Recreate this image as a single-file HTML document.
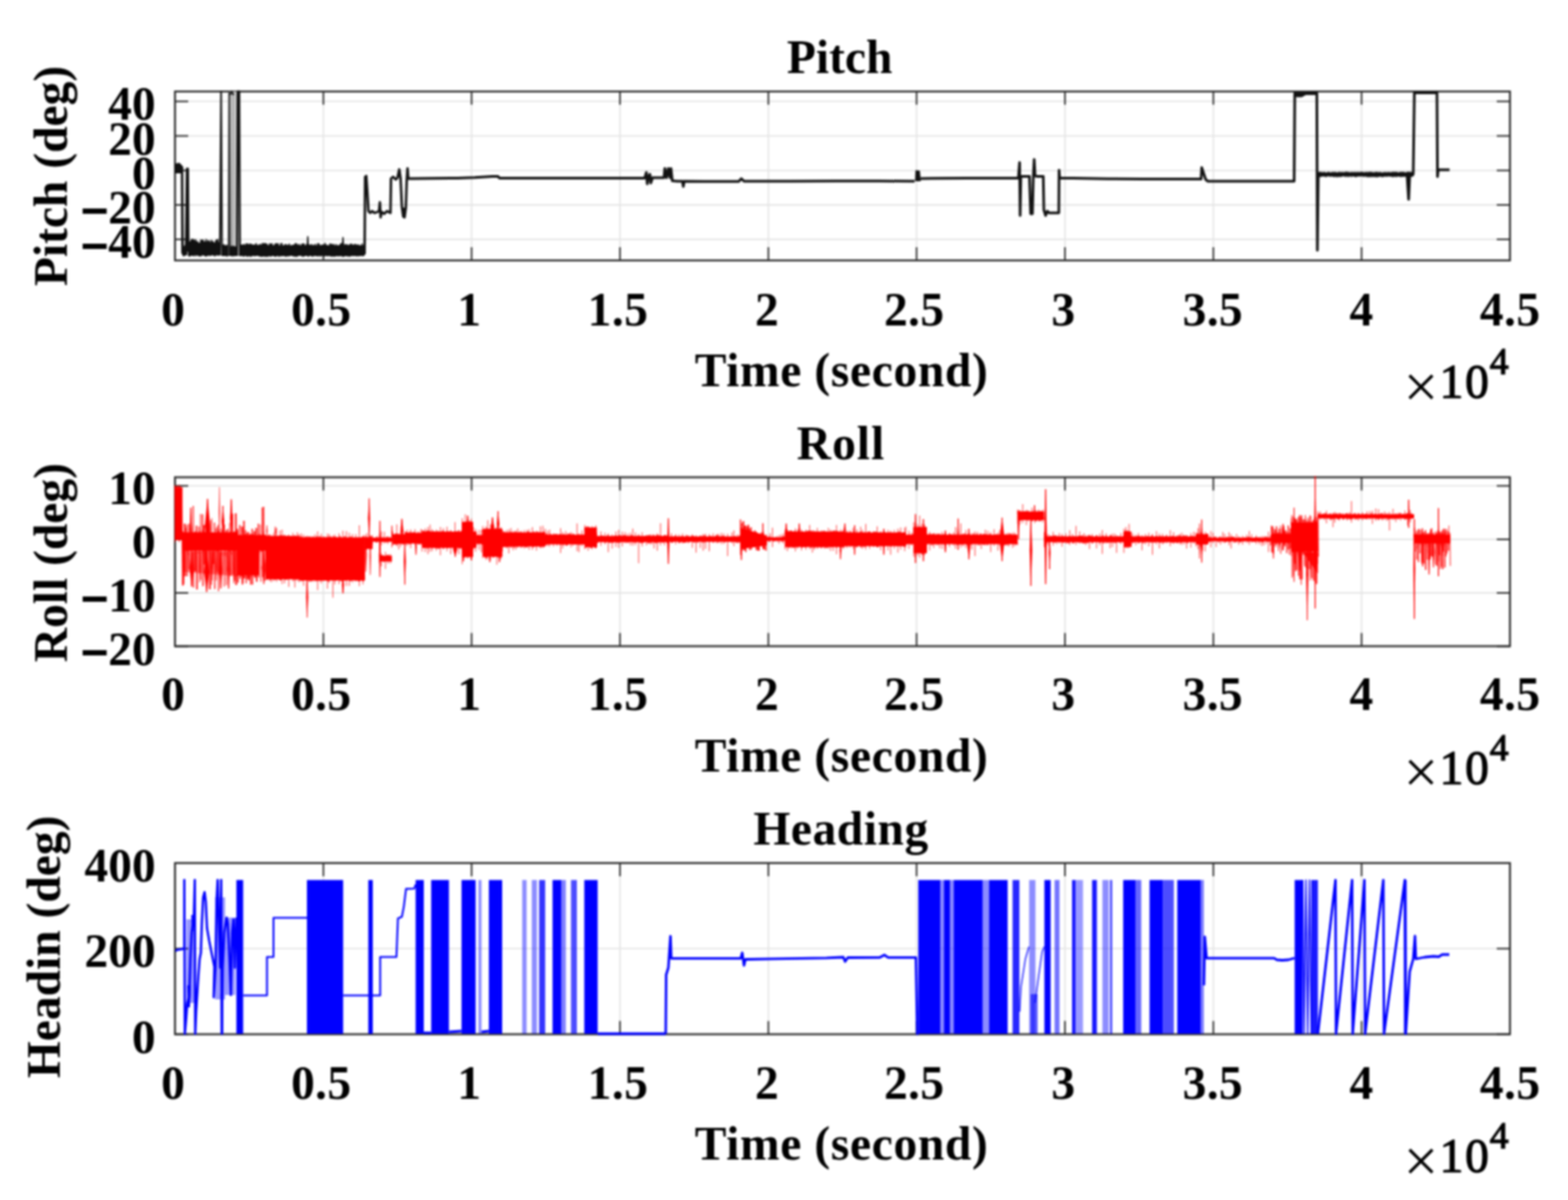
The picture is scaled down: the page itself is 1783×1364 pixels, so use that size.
<!DOCTYPE html>
<html><head><meta charset="utf-8"><style>html,body{margin:0;padding:0;background:#fff;}svg{display:block;}#wrap{filter:blur(1px);width:1783px;height:1364px;}</style></head>
<body><div id="wrap">
<svg width="1783" height="1364" viewBox="0 0 1783 1364">
<rect x="0" y="0" width="1783" height="1364" fill="#fff"/>
<line x1="367.7" y1="104.0" x2="367.7" y2="296.0" stroke="#e4e4e4" stroke-width="1.6"/>
<line x1="536.3" y1="104.0" x2="536.3" y2="296.0" stroke="#e4e4e4" stroke-width="1.6"/>
<line x1="705" y1="104.0" x2="705" y2="296.0" stroke="#e4e4e4" stroke-width="1.6"/>
<line x1="873.7" y1="104.0" x2="873.7" y2="296.0" stroke="#e4e4e4" stroke-width="1.6"/>
<line x1="1042.3" y1="104.0" x2="1042.3" y2="296.0" stroke="#e4e4e4" stroke-width="1.6"/>
<line x1="1211" y1="104.0" x2="1211" y2="296.0" stroke="#e4e4e4" stroke-width="1.6"/>
<line x1="1379.7" y1="104.0" x2="1379.7" y2="296.0" stroke="#e4e4e4" stroke-width="1.6"/>
<line x1="1548.3" y1="104.0" x2="1548.3" y2="296.0" stroke="#e4e4e4" stroke-width="1.6"/>
<line x1="199.0" y1="115.3" x2="1717.0" y2="115.3" stroke="#e4e4e4" stroke-width="1.6"/>
<line x1="199.0" y1="154.5" x2="1717.0" y2="154.5" stroke="#e4e4e4" stroke-width="1.6"/>
<line x1="199.0" y1="193.7" x2="1717.0" y2="193.7" stroke="#e4e4e4" stroke-width="1.6"/>
<line x1="199.0" y1="232.9" x2="1717.0" y2="232.9" stroke="#e4e4e4" stroke-width="1.6"/>
<line x1="199.0" y1="272.1" x2="1717.0" y2="272.1" stroke="#e4e4e4" stroke-width="1.6"/>
<line x1="367.7" y1="542.5" x2="367.7" y2="734.5" stroke="#e4e4e4" stroke-width="1.6"/>
<line x1="536.3" y1="542.5" x2="536.3" y2="734.5" stroke="#e4e4e4" stroke-width="1.6"/>
<line x1="705" y1="542.5" x2="705" y2="734.5" stroke="#e4e4e4" stroke-width="1.6"/>
<line x1="873.7" y1="542.5" x2="873.7" y2="734.5" stroke="#e4e4e4" stroke-width="1.6"/>
<line x1="1042.3" y1="542.5" x2="1042.3" y2="734.5" stroke="#e4e4e4" stroke-width="1.6"/>
<line x1="1211" y1="542.5" x2="1211" y2="734.5" stroke="#e4e4e4" stroke-width="1.6"/>
<line x1="1379.7" y1="542.5" x2="1379.7" y2="734.5" stroke="#e4e4e4" stroke-width="1.6"/>
<line x1="1548.3" y1="542.5" x2="1548.3" y2="734.5" stroke="#e4e4e4" stroke-width="1.6"/>
<line x1="199.0" y1="552.3" x2="1717.0" y2="552.3" stroke="#e4e4e4" stroke-width="1.6"/>
<line x1="199.0" y1="613.1" x2="1717.0" y2="613.1" stroke="#e4e4e4" stroke-width="1.6"/>
<line x1="199.0" y1="673.9" x2="1717.0" y2="673.9" stroke="#e4e4e4" stroke-width="1.6"/>
<line x1="367.7" y1="981.0" x2="367.7" y2="1175.6" stroke="#e4e4e4" stroke-width="1.6"/>
<line x1="536.3" y1="981.0" x2="536.3" y2="1175.6" stroke="#e4e4e4" stroke-width="1.6"/>
<line x1="705" y1="981.0" x2="705" y2="1175.6" stroke="#e4e4e4" stroke-width="1.6"/>
<line x1="873.7" y1="981.0" x2="873.7" y2="1175.6" stroke="#e4e4e4" stroke-width="1.6"/>
<line x1="1042.3" y1="981.0" x2="1042.3" y2="1175.6" stroke="#e4e4e4" stroke-width="1.6"/>
<line x1="1211" y1="981.0" x2="1211" y2="1175.6" stroke="#e4e4e4" stroke-width="1.6"/>
<line x1="1379.7" y1="981.0" x2="1379.7" y2="1175.6" stroke="#e4e4e4" stroke-width="1.6"/>
<line x1="1548.3" y1="981.0" x2="1548.3" y2="1175.6" stroke="#e4e4e4" stroke-width="1.6"/>
<line x1="199.0" y1="1078.3" x2="1717.0" y2="1078.3" stroke="#e4e4e4" stroke-width="1.6"/>
<line x1="199" y1="296.0" x2="199" y2="281.0" stroke="#2e2e2e" stroke-width="1.8"/>
<line x1="199" y1="104.0" x2="199" y2="119.0" stroke="#2e2e2e" stroke-width="1.8"/>
<line x1="367.7" y1="296.0" x2="367.7" y2="281.0" stroke="#2e2e2e" stroke-width="1.8"/>
<line x1="367.7" y1="104.0" x2="367.7" y2="119.0" stroke="#2e2e2e" stroke-width="1.8"/>
<line x1="536.3" y1="296.0" x2="536.3" y2="281.0" stroke="#2e2e2e" stroke-width="1.8"/>
<line x1="536.3" y1="104.0" x2="536.3" y2="119.0" stroke="#2e2e2e" stroke-width="1.8"/>
<line x1="705" y1="296.0" x2="705" y2="281.0" stroke="#2e2e2e" stroke-width="1.8"/>
<line x1="705" y1="104.0" x2="705" y2="119.0" stroke="#2e2e2e" stroke-width="1.8"/>
<line x1="873.7" y1="296.0" x2="873.7" y2="281.0" stroke="#2e2e2e" stroke-width="1.8"/>
<line x1="873.7" y1="104.0" x2="873.7" y2="119.0" stroke="#2e2e2e" stroke-width="1.8"/>
<line x1="1042.3" y1="296.0" x2="1042.3" y2="281.0" stroke="#2e2e2e" stroke-width="1.8"/>
<line x1="1042.3" y1="104.0" x2="1042.3" y2="119.0" stroke="#2e2e2e" stroke-width="1.8"/>
<line x1="1211" y1="296.0" x2="1211" y2="281.0" stroke="#2e2e2e" stroke-width="1.8"/>
<line x1="1211" y1="104.0" x2="1211" y2="119.0" stroke="#2e2e2e" stroke-width="1.8"/>
<line x1="1379.7" y1="296.0" x2="1379.7" y2="281.0" stroke="#2e2e2e" stroke-width="1.8"/>
<line x1="1379.7" y1="104.0" x2="1379.7" y2="119.0" stroke="#2e2e2e" stroke-width="1.8"/>
<line x1="1548.3" y1="296.0" x2="1548.3" y2="281.0" stroke="#2e2e2e" stroke-width="1.8"/>
<line x1="1548.3" y1="104.0" x2="1548.3" y2="119.0" stroke="#2e2e2e" stroke-width="1.8"/>
<line x1="1717" y1="296.0" x2="1717" y2="281.0" stroke="#2e2e2e" stroke-width="1.8"/>
<line x1="1717" y1="104.0" x2="1717" y2="119.0" stroke="#2e2e2e" stroke-width="1.8"/>
<line x1="199.0" y1="115.3" x2="214.0" y2="115.3" stroke="#2e2e2e" stroke-width="1.8"/>
<line x1="1717.0" y1="115.3" x2="1702.0" y2="115.3" stroke="#2e2e2e" stroke-width="1.8"/>
<line x1="199.0" y1="154.5" x2="214.0" y2="154.5" stroke="#2e2e2e" stroke-width="1.8"/>
<line x1="1717.0" y1="154.5" x2="1702.0" y2="154.5" stroke="#2e2e2e" stroke-width="1.8"/>
<line x1="199.0" y1="193.7" x2="214.0" y2="193.7" stroke="#2e2e2e" stroke-width="1.8"/>
<line x1="1717.0" y1="193.7" x2="1702.0" y2="193.7" stroke="#2e2e2e" stroke-width="1.8"/>
<line x1="199.0" y1="232.9" x2="214.0" y2="232.9" stroke="#2e2e2e" stroke-width="1.8"/>
<line x1="1717.0" y1="232.9" x2="1702.0" y2="232.9" stroke="#2e2e2e" stroke-width="1.8"/>
<line x1="199.0" y1="272.1" x2="214.0" y2="272.1" stroke="#2e2e2e" stroke-width="1.8"/>
<line x1="1717.0" y1="272.1" x2="1702.0" y2="272.1" stroke="#2e2e2e" stroke-width="1.8"/>
<rect x="199.0" y="104.0" width="1518.0" height="192.0" fill="none" stroke="#2e2e2e" stroke-width="2.2"/>
<line x1="199" y1="734.5" x2="199" y2="719.5" stroke="#2e2e2e" stroke-width="1.8"/>
<line x1="199" y1="542.5" x2="199" y2="557.5" stroke="#2e2e2e" stroke-width="1.8"/>
<line x1="367.7" y1="734.5" x2="367.7" y2="719.5" stroke="#2e2e2e" stroke-width="1.8"/>
<line x1="367.7" y1="542.5" x2="367.7" y2="557.5" stroke="#2e2e2e" stroke-width="1.8"/>
<line x1="536.3" y1="734.5" x2="536.3" y2="719.5" stroke="#2e2e2e" stroke-width="1.8"/>
<line x1="536.3" y1="542.5" x2="536.3" y2="557.5" stroke="#2e2e2e" stroke-width="1.8"/>
<line x1="705" y1="734.5" x2="705" y2="719.5" stroke="#2e2e2e" stroke-width="1.8"/>
<line x1="705" y1="542.5" x2="705" y2="557.5" stroke="#2e2e2e" stroke-width="1.8"/>
<line x1="873.7" y1="734.5" x2="873.7" y2="719.5" stroke="#2e2e2e" stroke-width="1.8"/>
<line x1="873.7" y1="542.5" x2="873.7" y2="557.5" stroke="#2e2e2e" stroke-width="1.8"/>
<line x1="1042.3" y1="734.5" x2="1042.3" y2="719.5" stroke="#2e2e2e" stroke-width="1.8"/>
<line x1="1042.3" y1="542.5" x2="1042.3" y2="557.5" stroke="#2e2e2e" stroke-width="1.8"/>
<line x1="1211" y1="734.5" x2="1211" y2="719.5" stroke="#2e2e2e" stroke-width="1.8"/>
<line x1="1211" y1="542.5" x2="1211" y2="557.5" stroke="#2e2e2e" stroke-width="1.8"/>
<line x1="1379.7" y1="734.5" x2="1379.7" y2="719.5" stroke="#2e2e2e" stroke-width="1.8"/>
<line x1="1379.7" y1="542.5" x2="1379.7" y2="557.5" stroke="#2e2e2e" stroke-width="1.8"/>
<line x1="1548.3" y1="734.5" x2="1548.3" y2="719.5" stroke="#2e2e2e" stroke-width="1.8"/>
<line x1="1548.3" y1="542.5" x2="1548.3" y2="557.5" stroke="#2e2e2e" stroke-width="1.8"/>
<line x1="1717" y1="734.5" x2="1717" y2="719.5" stroke="#2e2e2e" stroke-width="1.8"/>
<line x1="1717" y1="542.5" x2="1717" y2="557.5" stroke="#2e2e2e" stroke-width="1.8"/>
<line x1="199.0" y1="552.3" x2="214.0" y2="552.3" stroke="#2e2e2e" stroke-width="1.8"/>
<line x1="1717.0" y1="552.3" x2="1702.0" y2="552.3" stroke="#2e2e2e" stroke-width="1.8"/>
<line x1="199.0" y1="613.1" x2="214.0" y2="613.1" stroke="#2e2e2e" stroke-width="1.8"/>
<line x1="1717.0" y1="613.1" x2="1702.0" y2="613.1" stroke="#2e2e2e" stroke-width="1.8"/>
<line x1="199.0" y1="673.9" x2="214.0" y2="673.9" stroke="#2e2e2e" stroke-width="1.8"/>
<line x1="1717.0" y1="673.9" x2="1702.0" y2="673.9" stroke="#2e2e2e" stroke-width="1.8"/>
<line x1="199.0" y1="734.7" x2="214.0" y2="734.7" stroke="#2e2e2e" stroke-width="1.8"/>
<line x1="1717.0" y1="734.7" x2="1702.0" y2="734.7" stroke="#2e2e2e" stroke-width="1.8"/>
<rect x="199.0" y="542.5" width="1518.0" height="192.0" fill="none" stroke="#2e2e2e" stroke-width="2.2"/>
<line x1="199" y1="1175.6" x2="199" y2="1160.6" stroke="#2e2e2e" stroke-width="1.8"/>
<line x1="199" y1="981.0" x2="199" y2="996.0" stroke="#2e2e2e" stroke-width="1.8"/>
<line x1="367.7" y1="1175.6" x2="367.7" y2="1160.6" stroke="#2e2e2e" stroke-width="1.8"/>
<line x1="367.7" y1="981.0" x2="367.7" y2="996.0" stroke="#2e2e2e" stroke-width="1.8"/>
<line x1="536.3" y1="1175.6" x2="536.3" y2="1160.6" stroke="#2e2e2e" stroke-width="1.8"/>
<line x1="536.3" y1="981.0" x2="536.3" y2="996.0" stroke="#2e2e2e" stroke-width="1.8"/>
<line x1="705" y1="1175.6" x2="705" y2="1160.6" stroke="#2e2e2e" stroke-width="1.8"/>
<line x1="705" y1="981.0" x2="705" y2="996.0" stroke="#2e2e2e" stroke-width="1.8"/>
<line x1="873.7" y1="1175.6" x2="873.7" y2="1160.6" stroke="#2e2e2e" stroke-width="1.8"/>
<line x1="873.7" y1="981.0" x2="873.7" y2="996.0" stroke="#2e2e2e" stroke-width="1.8"/>
<line x1="1042.3" y1="1175.6" x2="1042.3" y2="1160.6" stroke="#2e2e2e" stroke-width="1.8"/>
<line x1="1042.3" y1="981.0" x2="1042.3" y2="996.0" stroke="#2e2e2e" stroke-width="1.8"/>
<line x1="1211" y1="1175.6" x2="1211" y2="1160.6" stroke="#2e2e2e" stroke-width="1.8"/>
<line x1="1211" y1="981.0" x2="1211" y2="996.0" stroke="#2e2e2e" stroke-width="1.8"/>
<line x1="1379.7" y1="1175.6" x2="1379.7" y2="1160.6" stroke="#2e2e2e" stroke-width="1.8"/>
<line x1="1379.7" y1="981.0" x2="1379.7" y2="996.0" stroke="#2e2e2e" stroke-width="1.8"/>
<line x1="1548.3" y1="1175.6" x2="1548.3" y2="1160.6" stroke="#2e2e2e" stroke-width="1.8"/>
<line x1="1548.3" y1="981.0" x2="1548.3" y2="996.0" stroke="#2e2e2e" stroke-width="1.8"/>
<line x1="1717" y1="1175.6" x2="1717" y2="1160.6" stroke="#2e2e2e" stroke-width="1.8"/>
<line x1="1717" y1="981.0" x2="1717" y2="996.0" stroke="#2e2e2e" stroke-width="1.8"/>
<line x1="199.0" y1="981" x2="214.0" y2="981" stroke="#2e2e2e" stroke-width="1.8"/>
<line x1="1717.0" y1="981" x2="1702.0" y2="981" stroke="#2e2e2e" stroke-width="1.8"/>
<line x1="199.0" y1="1078.3" x2="214.0" y2="1078.3" stroke="#2e2e2e" stroke-width="1.8"/>
<line x1="1717.0" y1="1078.3" x2="1702.0" y2="1078.3" stroke="#2e2e2e" stroke-width="1.8"/>
<line x1="199.0" y1="1175.6" x2="214.0" y2="1175.6" stroke="#2e2e2e" stroke-width="1.8"/>
<line x1="1717.0" y1="1175.6" x2="1702.0" y2="1175.6" stroke="#2e2e2e" stroke-width="1.8"/>
<rect x="199.0" y="981.0" width="1518.0" height="194.5999999999999" fill="none" stroke="#2e2e2e" stroke-width="2.2"/>
<polygon points="199,186 204,185 207,188 207,197 199,197" fill="#111" />
<polyline points="199,190 203,188 207,190 207.5,287 209,290 210.5,280 211.5,289 212.7,192 213.5,192 214.2,286" fill="none" stroke="#111" stroke-width="2.8" stroke-linejoin="round" />
<polyline points="214,273.6 214.6,290.7 215.2,275.3 215.8,290.9 216.4,274.7 217,290.3 217.6,272.3 218.2,290 218.8,272.2 219.4,290.1 220,272.3 220.6,290.8 221.2,274.1 221.8,289.3 222.4,272.6 223,290.6 223.6,275.1 224.2,289.1 224.8,274.9 225.4,290.2 226,276.9 226.6,290.9 227.2,276.3 227.8,290.4 228.4,272.7 229,290.8 229.6,273.5 230.2,289.4 230.8,272.9 231.4,289.8 232,275.2 232.6,290.3 233.2,274.7 233.8,290.9 234.4,272.3 235,290.6 235.6,275.4 236.2,290.1 236.8,273.6 237.4,289.8 238,274.3 238.6,290.4 239.2,276 239.8,289.6 240.4,273.2 241,289.9 241.6,274.6 242.2,289.2 242.8,275.6 243.4,290.4 244,276.9 244.6,290.8 245.2,274.1 245.8,289.5 246.4,272.8 247,290 247.6,272.2 248.2,289.7 248.8,275.8 249.4,289.9 250,276.4" fill="none" stroke="#111" stroke-width="1.6" stroke-linejoin="round" />
<polyline points="250,290 251.4,104 252.5,291" fill="none" stroke="#111" stroke-width="2.0" stroke-linejoin="round" />
<polyline points="252.5,277.9 253.1,290.3 253.7,278.8 254.3,290.4 254.9,278.4 255.5,290.2 256.1,279.8 256.7,290.5 257.3,279 257.9,290.9 258.5,279.1 259.1,290.4 259.7,280 260.3,290.2 260.9,277.9" fill="none" stroke="#111" stroke-width="1.6" stroke-linejoin="round" />
<polygon points="261,291 261,104 270,104 270,291" fill="#c8c8c8" />
<polyline points="260,291 260.7,106 261.5,291" fill="none" stroke="#333" stroke-width="2.2" stroke-linejoin="round" />
<polyline points="261,108 263.3,104 265.5,108" fill="none" stroke="#222" stroke-width="2.4" stroke-linejoin="round" />
<polyline points="264.5,291 265,108" fill="none" stroke="#999" stroke-width="1.2" stroke-linejoin="round" />
<polyline points="261.5,280.8 262.1,290.3 262.7,280 263.3,290.5 263.9,280.3 264.5,290.9 265.1,280.1 265.7,290.2 266.3,280.3 266.9,290.8 267.5,280.8 268.1,290.1 268.7,280.2" fill="none" stroke="#111" stroke-width="1.6" stroke-linejoin="round" />
<polyline points="269.5,291 270.3,104 272,104 272.8,291" fill="none" stroke="#111" stroke-width="2.4" stroke-linejoin="round" />
<polygon points="273,278 300,279 330,279.5 360,279.5 414.6,280 414.6,290.5 273,290.5" fill="#111" />
<polyline points="273,277.8 273.7,290.7 274.4,279.2 275.1,290.3 275.8,279.1 276.5,291.1 277.2,277.7 277.9,291 278.6,279.2 279.3,290.1 280,277 280.7,291.2 281.4,277.2 282.1,291.1 282.8,278 283.5,290.6 284.2,277.3 284.9,291.5 285.6,277.8 286.3,290.9 287,278.2 287.7,290.1 288.4,278.6 289.1,290.7 289.8,278.4 290.5,290.5 291.2,276.7 291.9,290.2 292.6,278.8 293.3,290.2 294,278.9 294.7,290.9 295.4,277.7 296.1,291.3 296.8,278.4 297.5,291.4 298.2,276.7 298.9,291.2 299.6,277 300.3,291 301,276.7 301.7,291.5 302.4,277 303.1,291.3 303.8,277.6 304.5,291.5 305.2,279.1 305.9,290.6 306.6,276.9 307.3,291.1 308,277.5 308.7,291 309.4,276.9 310.1,290.2 310.8,279.5 311.5,290.8 312.2,278 312.9,291.4 313.6,276.8 314.3,291 315,277.3 315.7,290.3 316.4,277 317.1,291.5 317.8,279.4 318.5,290.7 319.2,276.9 319.9,290.7 320.6,276.6 321.3,290.7 322,279.4 322.7,290.2 323.4,278.6 324.1,291.1 324.8,277.6 325.5,291.2 326.2,278.8 326.9,290.7 327.6,278.8 328.3,291 329,277.2 329.7,290.3 330.4,279.5 331.1,290.2 331.8,278.9 332.5,290.3 333.2,278.7 333.9,291.2 334.6,278.1 335.3,291 336,276.6 336.7,291.5 337.4,277.3 338.1,291.1 338.8,278.6 339.5,290.1 340.2,277.8 340.9,290.1 341.6,279.5 342.3,290.1 343,277.6 343.7,291.2 344.4,277.2 345.1,291.2 345.8,277.1 346.5,290.6 347.2,279.2 347.9,290.2 348.6,277.9 349.3,290.5 350,278.9 350.7,291.4 351.4,278.5 352.1,290.1 352.8,278.8 353.5,290.4 354.2,277.9 354.9,291.2 355.6,278.9 356.3,291 357,278.9 357.7,290 358.4,277.7 359.1,290.9 359.8,279.3 360.5,290.4 361.2,277 361.9,291.3 362.6,277 363.3,290.1 364,278.9 364.7,291.3 365.4,279 366.1,290 366.8,278.5 367.5,291 368.2,278.1 368.9,291.3 369.6,276.5 370.3,290 371,278.4 371.7,290.7 372.4,279.3 373.1,290.8 373.8,279.1 374.5,290.3 375.2,277.1 375.9,291.1 376.6,277.4 377.3,291.1 378,278.3 378.7,291.1 379.4,277.8 380.1,291.3 380.8,279.2 381.5,291 382.2,277.9 382.9,290.6 383.6,279.2 384.3,290.9 385,279.3 385.7,290.7 386.4,278.1 387.1,290.7 387.8,276.6 388.5,290.8 389.2,277 389.9,291.5 390.6,278.9 391.3,291.2 392,277.9 392.7,290.4 393.4,278.2 394.1,291 394.8,278.1 395.5,290.7 396.2,278.9 396.9,291.3 397.6,278.2 398.3,291.1 399,277.3 399.7,290.3 400.4,278 401.1,290.7 401.8,278.8 402.5,290.1 403.2,277.8 403.9,290.6 404.6,278 405.3,290.7 406,278.6 406.7,290.8 407.4,278.1 408.1,290.8 408.8,279.3 409.5,290.5 410.2,279.1 410.9,290.1 411.6,277.3 412.3,290.7 413,279.3 413.7,290.2 414.4,276.9" fill="none" stroke="#111" stroke-width="1.4" stroke-linejoin="round" />
<polyline points="349.5,280 350,269 350.5,280" fill="none" stroke="#111" stroke-width="1.5" stroke-linejoin="round" />
<polyline points="389.5,280 390,270 390.5,280" fill="none" stroke="#111" stroke-width="1.5" stroke-linejoin="round" />
<polyline points="414.6,289 415.2,201 416.5,200 417.5,215 419,240 421,242 423,240 426,242 429,241 431,240 432,230 432.8,247 434,241 437,243 440,240 444,242 444.6,203 447,201 450,204 452,202 454,192.5 455.5,203 457,235 458.5,246 460,247 461.5,236 462.5,205 463.4,191.5 464.3,203 470,203" fill="none" stroke="#111" stroke-width="2.8" stroke-linejoin="round" />
<polygon points="456.5,236 461,236 459.5,248" fill="#111" />
<polyline points="470,203 490,202.7 520,202.5 540,201.8 560,200.6 566,200.4 568,202.4 600,202.6 650,202.6 700,202.6 733,202.6 735,196 736,209 737,202 739,198 740,208 742,202 750,202 755,202 756,191.5 758,202 760,191.5 762,202 763,191.5 764.5,205.5 770,206 776,206 777,212 778,206 800,206.2 840,206.2 843,203 846,206 870,206 900,206 950,205.8 1000,205.8 1040,206" fill="none" stroke="#111" stroke-width="3.0" stroke-linejoin="round" />
<polygon points="1040.5,206 1041,193.6 1046,194 1047,204 1047,206" fill="#111" />
<polyline points="1047,203 1060,202.8 1100,202.6 1150,202.4 1158,202.4 1159.4,184.7 1160,245 1160.8,200.4 1168,200.4 1170.6,200.4 1172,243 1174,243 1175,200 1176,181.3 1177,200 1179.6,200.4 1186.3,200.4 1187,238.5 1189,245 1191,240 1193,242 1204,242 1204.3,193.6 1205,202.6 1220,202.6 1260,203.2 1300,203.4 1340,203.6 1365.8,203.6 1366.5,190.5 1369,198 1371,204 1373.5,206 1420,206 1471.6,206 1472.3,106 1475,109 1480,109 1484,106.6 1497.4,106 1498,284.6 1499,198.2 1505,198 1520,198.5 1540,198 1560,198.5 1580,198.2 1600,199 1601.8,226.6 1603,200 1607,198 1608.3,105.3 1634,105.3 1634.6,200.8 1635.4,193 1648.3,193" fill="none" stroke="#111" stroke-width="3.0" stroke-linejoin="round" />
<polyline points="1499,195.6 1499.8,200.6 1500.6,195.6 1501.4,200.8 1502.2,195.6 1503,200.3 1503.8,196.3 1504.6,200.1 1505.4,195.7 1506.2,200.3 1507,196.2 1507.8,200.9 1508.6,196.4 1509.4,200 1510.2,195.7 1511,200 1511.8,195.9 1512.6,200.5 1513.4,196.5 1514.2,200.2 1515,195.7 1515.8,200.6 1516.6,196 1517.4,200.7 1518.2,195.7 1519,200.7 1519.8,196.2 1520.6,201 1521.4,196.1 1522.2,200.6 1523,195.5 1523.8,200.7 1524.6,196.1 1525.4,200.5 1526.2,195.6 1527,200 1527.8,196.3 1528.6,200 1529.4,195.6 1530.2,200.7 1531,195.5 1531.8,200.2 1532.6,195.8 1533.4,200.9 1534.2,195.9 1535,200.1 1535.8,196.3 1536.6,200.7 1537.4,195.6 1538.2,200.1 1539,196.1 1539.8,200.3 1540.6,195.6 1541.4,200.9 1542.2,196.2 1543,200.6 1543.8,195.6 1544.6,200.1 1545.4,196.1 1546.2,200.2 1547,195.6 1547.8,200.1 1548.6,195.6 1549.4,200.1 1550.2,196 1551,200.7 1551.8,196.1 1552.6,200.1 1553.4,195.8 1554.2,200.9 1555,196 1555.8,200.8 1556.6,195.6 1557.4,200.8 1558.2,195.6 1559,200.8 1559.8,195.8 1560.6,200.7 1561.4,196.3 1562.2,200.7 1563,196 1563.8,200.8 1564.6,195.8 1565.4,201 1566.2,195.8 1567,201 1567.8,196.2 1568.6,200.4 1569.4,195.7 1570.2,200.5 1571,196.4 1571.8,200.9 1572.6,196.3 1573.4,200.6 1574.2,196 1575,200.2 1575.8,195.9 1576.6,200.5 1577.4,196.2 1578.2,200 1579,195.8 1579.8,200.2 1580.6,196.2 1581.4,200.4 1582.2,195.9 1583,200.7 1583.8,195.6 1584.6,200.9 1585.4,195.6 1586.2,200.3 1587,195.8 1587.8,200.8 1588.6,195.6 1589.4,200.2 1590.2,196.4 1591,200.3 1591.8,195.8 1592.6,200.8 1593.4,195.8 1594.2,200.5 1595,195.7 1595.8,200.6 1596.6,195.8 1597.4,200 1598.2,196.5 1599,200.5 1599.8,195.7 1600.6,200 1601.4,195.8 1602.2,200.6 1603,195.5 1603.8,200.6 1604.6,196 1605.4,200.5 1606.2,195.7 1607,200.5" fill="none" stroke="#111" stroke-width="1.4" stroke-linejoin="round" />
<polygon points="1472.3,104.5 1497.4,104.5 1497.4,108 1472.3,108" fill="#111" />
<polygon points="1608.3,104.5 1634,104.5 1634,107 1608.3,107" fill="#111" />
<polygon points="199,553.7 207.5,553.7 207.5,613.5 199,613.5" fill="#ff0000" />
<polyline points="199,552.5 199.9,614 200.8,552.7 201.7,613.7 202.6,552.6 203.5,614.6 204.4,553.3 205.3,614.1 206.2,554 207.1,613.4" fill="none" stroke="#ff0000" stroke-width="1.0" stroke-linejoin="round" />
<polygon points="207.5,605.2 270,605.2 270,625.8 207.5,625.8" fill="#ff0000" />
<polyline points="207.5,605.9 208.4,625.4 209.3,605.8 210.2,624.8 211.1,605 212,626.2 212.9,606.5 213.8,626.6 214.7,605.8 215.6,625.4 216.5,604.1 217.4,624.9 218.3,606.2 219.2,625.4 220.1,605.8 221,625 221.9,604.3 222.8,625.7 223.7,605.3 224.6,624.9 225.5,606 226.4,624.9 227.3,605.5 228.2,624.8 229.1,605.7 230,625.3 230.9,604.6 231.8,626.9 232.7,604.3 233.6,626.1 234.5,604.3 235.4,624.9 236.3,605.4 237.2,625.4 238.1,605.6 239,625.3 239.9,605.2 240.8,627 241.7,606 242.6,625.1 243.5,605.3 244.4,625.7 245.3,605.6 246.2,626.8 247.1,605.8 248,626.4 248.9,604.2 249.8,626.3 250.7,605.8 251.6,626.5 252.5,605.8 253.4,624.6 254.3,605.2 255.2,626 256.1,605.2 257,625.3 257.9,605.9 258.8,625.5 259.7,605.6 260.6,626.8 261.5,604.4 262.4,626.4 263.3,605.9 264.2,626.2 265.1,605.4 266,627 266.9,604.2 267.8,626.3 268.7,605.7 269.6,625.3" fill="none" stroke="#ff0000" stroke-width="1.0" stroke-linejoin="round" />
<polygon points="270,608.2 295,608.2 295,653.8 270,653.8" fill="#ff0000" />
<polyline points="270,608.7 270.9,654.3 271.8,608.3 272.7,653.8 273.6,608.2 274.5,654.7 275.4,609.2 276.3,654.5 277.2,609.4 278.1,652.7 279,607 279.9,653.9 280.8,609 281.7,652.6 282.6,608.1 283.5,654.3 284.4,607.5 285.3,652.6 286.2,607.5 287.1,653.5 288,607.4 288.9,653.7 289.8,609.4 290.7,654.7 291.6,609.1 292.5,653.7 293.4,609.2 294.3,653.2" fill="none" stroke="#ff0000" stroke-width="1.0" stroke-linejoin="round" />
<polygon points="295,608.2 302,608.2 302,625.8 295,625.8" fill="#ff0000" />
<polyline points="295,607.6 295.9,624.8 296.8,608.2 297.7,626.9 298.6,607 299.5,625.8 300.4,608.1 301.3,626.2" fill="none" stroke="#ff0000" stroke-width="1.0" stroke-linejoin="round" />
<polygon points="302,609.2 340,609.2 340,658.4 302,658.4" fill="#ff0000" />
<polyline points="302,608.4 302.9,658.7 303.8,608.8 304.7,657.5 305.6,608 306.5,657.7 307.4,610.1 308.3,659.3 309.2,610.3 310.1,657.8 311,610.3 311.9,658.9 312.8,608.9 313.7,658.6 314.6,610.5 315.5,658.1 316.4,608.9 317.3,658.5 318.2,608.7 319.1,659.5 320,608.3 320.9,657.5 321.8,608.7 322.7,657.3 323.6,608.6 324.5,658.9 325.4,609.3 326.3,659.1 327.2,608.9 328.1,657.2 329,610.2 329.9,657.6 330.8,609.6 331.7,657.3 332.6,610.4 333.5,658.2 334.4,609.8 335.3,659.5 336.2,609.8 337.1,658.5 338,609.9 338.9,658 339.8,608.7" fill="none" stroke="#ff0000" stroke-width="1.0" stroke-linejoin="round" />
<polygon points="340,610.7 414.8,610.7 414.8,659.8 340,659.8" fill="#ff0000" />
<polyline points="340,609.6 340.9,658.7 341.8,609.8 342.7,659.8 343.6,610.4 344.5,660.3 345.4,611.3 346.3,658.6 347.2,610.2 348.1,659.4 349,610.3 349.9,659.6 350.8,610.5 351.7,660.6 352.6,609.9 353.5,660.5 354.4,611.8 355.3,659.8 356.2,610.1 357.1,658.7 358,612 358.9,659.9 359.8,609.8 360.7,660.5 361.6,609.7 362.5,660.1 363.4,609.7 364.3,660.4 365.2,610.1 366.1,659.6 367,611.7 367.9,659.1 368.8,610.5 369.7,660 370.6,610.8 371.5,660.1 372.4,610.3 373.3,660.8 374.2,610.2 375.1,658.6 376,609.8 376.9,659.7 377.8,611.1 378.7,658.8 379.6,610 380.5,660.3 381.4,610.1 382.3,660 383.2,610.6 384.1,658.6 385,611.6 385.9,658.8 386.8,609.6 387.7,660.9 388.6,611.3 389.5,658.8 390.4,610.7 391.3,659.5 392.2,609.5 393.1,660 394,611.8 394.9,658.9 395.8,611.6 396.7,658.6 397.6,610.1 398.5,660.7 399.4,609.9 400.3,659.7 401.2,611.2 402.1,658.6 403,611.3 403.9,659.4 404.8,611.4 405.7,659.9 406.6,610.9 407.5,660.9 408.4,611.5 409.3,660.4 410.2,611.8 411.1,659.4 412,610.3 412.9,660.7 413.8,610.1 414.7,659.4" fill="none" stroke="#ff0000" stroke-width="1.0" stroke-linejoin="round" />
<polygon points="414.8,610.7 423.6,610.7 423.6,623.8 414.8,623.8" fill="#ff0000" />
<polyline points="414.8,611.2 415.7,624.7 416.6,609.7 417.5,623.7 418.4,611 419.3,624 420.2,610.1 421.1,623.5 422,609.5 422.9,624.2" fill="none" stroke="#ff0000" stroke-width="1.0" stroke-linejoin="round" />
<polygon points="423.6,611.2 446.7,611.2 446.7,615.8 423.6,615.8" fill="#ff0000" />
<polyline points="423.6,611.2 424.5,614.6 425.4,611.6 426.3,614.8 427.2,611.2 428.1,616.4 429,610.6 429.9,614.6 430.8,611.8 431.7,616.2 432.6,610.1 433.5,615.8 434.4,611.7 435.3,615.9 436.2,610.6 437.1,615.3 438,612.3 438.9,616.4 439.8,610.1 440.7,616.2 441.6,611.1 442.5,615.3 443.4,610.5 444.3,615 445.2,611.8 446.1,615.7" fill="none" stroke="#ff0000" stroke-width="1.0" stroke-linejoin="round" />
<polygon points="431.3,631.6 445.6,631.6 445.6,638 431.3,638" fill="#ff0000" />
<polyline points="431.3,630.9 432.2,636.8 433.1,631.2 434,637.1 434.9,631 435.8,638.6 436.7,632.3 437.6,638.5 438.5,632.8 439.4,638 440.3,630.9 441.2,638.6 442.1,631.4 443,637.5 443.9,632.8 444.8,638.8" fill="none" stroke="#ff0000" stroke-width="1.0" stroke-linejoin="round" />
<polygon points="446.7,607.2 461,607.2 461,618.2 446.7,618.2" fill="#ff0000" />
<polyline points="446.7,607 447.6,618.9 448.5,608.4 449.4,619 450.3,606.1 451.2,619.2 452.1,607 453,617.2 453.9,608.2 454.8,617.6 455.7,608.5 456.6,617.1 457.5,606.8 458.4,618.9 459.3,608.3 460.2,617.5" fill="none" stroke="#ff0000" stroke-width="1.0" stroke-linejoin="round" />
<polygon points="461,605.7 480,605.7 480,617.8 461,617.8" fill="#ff0000" />
<polyline points="461,604.6 461.9,617.3 462.8,605.4 463.7,618.1 464.6,605.3 465.5,618.6 466.4,604.5 467.3,618.3 468.2,605.4 469.1,616.6 470,604.8 470.9,616.6 471.8,605 472.7,618.1 473.6,606.6 474.5,616.9 475.4,605.6 476.3,618.9 477.2,605.7 478.1,618.1 479,606.8 479.9,618.5" fill="none" stroke="#ff0000" stroke-width="1.0" stroke-linejoin="round" />
<polygon points="480,604.2 541.7,604.2 541.7,622.8 480,622.8" fill="#ff0000" />
<polyline points="480,603.9 480.9,621.8 481.8,603.1 482.7,623 483.6,605 484.5,622.1 485.4,603.1 486.3,623.9 487.2,603.2 488.1,621.7 489,603.6 489.9,622.1 490.8,605.2 491.7,623.2 492.6,603.7 493.5,621.6 494.4,604.5 495.3,623.3 496.2,604.8 497.1,623.2 498,603.7 498.9,624 499.8,604.9 500.7,621.7 501.6,604.6 502.5,621.6 503.4,603.1 504.3,623.4 505.2,604.2 506.1,621.6 507,605.4 507.9,623 508.8,603.6 509.7,622.9 510.6,604.2 511.5,621.7 512.4,603.5 513.3,622 514.2,604.8 515.1,621.9 516,604.9 516.9,622.5 517.8,603.8 518.7,623.2 519.6,603.9 520.5,622 521.4,603.2 522.3,623.5 523.2,604.9 524.1,623.4 525,603.2 525.9,623.9 526.8,604.4 527.7,623.2 528.6,605.5 529.5,621.8 530.4,605.5 531.3,623.3 532.2,603.2 533.1,623.8 534,604.2 534.9,622.2 535.8,604.1 536.7,623.4 537.6,604 538.5,622.4 539.4,604.7 540.3,622.1 541.2,605.1" fill="none" stroke="#ff0000" stroke-width="1.0" stroke-linejoin="round" />
<polygon points="525.6,593.2 538,593.2 538,632.8 525.6,632.8" fill="#ff0000" />
<polyline points="525.6,593.7 526.5,633.7 527.4,594.1 528.3,633.3 529.2,593.4 530.1,633.1 531,593.8 531.9,633.5 532.8,592.6 533.7,633.4 534.6,592.4 535.5,631.8 536.4,593.4 537.3,633.2" fill="none" stroke="#ff0000" stroke-width="1.0" stroke-linejoin="round" />
<polygon points="541.7,608.2 549,608.2 549,618.2 541.7,618.2" fill="#ff0000" />
<polyline points="541.7,608 542.6,616.9 543.5,608.3 544.4,618.8 545.3,609 546.2,617.8 547.1,609.5 548,619.1 548.9,608.2" fill="none" stroke="#ff0000" stroke-width="1.0" stroke-linejoin="round" />
<polygon points="549,601.2 571.3,601.2 571.3,632.8 549,632.8" fill="#ff0000" />
<polyline points="549,602 549.9,631.9 550.8,602.3 551.7,633.9 552.6,600.7 553.5,633.7 554.4,600.5 555.3,631.6 556.2,601.5 557.1,631.7 558,600.9 558.9,631.8 559.8,601.1 560.7,633.4 561.6,601.9 562.5,631.6 563.4,600.3 564.3,632.5 565.2,601.5 566.1,633.5 567,600.9 567.9,633.6 568.8,600.5 569.7,633.4 570.6,601.5" fill="none" stroke="#ff0000" stroke-width="1.0" stroke-linejoin="round" />
<polygon points="571.3,605.2 620,605.2 620,621.3 571.3,621.3" fill="#ff0000" />
<polyline points="571.3,605.6 572.2,622 573.1,604 574,621.7 574.9,605.7 575.8,622 576.7,604.8 577.6,622 578.5,606 579.4,621.1 580.3,604.2 581.2,622.2 582.1,605 583,621.1 583.9,605.6 584.8,622.3 585.7,604.4 586.6,620.8 587.5,605 588.4,621.8 589.3,604.8 590.2,620.1 591.1,604.8 592,621.1 592.9,604.9 593.8,621.5 594.7,606.2 595.6,620 596.5,604.9 597.4,622 598.3,605.8 599.2,622 600.1,604 601,620.2 601.9,605.1 602.8,620.4 603.7,605 604.6,620.3 605.5,605.2 606.4,622.1 607.3,604 608.2,621.1 609.1,605.6 610,620.2 610.9,604.2 611.8,620.9 612.7,604.9 613.6,621.2 614.5,604.4 615.4,621.8 616.3,605.3 617.2,620.2 618.1,604.3 619,621.3 619.9,606" fill="none" stroke="#ff0000" stroke-width="1.0" stroke-linejoin="round" />
<polygon points="620,607.7 665,607.7 665,618.8 620,618.8" fill="#ff0000" />
<polyline points="620,608.9 620.9,619.5 621.8,606.8 622.7,617.6 623.6,608.9 624.5,618.8 625.4,606.6 626.3,617.7 627.2,607.5 628.1,617.7 629,608.1 629.9,617.9 630.8,606.9 631.7,618 632.6,607.1 633.5,619 634.4,608.6 635.3,617.9 636.2,607 637.1,619.5 638,607.5 638.9,618.7 639.8,607.5 640.7,619.7 641.6,607.1 642.5,618.2 643.4,608.7 644.3,619.9 645.2,607.9 646.1,618.1 647,606.6 647.9,617.9 648.8,606.8 649.7,618.5 650.6,607.9 651.5,618.4 652.4,607.3 653.3,618.9 654.2,608 655.1,618.9 656,608.1 656.9,618.9 657.8,607.6 658.7,619.9 659.6,608 660.5,618.8 661.4,607.1 662.3,618.1 663.2,608.4 664.1,618.9 665,606.9" fill="none" stroke="#ff0000" stroke-width="1.0" stroke-linejoin="round" />
<polygon points="665,599.6 678.6,599.6 678.6,621.8 665,621.8" fill="#ff0000" />
<polyline points="665,599.6 665.9,622.7 666.8,598.7 667.7,621.9 668.6,598.6 669.5,621.9 670.4,599.7 671.3,622.9 672.2,600 673.1,622.8 674,600.2 674.9,621.1 675.8,599.7 676.7,622.9 677.6,599.7 678.5,622.1" fill="none" stroke="#ff0000" stroke-width="1.0" stroke-linejoin="round" />
<polygon points="678.6,609.2 760,609.2 760,616.3 678.6,616.3" fill="#ff0000" />
<polyline points="678.6,610.4 679.5,617.2 680.4,610.1 681.3,615 682.2,609.8 683.1,615.5 684,608.5 684.9,615 685.8,609.2 686.7,615.1 687.6,610.3 688.5,617.1 689.4,610 690.3,615.2 691.2,608.2 692.1,616.6 693,609.9 693.9,617.1 694.8,610.2 695.7,616.8 696.6,610 697.5,617.1 698.4,609.3 699.3,615.2 700.2,608.5 701.1,616.8 702,609.3 702.9,616.7 703.8,608.1 704.7,617 705.6,608.4 706.5,615.2 707.4,609.7 708.3,615.3 709.2,608.4 710.1,615.5 711,608.3 711.9,616.2 712.8,609.6 713.7,616.6 714.6,610.2 715.5,616.1 716.4,609.5 717.3,615.3 718.2,608.3 719.1,615 720,609.6 720.9,616.5 721.8,610 722.7,616.8 723.6,610.5 724.5,616.1 725.4,608.9 726.3,615.6 727.2,609.1 728.1,617.1 729,609.9 729.9,617.4 730.8,610 731.7,616.9 732.6,609.6 733.5,615 734.4,609.5 735.3,615.8 736.2,608.8 737.1,617.5 738,608.1 738.9,617.1 739.8,609.5 740.7,616.4 741.6,609.3 742.5,615.3 743.4,608.3 744.3,616.9 745.2,609.6 746.1,617.4 747,608 747.9,616.6 748.8,608.3 749.7,616.6 750.6,608.6 751.5,616 752.4,609.5 753.3,617 754.2,609.6 755.1,616.3 756,608.3 756.9,615.2 757.8,608.6 758.7,617.1 759.6,608.2" fill="none" stroke="#ff0000" stroke-width="1.0" stroke-linejoin="round" />
<polygon points="760,609.7 842,609.7 842,615.8 760,615.8" fill="#ff0000" />
<polyline points="760,610.1 760.9,614.8 761.8,610.5 762.7,616 763.6,609.2 764.5,617 765.4,610.1 766.3,615.6 767.2,609.4 768.1,615.4 769,609.6 769.9,614.7 770.8,610.3 771.7,616.4 772.6,610.8 773.5,616.9 774.4,609.8 775.3,616 776.2,609.1 777.1,616.9 778,610.4 778.9,617 779.8,609.9 780.7,614.6 781.6,608.9 782.5,616.5 783.4,610 784.3,615.7 785.2,610.1 786.1,615 787,608.9 787.9,616.2 788.8,609.3 789.7,616.9 790.6,610.7 791.5,615 792.4,610.3 793.3,617 794.2,610.6 795.1,615.1 796,609.7 796.9,615.1 797.8,609.6 798.7,616.4 799.6,608.8 800.5,616.4 801.4,608.6 802.3,616.2 803.2,610.4 804.1,615.3 805,610.6 805.9,615.2 806.8,609.2 807.7,615.6 808.6,609.6 809.5,615 810.4,609.8 811.3,616.3 812.2,610.1 813.1,614.6 814,609 814.9,614.8 815.8,608.5 816.7,616.3 817.6,609.1 818.5,615.1 819.4,610.9 820.3,615.1 821.2,609.3 822.1,614.8 823,609.3 823.9,616.4 824.8,610.8 825.7,615.4 826.6,610.2 827.5,615.3 828.4,610.9 829.3,615.8 830.2,610.6 831.1,615.3 832,610.6 832.9,615.9 833.8,610.3 834.7,615.6 835.6,609.3 836.5,616.5 837.4,610.1 838.3,616.8 839.2,610.8 840.1,616.6 841,608.6 841.9,616.7" fill="none" stroke="#ff0000" stroke-width="1.0" stroke-linejoin="round" />
<polygon points="871.8,610.7 892.8,610.7 892.8,614.5 871.8,614.5" fill="#ff0000" />
<polyline points="871.8,611.8 872.7,614.8 873.6,609.9 874.5,615.6 875.4,609.6 876.3,614 877.2,611.1 878.1,614 879,611.3 879.9,615.5 880.8,611 881.7,614.8 882.6,611.5 883.5,613.7 884.4,611.7 885.3,615.5 886.2,611.7 887.1,613.4 888,611.9 888.9,615.4 889.8,610 890.7,615.4 891.6,609.6 892.5,613.6" fill="none" stroke="#ff0000" stroke-width="1.0" stroke-linejoin="round" />
<polygon points="892.8,604.2 960,604.2 960,621.8 892.8,621.8" fill="#ff0000" />
<polyline points="892.8,605 893.7,621.4 894.6,605.1 895.5,621.4 896.4,603.7 897.3,622.8 898.2,603.2 899.1,621.1 900,603.5 900.9,622.2 901.8,604.1 902.7,622.9 903.6,603.6 904.5,622.3 905.4,604.8 906.3,622.1 907.2,603.8 908.1,620.6 909,604.3 909.9,620.9 910.8,604.5 911.7,622.9 912.6,604 913.5,621.9 914.4,604.9 915.3,622.1 916.2,604.8 917.1,621.7 918,603.5 918.9,620.8 919.8,603.2 920.7,621 921.6,603.4 922.5,623 923.4,603.5 924.3,621.1 925.2,605.4 926.1,623 927,604.2 927.9,621.8 928.8,605 929.7,622.5 930.6,604.2 931.5,622.1 932.4,605.1 933.3,622.3 934.2,605.4 935.1,622.3 936,603.5 936.9,621.3 937.8,604.2 938.7,622.7 939.6,604.6 940.5,622.8 941.4,605 942.3,621.3 943.2,605 944.1,621.4 945,603.9 945.9,622 946.8,604 947.7,620.8 948.6,603.2 949.5,620.8 950.4,603.1 951.3,622.5 952.2,603.7 953.1,620.7 954,604.3 954.9,622.1 955.8,605.2 956.7,622.4 957.6,604.2 958.5,621.7 959.4,604.9" fill="none" stroke="#ff0000" stroke-width="1.0" stroke-linejoin="round" />
<polygon points="960,605.2 1030,605.2 1030,620.8 960,620.8" fill="#ff0000" />
<polyline points="960,605.9 960.9,620.4 961.8,604.9 962.7,621.2 963.6,604.4 964.5,619.9 965.4,605.7 966.3,620.1 967.2,604.4 968.1,620.9 969,605.9 969.9,620.6 970.8,604.3 971.7,620.8 972.6,606.2 973.5,621.4 974.4,604.5 975.3,621.2 976.2,605.8 977.1,619.9 978,604.4 978.9,621.6 979.8,604.6 980.7,621.2 981.6,605.3 982.5,621.6 983.4,604.8 984.3,621.5 985.2,606.4 986.1,620.2 987,604.3 987.9,619.6 988.8,604.3 989.7,621 990.6,606.5 991.5,620 992.4,605.8 993.3,620.9 994.2,604.5 995.1,620.4 996,604.3 996.9,621.5 997.8,605 998.7,621.9 999.6,605 1000.5,620 1001.4,605.7 1002.3,620.7 1003.2,605.6 1004.1,620.8 1005,604.4 1005.9,620.5 1006.8,605 1007.7,620.1 1008.6,606.3 1009.5,620.9 1010.4,605.4 1011.3,620.1 1012.2,605.1 1013.1,621.4 1014,605.8 1014.9,619.8 1015.8,605.9 1016.7,620.2 1017.6,606.1 1018.5,620.3 1019.4,605.6 1020.3,620.9 1021.2,604.8 1022.1,620.4 1023,604.2 1023.9,621 1024.8,606 1025.7,620.2 1026.6,605.6 1027.5,621.4 1028.4,605.1 1029.3,620.9" fill="none" stroke="#ff0000" stroke-width="1.0" stroke-linejoin="round" />
<polygon points="1030,607.7 1157.2,607.7 1157.2,618.5 1030,618.5" fill="#ff0000" />
<polyline points="1030,608.1 1030.9,618.7 1031.8,608.2 1032.7,617.4 1033.6,607 1034.5,618.1 1035.4,608.4 1036.3,618.7 1037.2,607.7 1038.1,617.3 1039,606.6 1039.9,618.3 1040.8,606.9 1041.7,617.7 1042.6,608.9 1043.5,618.4 1044.4,606.8 1045.3,618.3 1046.2,607.9 1047.1,617.9 1048,607.8 1048.9,618.1 1049.8,608.6 1050.7,618.4 1051.6,607.5 1052.5,617.3 1053.4,607 1054.3,618 1055.2,607.5 1056.1,617.8 1057,606.8 1057.9,617.2 1058.8,607.4 1059.7,619.6 1060.6,607.2 1061.5,618.7 1062.4,606.5 1063.3,618.7 1064.2,607.6 1065.1,618 1066,607.4 1066.9,619 1067.8,607.1 1068.7,617.8 1069.6,608.8 1070.5,618.4 1071.4,607 1072.3,617.7 1073.2,607.5 1074.1,619.2 1075,606.8 1075.9,617.8 1076.8,608.5 1077.7,618.1 1078.6,607.7 1079.5,618.3 1080.4,607.1 1081.3,617.3 1082.2,607.4 1083.1,618.1 1084,608.5 1084.9,617.7 1085.8,607.7 1086.7,619 1087.6,607.9 1088.5,619.4 1089.4,608.6 1090.3,618.8 1091.2,608.6 1092.1,619 1093,607.4 1093.9,619.1 1094.8,607.6 1095.7,619.2 1096.6,606.5 1097.5,617.9 1098.4,607.2 1099.3,619.1 1100.2,607.3 1101.1,618.5 1102,607.6 1102.9,618.1 1103.8,608.1 1104.7,618.8 1105.6,608.8 1106.5,617.6 1107.4,606.6 1108.3,617.6 1109.2,608.8 1110.1,617.7 1111,606.9 1111.9,617.6 1112.8,608.1 1113.7,619.7 1114.6,606.5 1115.5,617.3 1116.4,608.1 1117.3,619.1 1118.2,606.8 1119.1,619.3 1120,607.1 1120.9,617.8 1121.8,607.4 1122.7,619.3 1123.6,608.8 1124.5,617.7 1125.4,606.9 1126.3,617.5 1127.2,608 1128.1,617.7 1129,608.2 1129.9,617.5 1130.8,608.5 1131.7,617.6 1132.6,607 1133.5,618 1134.4,607.8 1135.3,617.8 1136.2,607.6 1137.1,617.5 1138,607.9 1138.9,619 1139.8,607.1 1140.7,619.4 1141.6,607.7 1142.5,619.6 1143.4,607.7 1144.3,619.3 1145.2,607.7 1146.1,618.5 1147,607.8 1147.9,617.5 1148.8,606.5 1149.7,617.6 1150.6,607.7 1151.5,618.3 1152.4,608.2 1153.3,617.6 1154.2,607.4 1155.1,618.7 1156,608.9 1156.9,619.5" fill="none" stroke="#ff0000" stroke-width="1.0" stroke-linejoin="round" />
<polygon points="1039,599.2 1054,599.2 1054,628.8 1039,628.8" fill="#ff0000" />
<polyline points="1039,599.6 1039.9,628.4 1040.8,598.1 1041.7,628.5 1042.6,599.7 1043.5,627.7 1044.4,598.8 1045.3,627.5 1046.2,599.3 1047.1,628.8 1048,600.2 1048.9,629.9 1049.8,599.8 1050.7,628.4 1051.6,598.8 1052.5,627.8 1053.4,598.9" fill="none" stroke="#ff0000" stroke-width="1.0" stroke-linejoin="round" />
<polygon points="1157.2,581.5 1187.5,581.5 1187.5,591.2 1157.2,591.2" fill="#ff0000" />
<polyline points="1157.2,581.5 1158.1,591.1 1159,582.2 1159.9,591.9 1160.8,581.4 1161.7,591.3 1162.6,581.7 1163.5,590.3 1164.4,581 1165.3,590.3 1166.2,581.3 1167.1,591.1 1168,581 1168.9,591.1 1169.8,582.7 1170.7,590.8 1171.6,582.3 1172.5,591.6 1173.4,581.1 1174.3,591.7 1175.2,581.8 1176.1,590.8 1177,582.3 1177.9,592.3 1178.8,582.1 1179.7,590.2 1180.6,581.7 1181.5,592.3 1182.4,581.1 1183.3,592.4 1184.2,580.8 1185.1,590.1 1186,581.8 1186.9,590.8" fill="none" stroke="#ff0000" stroke-width="1.0" stroke-linejoin="round" />
<polygon points="1187.5,609.7 1360,609.7 1360,616.3 1187.5,616.3" fill="#ff0000" />
<polyline points="1187.5,610.5 1188.4,615.2 1189.3,610 1190.2,616 1191.1,610.1 1192,615.8 1192.9,610 1193.8,615.8 1194.7,609 1195.6,615.8 1196.5,609.6 1197.4,615.6 1198.3,608.8 1199.2,617 1200.1,608.6 1201,615.6 1201.9,610.8 1202.8,615.9 1203.7,609.4 1204.6,615.4 1205.5,610.5 1206.4,616.1 1207.3,609.1 1208.2,616.7 1209.1,609.6 1210,616.7 1210.9,609.6 1211.8,615.9 1212.7,610.8 1213.6,617.4 1214.5,609.9 1215.4,617.4 1216.3,608.8 1217.2,615.5 1218.1,609.9 1219,615.2 1219.9,609.6 1220.8,617.5 1221.7,609.5 1222.6,616 1223.5,610.8 1224.4,615 1225.3,609.7 1226.2,616.5 1227.1,608.8 1228,615.9 1228.9,609 1229.8,617.1 1230.7,608.5 1231.6,617.5 1232.5,610.2 1233.4,617.2 1234.3,610.9 1235.2,617.3 1236.1,610.7 1237,617.2 1237.9,608.5 1238.8,615.7 1239.7,609.1 1240.6,615.7 1241.5,609 1242.4,617.4 1243.3,610.4 1244.2,615.7 1245.1,610.6 1246,615.7 1246.9,608.7 1247.8,615.9 1248.7,610.3 1249.6,616.3 1250.5,610.8 1251.4,616.9 1252.3,610.9 1253.2,615.7 1254.1,608.5 1255,617.5 1255.9,610.1 1256.8,615.5 1257.7,608.7 1258.6,616.7 1259.5,610.3 1260.4,617.1 1261.3,610.7 1262.2,616.3 1263.1,608.6 1264,616.6 1264.9,609.9 1265.8,616.4 1266.7,610.2 1267.6,617.1 1268.5,610.5 1269.4,616.6 1270.3,610.1 1271.2,615.9 1272.1,609.5 1273,616.5 1273.9,610.5 1274.8,615.1 1275.7,610.5 1276.6,616.1 1277.5,609.2 1278.4,617.3 1279.3,610.9 1280.2,615.7 1281.1,610.6 1282,616.7 1282.9,610 1283.8,615.1 1284.7,610.6 1285.6,616 1286.5,609.3 1287.4,616.4 1288.3,610.7 1289.2,616.6 1290.1,610.2 1291,616 1291.9,610.7 1292.8,615.5 1293.7,609.2 1294.6,617.5 1295.5,609.2 1296.4,616.4 1297.3,610 1298.2,615.5 1299.1,610.7 1300,617.4 1300.9,610.6 1301.8,615.5 1302.7,610.7 1303.6,616.1 1304.5,609.2 1305.4,615.4 1306.3,610.5 1307.2,615.8 1308.1,610.8 1309,616.6 1309.9,608.7 1310.8,616.1 1311.7,610.5 1312.6,617 1313.5,610.4 1314.4,615.2 1315.3,609.1 1316.2,616 1317.1,610.2 1318,616.3 1318.9,609 1319.8,616.9 1320.7,610.4 1321.6,615.5 1322.5,609.6 1323.4,617.3 1324.3,610.5 1325.2,615.6 1326.1,609.1 1327,616.1 1327.9,610.7 1328.8,615.3 1329.7,609.8 1330.6,616.3 1331.5,610 1332.4,617 1333.3,609 1334.2,617 1335.1,610.3 1336,616.6 1336.9,609.9 1337.8,616.5 1338.7,609.8 1339.6,617.1 1340.5,608.6 1341.4,615 1342.3,609.4 1343.2,617.2 1344.1,610.1 1345,615.5 1345.9,608.9 1346.8,616 1347.7,609.4 1348.6,616.2 1349.5,608.6 1350.4,617.4 1351.3,611 1352.2,615.3 1353.1,609.7 1354,616.1 1354.9,609.2 1355.8,615.6 1356.7,609.6 1357.6,615.1 1358.5,610.4 1359.4,615.5" fill="none" stroke="#ff0000" stroke-width="1.0" stroke-linejoin="round" />
<polygon points="1278,604.2 1286.6,604.2 1286.6,621.5 1278,621.5" fill="#ff0000" />
<polyline points="1278,605.4 1278.9,622.1 1279.8,603.1 1280.7,622.2 1281.6,603.5 1282.5,622.5 1283.4,603.1 1284.3,621.3 1285.2,605.2 1286.1,621.6" fill="none" stroke="#ff0000" stroke-width="1.0" stroke-linejoin="round" />
<polygon points="1360,607.2 1374,607.2 1374,618.8 1360,618.8" fill="#ff0000" />
<polyline points="1360,608.4 1360.9,617.7 1361.8,606.2 1362.7,618.5 1363.6,607 1364.5,619.7 1365.4,608.4 1366.3,619.4 1367.2,607.4 1368.1,618.4 1369,608.4 1369.9,618.3 1370.8,607 1371.7,618.9 1372.6,606.4 1373.5,617.6" fill="none" stroke="#ff0000" stroke-width="1.0" stroke-linejoin="round" />
<polygon points="1374,611.2 1445.8,611.2 1445.8,615.3 1374,615.3" fill="#ff0000" />
<polyline points="1374,612.5 1374.9,615.9 1375.8,610.1 1376.7,615.9 1377.6,610.9 1378.5,614.2 1379.4,612.3 1380.3,614.4 1381.2,610.1 1382.1,614.5 1383,611.8 1383.9,614.9 1384.8,612.5 1385.7,616.4 1386.6,610.4 1387.5,614.6 1388.4,612.3 1389.3,614.8 1390.2,610.7 1391.1,615 1392,611.9 1392.9,616.2 1393.8,610.8 1394.7,615.9 1395.6,610.3 1396.5,615.3 1397.4,610.4 1398.3,615.9 1399.2,610.4 1400.1,614.8 1401,610 1401.9,614.7 1402.8,610.5 1403.7,616.4 1404.6,612.3 1405.5,615.9 1406.4,612.3 1407.3,614.3 1408.2,612.2 1409.1,616.2 1410,611.1 1410.9,616.3 1411.8,612.3 1412.7,614.4 1413.6,611.6 1414.5,615.4 1415.4,610.8 1416.3,614.4 1417.2,611.2 1418.1,614.9 1419,610.4 1419.9,615.9 1420.8,610.1 1421.7,614.7 1422.6,611.4 1423.5,616.1 1424.4,612.2 1425.3,615.8 1426.2,611 1427.1,616.1 1428,610.7 1428.9,614.4 1429.8,610.8 1430.7,616.1 1431.6,611.2 1432.5,615.7 1433.4,612.3 1434.3,616.2 1435.2,612.4 1436.1,616.4 1437,612.2 1437.9,614.8 1438.8,610.5 1439.7,615.3 1440.6,610.7 1441.5,615.9 1442.4,610.5 1443.3,615.6 1444.2,612.5 1445.1,614" fill="none" stroke="#ff0000" stroke-width="1.0" stroke-linejoin="round" />
<polygon points="1445.8,607.2 1468.3,607.2 1468.3,616.8 1445.8,616.8" fill="#ff0000" />
<polyline points="1445.8,608.3 1446.7,617.8 1447.6,606.7 1448.5,615.8 1449.4,606.1 1450.3,616.2 1451.2,606.7 1452.1,615.6 1453,606 1453.9,616 1454.8,606.9 1455.7,617.6 1456.6,606 1457.5,615.9 1458.4,607.3 1459.3,617.5 1460.2,607.1 1461.1,615.7 1462,606.5 1462.9,616.6 1463.8,606.3 1464.7,617.5 1465.6,607.9 1466.5,616.2 1467.4,606.5" fill="none" stroke="#ff0000" stroke-width="1.0" stroke-linejoin="round" />
<polygon points="1468.3,594 1498.6,594 1498.6,626.8 1468.3,626.8" fill="#ff0000" />
<polyline points="1468.3,593 1469.2,627.8 1470.1,594.3 1471,626.8 1471.9,593.5 1472.8,627.5 1473.7,594.3 1474.6,626.2 1475.5,594.8 1476.4,626.5 1477.3,593.3 1478.2,627.8 1479.1,594.6 1480,627 1480.9,594.6 1481.8,627.9 1482.7,594.8 1483.6,627.2 1484.5,594.9 1485.4,625.8 1486.3,594 1487.2,628 1488.1,595.1 1489,626.8 1489.9,595 1490.8,627.3 1491.7,593.3 1492.6,625.9 1493.5,593.7 1494.4,627.6 1495.3,593.7 1496.2,626.5 1497.1,592.8 1498,626.7" fill="none" stroke="#ff0000" stroke-width="1.0" stroke-linejoin="round" />
<polygon points="1498.6,584.6 1608,584.6 1608,589.3 1498.6,589.3" fill="#ff0000" />
<polyline points="1498.6,584.5 1499.5,589.2 1500.4,583.7 1501.3,588.7 1502.2,585.4 1503.1,588.3 1504,584.2 1504.9,588.7 1505.8,584.4 1506.7,588.6 1507.6,583.6 1508.5,588.3 1509.4,585.8 1510.3,589.3 1511.2,584.7 1512.1,589.2 1513,584.7 1513.9,590.4 1514.8,585.8 1515.7,589.9 1516.6,583.9 1517.5,590.2 1518.4,584 1519.3,588.5 1520.2,583.5 1521.1,590.3 1522,585.1 1522.9,590 1523.8,583.4 1524.7,589 1525.6,584.8 1526.5,589.2 1527.4,585.2 1528.3,590.2 1529.2,585.6 1530.1,588.7 1531,583.5 1531.9,590.2 1532.8,584.6 1533.7,589.2 1534.6,584.1 1535.5,590.2 1536.4,584.4 1537.3,590.2 1538.2,584.9 1539.1,588.3 1540,583.8 1540.9,589.1 1541.8,585.3 1542.7,590.1 1543.6,585.5 1544.5,588.2 1545.4,584.4 1546.3,589.4 1547.2,585.5 1548.1,589.2 1549,584.4 1549.9,588.1 1550.8,585.3 1551.7,589.7 1552.6,584 1553.5,589.7 1554.4,584.5 1555.3,588 1556.2,585.4 1557.1,588.2 1558,585.4 1558.9,588.4 1559.8,583.5 1560.7,589.2 1561.6,585.8 1562.5,588.2 1563.4,584 1564.3,589.4 1565.2,585 1566.1,589.6 1567,584.7 1567.9,590.3 1568.8,584.5 1569.7,589.2 1570.6,583.5 1571.5,590.2 1572.4,585.8 1573.3,588.6 1574.2,585.7 1575.1,588.9 1576,585.4 1576.9,588.3 1577.8,585.6 1578.7,590.4 1579.6,585 1580.5,589.8 1581.4,585.1 1582.3,589.8 1583.2,584.8 1584.1,588.2 1585,585 1585.9,589.9 1586.8,584.7 1587.7,589.4 1588.6,585.8 1589.5,589.8 1590.4,584.2 1591.3,588.9 1592.2,583.7 1593.1,589 1594,585.8 1594.9,589.2 1595.8,584.1 1596.7,589.3 1597.6,584.7 1598.5,590.1 1599.4,583.7 1600.3,590.2 1601.2,584.1 1602.1,589.5 1603,584.1 1603.9,589.9 1604.8,583.6 1605.7,589.1 1606.6,585.5 1607.5,589" fill="none" stroke="#ff0000" stroke-width="1.0" stroke-linejoin="round" />
<polygon points="1608,607.8 1649,607.8 1649,617.5 1608,617.5" fill="#ff0000" />
<polyline points="1608,608 1608.9,617.1 1609.8,607.1 1610.7,616.9 1611.6,607.8 1612.5,617.3 1613.4,608.1 1614.3,617.5 1615.2,607.4 1616.1,618.1 1617,607.2 1617.9,617.4 1618.8,607.6 1619.7,617.2 1620.6,606.6 1621.5,617.8 1622.4,608.8 1623.3,618.1 1624.2,608 1625.1,617.5 1626,607.3 1626.9,616.2 1627.8,607.3 1628.7,616.8 1629.6,607 1630.5,618.5 1631.4,608.8 1632.3,617.6 1633.2,606.8 1634.1,617.7 1635,607.7 1635.9,616.9 1636.8,606.9 1637.7,618.1 1638.6,609 1639.5,616.9 1640.4,607 1641.3,617.9 1642.2,607.5 1643.1,617 1644,608.1 1644.9,616.6 1645.8,608.7 1646.7,617.4 1647.6,608.4 1648.5,616.8" fill="none" stroke="#ff0000" stroke-width="1.0" stroke-linejoin="round" />
<polygon points="842,600 872,609 872,620 842,624" fill="#ff0000" />
<polyline points="842,590.4 842.4,630.8" fill="none" stroke="#ff0000" stroke-width="1.3699551665480794" stroke-linejoin="round" stroke-opacity="0.9"/>
<polyline points="843.5,594.5 843.9,625.9" fill="none" stroke="#ff0000" stroke-width="1.0131679915548741" stroke-linejoin="round" stroke-opacity="0.9"/>
<polyline points="845.3,592.6 845.7,625.3" fill="none" stroke="#ff0000" stroke-width="1.9956448355104628" stroke-linejoin="round" stroke-opacity="0.9"/>
<polyline points="846.7,598.1 847.1,625.6" fill="none" stroke="#ff0000" stroke-width="1.639068140544162" stroke-linejoin="round" stroke-opacity="0.9"/>
<polyline points="847.7,597.1 848.1,627.4" fill="none" stroke="#ff0000" stroke-width="1.5231812103833013" stroke-linejoin="round" stroke-opacity="0.9"/>
<polyline points="849.4,598.4 849.8,620.1" fill="none" stroke="#ff0000" stroke-width="1.7582302462868173" stroke-linejoin="round" stroke-opacity="0.9"/>
<polyline points="850.9,596.4 851.3,619.2" fill="none" stroke="#ff0000" stroke-width="1.8655272369789455" stroke-linejoin="round" stroke-opacity="0.9"/>
<polyline points="852.2,600.6 852.6,625.2" fill="none" stroke="#ff0000" stroke-width="1.7141294836112024" stroke-linejoin="round" stroke-opacity="0.9"/>
<polyline points="854.1,599.2 854.5,624.6" fill="none" stroke="#ff0000" stroke-width="1.4446210560507606" stroke-linejoin="round" stroke-opacity="0.9"/>
<polyline points="856.1,604.3 856.5,619.7" fill="none" stroke="#ff0000" stroke-width="1.135968860200669" stroke-linejoin="round" stroke-opacity="0.9"/>
<polyline points="857.1,605.6 857.5,622.1" fill="none" stroke="#ff0000" stroke-width="1.6266482908668038" stroke-linejoin="round" stroke-opacity="0.9"/>
<polyline points="858.3,602.7 858.7,621.7" fill="none" stroke="#ff0000" stroke-width="1.3509104887701802" stroke-linejoin="round" stroke-opacity="0.9"/>
<polyline points="859.8,604.2 860.2,625.3" fill="none" stroke="#ff0000" stroke-width="1.6819821366349665" stroke-linejoin="round" stroke-opacity="0.9"/>
<polyline points="861.7,607.6 862.1,625.9" fill="none" stroke="#ff0000" stroke-width="1.6712735421625182" stroke-linejoin="round" stroke-opacity="0.9"/>
<polyline points="862.7,608.2 863.1,625.8" fill="none" stroke="#ff0000" stroke-width="1.9046959845122367" stroke-linejoin="round" stroke-opacity="0.9"/>
<polyline points="864.2,608 864.6,620.5" fill="none" stroke="#ff0000" stroke-width="1.8316079302733543" stroke-linejoin="round" stroke-opacity="0.9"/>
<polyline points="865.7,605.5 866.1,619.4" fill="none" stroke="#ff0000" stroke-width="1.85394248842268" stroke-linejoin="round" stroke-opacity="0.9"/>
<polyline points="867.7,605.1 868.1,624.6" fill="none" stroke="#ff0000" stroke-width="1.4104618273459089" stroke-linejoin="round" stroke-opacity="0.9"/>
<polyline points="868.6,607.4 869,624.4" fill="none" stroke="#ff0000" stroke-width="1.8727670246282013" stroke-linejoin="round" stroke-opacity="0.9"/>
<polyline points="869.5,610.5 869.9,619.3" fill="none" stroke="#ff0000" stroke-width="1.7184404774485162" stroke-linejoin="round" stroke-opacity="0.9"/>
<polyline points="870.7,613.3 871.1,625.9" fill="none" stroke="#ff0000" stroke-width="1.505420373648044" stroke-linejoin="round" stroke-opacity="0.9"/>
<polygon points="215.5,602 217,577 218.5,602 217,627" fill="#ff0000" fill-opacity="1"/>
<polyline points="217,577 217,627" fill="none" stroke="#ff0000" stroke-width="1.2" stroke-linejoin="round" stroke-opacity="1"/>
<polygon points="233,597 236,567 239,597 236,627" fill="#ff0000" fill-opacity="1"/>
<polyline points="236,567 236,627" fill="none" stroke="#ff0000" stroke-width="1.2" stroke-linejoin="round" stroke-opacity="1"/>
<polygon points="248.5,581.9 249.5,553.7 250.5,581.9 249.5,610" fill="#ff0000" fill-opacity="0.5"/>
<polyline points="249.5,553.7 249.5,610" fill="none" stroke="#ff0000" stroke-width="1.2" stroke-linejoin="round" stroke-opacity="0.5"/>
<polygon points="252,592.5 253.5,575 255,592.5 253.5,610" fill="#ff0000" fill-opacity="1"/>
<polyline points="253.5,575 253.5,610" fill="none" stroke="#ff0000" stroke-width="1.2" stroke-linejoin="round" stroke-opacity="1"/>
<polygon points="261.5,588.7 263,567.4 264.5,588.7 263,610" fill="#ff0000" fill-opacity="1"/>
<polyline points="263,567.4 263,610" fill="none" stroke="#ff0000" stroke-width="1.2" stroke-linejoin="round" stroke-opacity="1"/>
<polygon points="269,605.5 270,601 271,605.5 270,610" fill="#ff0000" fill-opacity="1"/>
<polyline points="270,601 270,610" fill="none" stroke="#ff0000" stroke-width="1.2" stroke-linejoin="round" stroke-opacity="1"/>
<polygon points="275,604.2 276,598.5 277,604.2 276,610" fill="#ff0000" fill-opacity="0.7"/>
<polyline points="276,598.5 276,610" fill="none" stroke="#ff0000" stroke-width="1.2" stroke-linejoin="round" stroke-opacity="0.7"/>
<polygon points="302.5,603.5 303.5,597 304.5,603.5 303.5,610" fill="#ff0000" fill-opacity="0.6"/>
<polyline points="303.5,597 303.5,610" fill="none" stroke="#ff0000" stroke-width="1.2" stroke-linejoin="round" stroke-opacity="0.6"/>
<polygon points="312,604.2 313,598.5 314,604.2 313,610" fill="#ff0000" fill-opacity="0.6"/>
<polyline points="313,598.5 313,610" fill="none" stroke="#ff0000" stroke-width="1.2" stroke-linejoin="round" stroke-opacity="0.6"/>
<polygon points="207.5,635.5 209,607 210.5,635.5 209,664" fill="#ff0000" fill-opacity="0.7"/>
<polyline points="209,607 209,664" fill="none" stroke="#ff0000" stroke-width="1.2" stroke-linejoin="round" stroke-opacity="0.7"/>
<polygon points="215.5,647 218,627 220.5,647 218,667" fill="#ff0000" fill-opacity="0.9"/>
<polyline points="218,627 218,667" fill="none" stroke="#ff0000" stroke-width="1.2" stroke-linejoin="round" stroke-opacity="0.9"/>
<polygon points="232,650 235,627 238,650 235,673" fill="#ff0000" fill-opacity="1"/>
<polyline points="235,627 235,673" fill="none" stroke="#ff0000" stroke-width="1.2" stroke-linejoin="round" stroke-opacity="1"/>
<polygon points="239.5,643.5 241,627 242.5,643.5 241,660" fill="#ff0000" fill-opacity="0.8"/>
<polyline points="241,627 241,660" fill="none" stroke="#ff0000" stroke-width="1.2" stroke-linejoin="round" stroke-opacity="0.8"/>
<polygon points="249,648 251,627 253,648 251,669" fill="#ff0000" fill-opacity="1"/>
<polyline points="251,627 251,669" fill="none" stroke="#ff0000" stroke-width="1.2" stroke-linejoin="round" stroke-opacity="1"/>
<polygon points="258.5,648 260,627 261.5,648 260,669" fill="#ff0000" fill-opacity="0.9"/>
<polyline points="260,627 260,669" fill="none" stroke="#ff0000" stroke-width="1.2" stroke-linejoin="round" stroke-opacity="0.9"/>
<polygon points="226,644.5 227,627 228,644.5 227,662" fill="#ff0000" fill-opacity="0.6"/>
<polyline points="227,627 227,662" fill="none" stroke="#ff0000" stroke-width="1.2" stroke-linejoin="round" stroke-opacity="0.6"/>
<polygon points="245,643.5 246,627 247,643.5 246,660" fill="#ff0000" fill-opacity="0.6"/>
<polyline points="246,627 246,660" fill="none" stroke="#ff0000" stroke-width="1.2" stroke-linejoin="round" stroke-opacity="0.6"/>
<polygon points="265,645 266,627 267,645 266,663" fill="#ff0000" fill-opacity="0.7"/>
<polyline points="266,627 266,663" fill="none" stroke="#ff0000" stroke-width="1.2" stroke-linejoin="round" stroke-opacity="0.7"/>
<polygon points="275,656.5 276,650 277,656.5 276,663" fill="#ff0000" fill-opacity="0.8"/>
<polyline points="276,650 276,663" fill="none" stroke="#ff0000" stroke-width="1.2" stroke-linejoin="round" stroke-opacity="0.8"/>
<polygon points="281,655 283,650 285,655 283,660" fill="#ff0000" fill-opacity="0.8"/>
<polyline points="283,650 283,660" fill="none" stroke="#ff0000" stroke-width="1.2" stroke-linejoin="round" stroke-opacity="0.8"/>
<polygon points="297.5,645.5 300,627 302.5,645.5 300,664" fill="#ff0000" fill-opacity="0.8"/>
<polyline points="300,627 300,664" fill="none" stroke="#ff0000" stroke-width="1.2" stroke-linejoin="round" stroke-opacity="0.8"/>
<polygon points="347.8,678.5 349.3,655 350.8,678.5 349.3,701.9" fill="#ff0000" fill-opacity="0.7"/>
<polyline points="349.3,655 349.3,701.9" fill="none" stroke="#ff0000" stroke-width="1.2" stroke-linejoin="round" stroke-opacity="0.7"/>
<polygon points="388.8,664.7 390,655 391.2,664.7 390,674.4" fill="#ff0000" fill-opacity="1"/>
<polyline points="390,655 390,674.4" fill="none" stroke="#ff0000" stroke-width="1.2" stroke-linejoin="round" stroke-opacity="1"/>
<polygon points="418.4,589.3 419.7,566.6 420.9,589.3 419.7,612" fill="#ff0000" fill-opacity="0.9"/>
<polyline points="419.7,566.6 419.7,612" fill="none" stroke="#ff0000" stroke-width="1.2" stroke-linejoin="round" stroke-opacity="0.9"/>
<polygon points="414.5,631 416,612 417.5,631 416,650" fill="#ff0000" fill-opacity="0.6"/>
<polyline points="416,612 416,650" fill="none" stroke="#ff0000" stroke-width="1.2" stroke-linejoin="round" stroke-opacity="0.6"/>
<polygon points="420,632.8 421,612 422,632.8 421,653.5" fill="#ff0000" fill-opacity="0.6"/>
<polyline points="421,612 421,653.5" fill="none" stroke="#ff0000" stroke-width="1.2" stroke-linejoin="round" stroke-opacity="0.6"/>
<polygon points="431,623.9 432,592 433,623.9 432,655.7" fill="#ff0000" fill-opacity="0.9"/>
<polyline points="432,592 432,655.7" fill="none" stroke="#ff0000" stroke-width="1.2" stroke-linejoin="round" stroke-opacity="0.9"/>
<polygon points="444.9,604.7 445.6,597.4 446.4,604.7 445.6,612" fill="#ff0000" fill-opacity="0.8"/>
<polyline points="445.6,597.4 445.6,612" fill="none" stroke="#ff0000" stroke-width="1.2" stroke-linejoin="round" stroke-opacity="0.8"/>
<polygon points="455.5,600.9 457,589.7 458.5,600.9 457,612" fill="#ff0000" fill-opacity="1"/>
<polyline points="457,589.7 457,612" fill="none" stroke="#ff0000" stroke-width="1.2" stroke-linejoin="round" stroke-opacity="1"/>
<polygon points="459.1,638.2 460.4,612 461.6,638.2 460.4,664.5" fill="#ff0000" fill-opacity="0.9"/>
<polyline points="460.4,612 460.4,664.5" fill="none" stroke="#ff0000" stroke-width="1.2" stroke-linejoin="round" stroke-opacity="0.9"/>
<polygon points="472,621.2 473,612 474,621.2 473,630.4" fill="#ff0000" fill-opacity="0.8"/>
<polyline points="473,612 473,630.4" fill="none" stroke="#ff0000" stroke-width="1.2" stroke-linejoin="round" stroke-opacity="0.8"/>
<polygon points="515.1,624 517.6,615 520.1,624 517.6,633" fill="#ff0000" fill-opacity="1"/>
<polyline points="517.6,615 517.6,633" fill="none" stroke="#ff0000" stroke-width="1.2" stroke-linejoin="round" stroke-opacity="1"/>
<polygon points="529.8,598 531.8,586 533.8,598 531.8,610" fill="#ff0000" fill-opacity="1"/>
<polyline points="531.8,586 531.8,610" fill="none" stroke="#ff0000" stroke-width="1.2" stroke-linejoin="round" stroke-opacity="1"/>
<polygon points="564.9,595.5 566.4,581 567.9,595.5 566.4,610" fill="#ff0000" fill-opacity="1"/>
<polyline points="566.4,581 566.4,610" fill="none" stroke="#ff0000" stroke-width="1.2" stroke-linejoin="round" stroke-opacity="1"/>
<polygon points="558,599 560,588 562,599 560,610" fill="#ff0000" fill-opacity="1"/>
<polyline points="560,588 560,610" fill="none" stroke="#ff0000" stroke-width="1.2" stroke-linejoin="round" stroke-opacity="1"/>
<polygon points="555.5,624.5 557,610 558.5,624.5 557,639" fill="#ff0000" fill-opacity="1"/>
<polyline points="557,610 557,639" fill="none" stroke="#ff0000" stroke-width="1.2" stroke-linejoin="round" stroke-opacity="1"/>
<polygon points="566.5,624.5 568,610 569.5,624.5 568,639" fill="#ff0000" fill-opacity="1"/>
<polyline points="568,610 568,639" fill="none" stroke="#ff0000" stroke-width="1.2" stroke-linejoin="round" stroke-opacity="1"/>
<polygon points="525.5,624 527,610 528.5,624 527,637.9" fill="#ff0000" fill-opacity="1"/>
<polyline points="527,610 527,637.9" fill="none" stroke="#ff0000" stroke-width="1.2" stroke-linejoin="round" stroke-opacity="1"/>
<polygon points="534.5,623.5 536,610 537.5,623.5 536,637" fill="#ff0000" fill-opacity="1"/>
<polyline points="536,610 536,637" fill="none" stroke="#ff0000" stroke-width="1.2" stroke-linejoin="round" stroke-opacity="1"/>
<polygon points="758.5,615 760,589 761.5,615 760,641" fill="#ff0000" fill-opacity="0.9"/>
<polyline points="760,589 760,641" fill="none" stroke="#ff0000" stroke-width="1.2" stroke-linejoin="round" stroke-opacity="0.9"/>
<polygon points="842,618.3 843,600 844,618.3 843,636.6" fill="#ff0000" fill-opacity="1"/>
<polyline points="843,600 843,636.6" fill="none" stroke="#ff0000" stroke-width="1.2" stroke-linejoin="round" stroke-opacity="1"/>
<polygon points="866.5,608.9 867.5,594.7 868.5,608.9 867.5,623" fill="#ff0000" fill-opacity="1"/>
<polyline points="867.5,594.7 867.5,623" fill="none" stroke="#ff0000" stroke-width="1.2" stroke-linejoin="round" stroke-opacity="1"/>
<polygon points="893,602.5 894,595 895,602.5 894,610" fill="#ff0000" fill-opacity="1"/>
<polyline points="894,595 894,610" fill="none" stroke="#ff0000" stroke-width="1.2" stroke-linejoin="round" stroke-opacity="1"/>
<polygon points="907.8,602.5 908.8,595 909.8,602.5 908.8,610" fill="#ff0000" fill-opacity="1"/>
<polyline points="908.8,595 908.8,610" fill="none" stroke="#ff0000" stroke-width="1.2" stroke-linejoin="round" stroke-opacity="1"/>
<polygon points="954.7,625.2 955.7,615 956.7,625.2 955.7,635.4" fill="#ff0000" fill-opacity="0.9"/>
<polyline points="955.7,615 955.7,635.4" fill="none" stroke="#ff0000" stroke-width="1.2" stroke-linejoin="round" stroke-opacity="0.9"/>
<polygon points="959.7,602.5 960.7,595 961.7,602.5 960.7,610" fill="#ff0000" fill-opacity="1"/>
<polyline points="960.7,595 960.7,610" fill="none" stroke="#ff0000" stroke-width="1.2" stroke-linejoin="round" stroke-opacity="1"/>
<polygon points="970.8,613.8 971.8,597 972.8,613.8 971.8,630.5" fill="#ff0000" fill-opacity="1"/>
<polyline points="971.8,597 971.8,630.5" fill="none" stroke="#ff0000" stroke-width="1.2" stroke-linejoin="round" stroke-opacity="1"/>
<polygon points="1004,615.8 1005,601 1006,615.8 1005,630.5" fill="#ff0000" fill-opacity="1"/>
<polyline points="1005,601 1005,630.5" fill="none" stroke="#ff0000" stroke-width="1.2" stroke-linejoin="round" stroke-opacity="1"/>
<polygon points="1040,612.1 1041,584.3 1042,612.1 1041,640" fill="#ff0000" fill-opacity="1"/>
<polyline points="1041,584.3 1041,640" fill="none" stroke="#ff0000" stroke-width="1.2" stroke-linejoin="round" stroke-opacity="1"/>
<polygon points="1049,614 1050,590 1051,614 1050,638" fill="#ff0000" fill-opacity="1"/>
<polyline points="1050,590 1050,638" fill="none" stroke="#ff0000" stroke-width="1.2" stroke-linejoin="round" stroke-opacity="1"/>
<polygon points="1073.5,615.4 1075,603 1076.5,615.4 1075,627.7" fill="#ff0000" fill-opacity="1"/>
<polyline points="1075,603 1075,627.7" fill="none" stroke="#ff0000" stroke-width="1.2" stroke-linejoin="round" stroke-opacity="1"/>
<polygon points="1088.5,607.2 1089.5,589.4 1090.5,607.2 1089.5,625" fill="#ff0000" fill-opacity="1"/>
<polyline points="1089.5,589.4 1089.5,625" fill="none" stroke="#ff0000" stroke-width="1.2" stroke-linejoin="round" stroke-opacity="1"/>
<polygon points="1099.7,618.4 1101.7,601 1103.7,618.4 1101.7,635.8" fill="#ff0000" fill-opacity="1"/>
<polyline points="1101.7,601 1101.7,635.8" fill="none" stroke="#ff0000" stroke-width="1.2" stroke-linejoin="round" stroke-opacity="1"/>
<polygon points="1136.5,613.1 1139.5,588.4 1142.5,613.1 1139.5,637.8" fill="#ff0000" fill-opacity="1"/>
<polyline points="1139.5,588.4 1139.5,637.8" fill="none" stroke="#ff0000" stroke-width="1.2" stroke-linejoin="round" stroke-opacity="1"/>
<polygon points="1157.2,596.5 1158.2,580 1159.2,596.5 1158.2,613" fill="#ff0000" fill-opacity="1"/>
<polyline points="1158.2,580 1158.2,613" fill="none" stroke="#ff0000" stroke-width="1.2" stroke-linejoin="round" stroke-opacity="1"/>
<polygon points="1170.8,625.5 1172.3,585 1173.8,625.5 1172.3,666" fill="#ff0000" fill-opacity="1"/>
<polyline points="1172.3,585 1172.3,666" fill="none" stroke="#ff0000" stroke-width="1.2" stroke-linejoin="round" stroke-opacity="1"/>
<polygon points="1175.4,582.1 1176.4,574.2 1177.4,582.1 1176.4,590" fill="#ff0000" fill-opacity="1"/>
<polyline points="1176.4,574.2 1176.4,590" fill="none" stroke="#ff0000" stroke-width="1.2" stroke-linejoin="round" stroke-opacity="1"/>
<polygon points="1187.5,610 1189,556 1190.5,610 1189,664" fill="#ff0000" fill-opacity="1"/>
<polyline points="1189,556 1189,664" fill="none" stroke="#ff0000" stroke-width="1.2" stroke-linejoin="round" stroke-opacity="1"/>
<polygon points="1192.5,628.5 1193.5,610 1194.5,628.5 1193.5,647" fill="#ff0000" fill-opacity="1"/>
<polyline points="1193.5,610 1193.5,647" fill="none" stroke="#ff0000" stroke-width="1.2" stroke-linejoin="round" stroke-opacity="1"/>
<polygon points="1365,615 1366.5,590.5 1368,615 1366.5,639.5" fill="#ff0000" fill-opacity="0.9"/>
<polyline points="1366.5,590.5 1366.5,639.5" fill="none" stroke="#ff0000" stroke-width="1.2" stroke-linejoin="round" stroke-opacity="0.9"/>
<polygon points="1363,615 1364,595 1365,615 1364,635" fill="#ff0000" fill-opacity="0.6"/>
<polyline points="1364,595 1364,635" fill="none" stroke="#ff0000" stroke-width="1.2" stroke-linejoin="round" stroke-opacity="0.6"/>
<polygon points="1457,609.9 1459,595.4 1461,609.9 1459,624.4" fill="#ff0000" fill-opacity="1"/>
<polyline points="1459,595.4 1459,624.4" fill="none" stroke="#ff0000" stroke-width="1.2" stroke-linejoin="round" stroke-opacity="1"/>
<polygon points="1447,623.5 1448,612 1449,623.5 1448,635" fill="#ff0000" fill-opacity="0.7"/>
<polyline points="1448,612 1448,635" fill="none" stroke="#ff0000" stroke-width="1.2" stroke-linejoin="round" stroke-opacity="0.7"/>
<polygon points="1470,619.2 1471.5,577 1473,619.2 1471.5,661.4" fill="#ff0000" fill-opacity="0.8"/>
<polyline points="1471.5,577 1471.5,661.4" fill="none" stroke="#ff0000" stroke-width="1.2" stroke-linejoin="round" stroke-opacity="0.8"/>
<polygon points="1485,652.5 1486.5,600 1488,652.5 1486.5,705" fill="#ff0000" fill-opacity="0.8"/>
<polyline points="1486.5,600 1486.5,705" fill="none" stroke="#ff0000" stroke-width="1.2" stroke-linejoin="round" stroke-opacity="0.8"/>
<polygon points="1494,616.4 1495.5,541 1497,616.4 1495.5,691.7" fill="#ff0000" fill-opacity="1"/>
<polyline points="1495.5,541 1495.5,691.7" fill="none" stroke="#ff0000" stroke-width="1.2" stroke-linejoin="round" stroke-opacity="1"/>
<polygon points="1488.5,630 1490,600 1491.5,630 1490,660" fill="#ff0000" fill-opacity="0.6"/>
<polyline points="1490,600 1490,660" fill="none" stroke="#ff0000" stroke-width="1.2" stroke-linejoin="round" stroke-opacity="0.6"/>
<polygon points="1475,624.5 1478,600 1481,624.5 1478,649" fill="#ff0000" fill-opacity="0.9"/>
<polyline points="1478,600 1478,649" fill="none" stroke="#ff0000" stroke-width="1.2" stroke-linejoin="round" stroke-opacity="0.9"/>
<polygon points="1601,584 1601.8,568 1602.5,584 1601.8,600" fill="#ff0000" fill-opacity="1"/>
<polyline points="1601.8,568 1601.8,600" fill="none" stroke="#ff0000" stroke-width="1.2" stroke-linejoin="round" stroke-opacity="1"/>
<polygon points="1607.3,646.8 1608.3,590 1609.3,646.8 1608.3,703.5" fill="#ff0000" fill-opacity="1"/>
<polyline points="1608.3,590 1608.3,703.5" fill="none" stroke="#ff0000" stroke-width="1.2" stroke-linejoin="round" stroke-opacity="1"/>
<polygon points="1616,625.5 1617,610 1618,625.5 1617,641" fill="#ff0000" fill-opacity="0.9"/>
<polyline points="1617,610 1617,641" fill="none" stroke="#ff0000" stroke-width="1.2" stroke-linejoin="round" stroke-opacity="0.9"/>
<polygon points="1624,631.5 1625,610 1626,631.5 1625,653" fill="#ff0000" fill-opacity="0.9"/>
<polyline points="1625,610 1625,653" fill="none" stroke="#ff0000" stroke-width="1.2" stroke-linejoin="round" stroke-opacity="0.9"/>
<polygon points="1634.6,616.2 1635.6,577.4 1636.6,616.2 1635.6,655" fill="#ff0000" fill-opacity="1"/>
<polyline points="1635.6,577.4 1635.6,655" fill="none" stroke="#ff0000" stroke-width="1.2" stroke-linejoin="round" stroke-opacity="1"/>
<polygon points="1628.5,627.5 1630,610 1631.5,627.5 1630,645" fill="#ff0000" fill-opacity="0.8"/>
<polyline points="1630,610 1630,645" fill="none" stroke="#ff0000" stroke-width="1.2" stroke-linejoin="round" stroke-opacity="0.8"/>
<polygon points="1638.5,619 1640,606 1641.5,619 1640,632" fill="#ff0000" fill-opacity="0.9"/>
<polyline points="1640,606 1640,632" fill="none" stroke="#ff0000" stroke-width="1.2" stroke-linejoin="round" stroke-opacity="0.9"/>
<polygon points="1469,628 1482,628 1490,640 1498.6,652 1498.6,628" fill="#ff0000" fill-opacity="0.9"/>
<polyline points="1445.8,597.6 1446.2,627.7" fill="none" stroke="#ff0000" stroke-width="1.5079999523237766" stroke-linejoin="round" stroke-opacity="0.8"/>
<polyline points="1447.3,598.2 1447.7,629.1" fill="none" stroke="#ff0000" stroke-width="1.6462834415627423" stroke-linejoin="round" stroke-opacity="0.8"/>
<polyline points="1448.9,601.1 1449.3,621.3" fill="none" stroke="#ff0000" stroke-width="1.0025445044882377" stroke-linejoin="round" stroke-opacity="0.8"/>
<polyline points="1450.3,601.9 1450.7,619" fill="none" stroke="#ff0000" stroke-width="1.6350008174855721" stroke-linejoin="round" stroke-opacity="0.8"/>
<polyline points="1451.5,598.3 1451.9,618.6" fill="none" stroke="#ff0000" stroke-width="1.7980489670954527" stroke-linejoin="round" stroke-opacity="0.8"/>
<polyline points="1453.3,604.8 1453.7,626.6" fill="none" stroke="#ff0000" stroke-width="1.0272560474679815" stroke-linejoin="round" stroke-opacity="0.8"/>
<polyline points="1454.7,601 1455.1,619.6" fill="none" stroke="#ff0000" stroke-width="1.7615712936992092" stroke-linejoin="round" stroke-opacity="0.8"/>
<polyline points="1456,597.5 1456.4,629.4" fill="none" stroke="#ff0000" stroke-width="1.099901680997687" stroke-linejoin="round" stroke-opacity="0.8"/>
<polyline points="1458.1,600.5 1458.5,625.7" fill="none" stroke="#ff0000" stroke-width="1.274337139137645" stroke-linejoin="round" stroke-opacity="0.8"/>
<polyline points="1459.7,597.9 1460.1,618.5" fill="none" stroke="#ff0000" stroke-width="1.692708467365172" stroke-linejoin="round" stroke-opacity="0.8"/>
<polyline points="1460.9,603.8 1461.3,620.9" fill="none" stroke="#ff0000" stroke-width="1.775015198009691" stroke-linejoin="round" stroke-opacity="0.8"/>
<polyline points="1462.9,603.5 1463.3,628.7" fill="none" stroke="#ff0000" stroke-width="1.464612567358131" stroke-linejoin="round" stroke-opacity="0.8"/>
<polyline points="1464.8,597.2 1465.2,624.7" fill="none" stroke="#ff0000" stroke-width="1.661614468026217" stroke-linejoin="round" stroke-opacity="0.8"/>
<polyline points="1466,605.2 1466.4,630.4" fill="none" stroke="#ff0000" stroke-width="1.3276813524483877" stroke-linejoin="round" stroke-opacity="0.8"/>
<polyline points="1467.3,600.5 1467.7,623.4" fill="none" stroke="#ff0000" stroke-width="1.7958741812971382" stroke-linejoin="round" stroke-opacity="0.8"/>
<polyline points="1608.5,600.2 1608.9,627.1" fill="none" stroke="#ff0000" stroke-width="1.5744740528821823" stroke-linejoin="round" stroke-opacity="0.8"/>
<polyline points="1610.7,603.5 1611.1,636.3" fill="none" stroke="#ff0000" stroke-width="1.4403447186909797" stroke-linejoin="round" stroke-opacity="0.8"/>
<polyline points="1612.6,601.6 1613,639" fill="none" stroke="#ff0000" stroke-width="1.4451896010636993" stroke-linejoin="round" stroke-opacity="0.8"/>
<polyline points="1614.3,601.3 1614.7,628.9" fill="none" stroke="#ff0000" stroke-width="1.2785658170798933" stroke-linejoin="round" stroke-opacity="0.8"/>
<polyline points="1616.4,602.4 1616.8,638.7" fill="none" stroke="#ff0000" stroke-width="1.2452911630020465" stroke-linejoin="round" stroke-opacity="0.8"/>
<polyline points="1617.4,600.5 1617.8,643.7" fill="none" stroke="#ff0000" stroke-width="1.6216148700041493" stroke-linejoin="round" stroke-opacity="0.8"/>
<polyline points="1618.8,604.8 1619.2,640.5" fill="none" stroke="#ff0000" stroke-width="1.7189581075786367" stroke-linejoin="round" stroke-opacity="0.8"/>
<polyline points="1620.9,602.8 1621.3,647.7" fill="none" stroke="#ff0000" stroke-width="1.7691438123098657" stroke-linejoin="round" stroke-opacity="0.8"/>
<polyline points="1622.6,606.2 1623,636.3" fill="none" stroke="#ff0000" stroke-width="1.3004481176551352" stroke-linejoin="round" stroke-opacity="0.8"/>
<polyline points="1623.8,606.1 1624.2,628.7" fill="none" stroke="#ff0000" stroke-width="1.0554681208088001" stroke-linejoin="round" stroke-opacity="0.8"/>
<polyline points="1625.8,605.4 1626.2,636.1" fill="none" stroke="#ff0000" stroke-width="1.6695990460394667" stroke-linejoin="round" stroke-opacity="0.8"/>
<polyline points="1626.7,601.8 1627.1,631.7" fill="none" stroke="#ff0000" stroke-width="1.3356410697018775" stroke-linejoin="round" stroke-opacity="0.8"/>
<polyline points="1627.9,600.5 1628.3,632.8" fill="none" stroke="#ff0000" stroke-width="1.7193161615497747" stroke-linejoin="round" stroke-opacity="0.8"/>
<polyline points="1630,605.2 1630.4,636" fill="none" stroke="#ff0000" stroke-width="1.201771838304929" stroke-linejoin="round" stroke-opacity="0.8"/>
<polyline points="1632.2,603.7 1632.6,641.8" fill="none" stroke="#ff0000" stroke-width="1.022639542536909" stroke-linejoin="round" stroke-opacity="0.8"/>
<polyline points="1633.4,605.9 1633.8,643.3" fill="none" stroke="#ff0000" stroke-width="1.7051622412726786" stroke-linejoin="round" stroke-opacity="0.8"/>
<polyline points="1635.1,603 1635.5,638.4" fill="none" stroke="#ff0000" stroke-width="1.6794736413767883" stroke-linejoin="round" stroke-opacity="0.8"/>
<polyline points="1636.4,603.7 1636.8,631.3" fill="none" stroke="#ff0000" stroke-width="1.6146046264217349" stroke-linejoin="round" stroke-opacity="0.8"/>
<polyline points="1637.3,604.8 1637.7,646.9" fill="none" stroke="#ff0000" stroke-width="1.0188005284334483" stroke-linejoin="round" stroke-opacity="0.8"/>
<polyline points="1638.9,604.5 1639.3,644.6" fill="none" stroke="#ff0000" stroke-width="1.4674721504515391" stroke-linejoin="round" stroke-opacity="0.8"/>
<polyline points="1640.2,602.8 1640.6,647.1" fill="none" stroke="#ff0000" stroke-width="1.724485469690047" stroke-linejoin="round" stroke-opacity="0.8"/>
<polyline points="1641.2,600.7 1641.6,627.2" fill="none" stroke="#ff0000" stroke-width="1.0202536025150835" stroke-linejoin="round" stroke-opacity="0.8"/>
<polyline points="1642.7,601 1643.1,644.9" fill="none" stroke="#ff0000" stroke-width="1.5242586152633417" stroke-linejoin="round" stroke-opacity="0.8"/>
<polyline points="1643.8,603.8 1644.2,632.5" fill="none" stroke="#ff0000" stroke-width="1.395093410539366" stroke-linejoin="round" stroke-opacity="0.8"/>
<polyline points="1645,601.2 1645.4,629.2" fill="none" stroke="#ff0000" stroke-width="1.302248574504977" stroke-linejoin="round" stroke-opacity="0.8"/>
<polyline points="1646.8,603.9 1647.2,626.1" fill="none" stroke="#ff0000" stroke-width="1.5687008351378424" stroke-linejoin="round" stroke-opacity="0.8"/>
<polyline points="1648.8,605.4 1649.2,643.2" fill="none" stroke="#ff0000" stroke-width="1.0062582754352571" stroke-linejoin="round" stroke-opacity="0.8"/>
<polyline points="1469,585.6 1469.4,656.7" fill="none" stroke="#ff0000" stroke-width="1.1402377179529626" stroke-linejoin="round" stroke-opacity="0.8"/>
<polyline points="1470.8,587.3 1471.2,654.4" fill="none" stroke="#ff0000" stroke-width="1.2508938237774911" stroke-linejoin="round" stroke-opacity="0.8"/>
<polyline points="1471.8,588.5 1472.2,640.8" fill="none" stroke="#ff0000" stroke-width="1.7206034898190725" stroke-linejoin="round" stroke-opacity="0.8"/>
<polyline points="1473.1,589.5 1473.5,649.2" fill="none" stroke="#ff0000" stroke-width="1.7585736308871787" stroke-linejoin="round" stroke-opacity="0.8"/>
<polyline points="1474.1,590.4 1474.5,647.8" fill="none" stroke="#ff0000" stroke-width="1.58765809133007" stroke-linejoin="round" stroke-opacity="0.8"/>
<polyline points="1476.2,587.8 1476.6,654.5" fill="none" stroke="#ff0000" stroke-width="1.4206293270457542" stroke-linejoin="round" stroke-opacity="0.8"/>
<polyline points="1477.9,585.6 1478.3,658.5" fill="none" stroke="#ff0000" stroke-width="1.7814781618197106" stroke-linejoin="round" stroke-opacity="0.8"/>
<polyline points="1479.2,587.9 1479.6,664.8" fill="none" stroke="#ff0000" stroke-width="1.0860849432228201" stroke-linejoin="round" stroke-opacity="0.8"/>
<polyline points="1480.2,585.7 1480.6,658.5" fill="none" stroke="#ff0000" stroke-width="1.6079308031647839" stroke-linejoin="round" stroke-opacity="0.8"/>
<polyline points="1481.7,590.6 1482.1,630.7" fill="none" stroke="#ff0000" stroke-width="1.51571739736587" stroke-linejoin="round" stroke-opacity="0.8"/>
<polyline points="1483.2,589.7 1483.6,643.6" fill="none" stroke="#ff0000" stroke-width="1.321211082162584" stroke-linejoin="round" stroke-opacity="0.8"/>
<polyline points="1484.4,585.4 1484.8,645.2" fill="none" stroke="#ff0000" stroke-width="1.1976455347274682" stroke-linejoin="round" stroke-opacity="0.8"/>
<polyline points="1486.2,592.4 1486.6,655.3" fill="none" stroke="#ff0000" stroke-width="1.36479371665488" stroke-linejoin="round" stroke-opacity="0.8"/>
<polyline points="1487.4,588.5 1487.8,647" fill="none" stroke="#ff0000" stroke-width="1.505458813397099" stroke-linejoin="round" stroke-opacity="0.8"/>
<polyline points="1489.6,585.8 1490,646.8" fill="none" stroke="#ff0000" stroke-width="1.393507929879592" stroke-linejoin="round" stroke-opacity="0.8"/>
<polyline points="1491.4,593 1491.8,657.3" fill="none" stroke="#ff0000" stroke-width="1.501446113780723" stroke-linejoin="round" stroke-opacity="0.8"/>
<polyline points="1493.3,591 1493.7,660.1" fill="none" stroke="#ff0000" stroke-width="1.5592207778707872" stroke-linejoin="round" stroke-opacity="0.8"/>
<polyline points="1495.1,587.2 1495.5,662.1" fill="none" stroke="#ff0000" stroke-width="1.3087620753404612" stroke-linejoin="round" stroke-opacity="0.8"/>
<polyline points="1496.8,592.4 1497.2,663.7" fill="none" stroke="#ff0000" stroke-width="1.791366946155383" stroke-linejoin="round" stroke-opacity="0.8"/>
<polyline points="1497.7,587.8 1498.1,640.9" fill="none" stroke="#ff0000" stroke-width="1.3129783911491464" stroke-linejoin="round" stroke-opacity="0.8"/>
<polyline points="1498.8,590 1499.2,632.8" fill="none" stroke="#ff0000" stroke-width="1.2420819021461427" stroke-linejoin="round" stroke-opacity="0.8"/>
<polygon points="207.5,627 270,627 270,655 207.5,650" fill="#ff0000" fill-opacity="0.45"/>
<polyline points="207.5,603.9 208,665.4" fill="none" stroke="#ff0000" stroke-width="2.1309403405324607" stroke-linejoin="round" stroke-opacity="0.85"/>
<polyline points="210,595.3 210.5,654.9" fill="none" stroke="#ff0000" stroke-width="2.1320280603979764" stroke-linejoin="round" stroke-opacity="0.85"/>
<polyline points="212.4,596.4 212.9,655" fill="none" stroke="#ff0000" stroke-width="1.2958873991437965" stroke-linejoin="round" stroke-opacity="0.85"/>
<polyline points="214.6,595.2 215.1,646.9" fill="none" stroke="#ff0000" stroke-width="1.3353788392133326" stroke-linejoin="round" stroke-opacity="0.85"/>
<polyline points="217.4,596.9 217.9,665.5" fill="none" stroke="#ff0000" stroke-width="1.1665209020786838" stroke-linejoin="round" stroke-opacity="0.85"/>
<polyline points="219.7,575.1 220.2,667.9" fill="none" stroke="#ff0000" stroke-width="1.2513476589941415" stroke-linejoin="round" stroke-opacity="0.85"/>
<polyline points="221.3,605.5 221.8,649.3" fill="none" stroke="#ff0000" stroke-width="2.1537735867401" stroke-linejoin="round" stroke-opacity="0.85"/>
<polyline points="223.5,597.5 224,670.1" fill="none" stroke="#ff0000" stroke-width="1.82877032932829" stroke-linejoin="round" stroke-opacity="0.85"/>
<polyline points="226.4,598.6 226.9,651.6" fill="none" stroke="#ff0000" stroke-width="1.1991472685556948" stroke-linejoin="round" stroke-opacity="0.85"/>
<polyline points="227.9,584.3 228.4,659.3" fill="none" stroke="#ff0000" stroke-width="1.0040597432492282" stroke-linejoin="round" stroke-opacity="0.85"/>
<polyline points="230.3,584.6 230.8,666.2" fill="none" stroke="#ff0000" stroke-width="1.5768942239560468" stroke-linejoin="round" stroke-opacity="0.85"/>
<polyline points="232.1,596.8 232.6,641.8" fill="none" stroke="#ff0000" stroke-width="2.170119475773083" stroke-linejoin="round" stroke-opacity="0.85"/>
<polyline points="233.3,605.1 233.8,640.6" fill="none" stroke="#ff0000" stroke-width="1.945285964776521" stroke-linejoin="round" stroke-opacity="0.85"/>
<polyline points="235.2,595.1 235.7,641.5" fill="none" stroke="#ff0000" stroke-width="1.2171033855412574" stroke-linejoin="round" stroke-opacity="0.85"/>
<polyline points="238.1,598.4 238.6,669.7" fill="none" stroke="#ff0000" stroke-width="2.1304525953132396" stroke-linejoin="round" stroke-opacity="0.85"/>
<polyline points="239.9,591.3 240.4,664.8" fill="none" stroke="#ff0000" stroke-width="1.1296634428777996" stroke-linejoin="round" stroke-opacity="0.85"/>
<polyline points="242.5,605.3 243,641.2" fill="none" stroke="#ff0000" stroke-width="2.134960222050621" stroke-linejoin="round" stroke-opacity="0.85"/>
<polyline points="243.8,593.9 244.3,669.4" fill="none" stroke="#ff0000" stroke-width="1.4079514319510136" stroke-linejoin="round" stroke-opacity="0.85"/>
<polyline points="246.7,598.7 247.2,650.1" fill="none" stroke="#ff0000" stroke-width="1.2129733306059862" stroke-linejoin="round" stroke-opacity="0.85"/>
<polyline points="248,596.4 248.5,671.9" fill="none" stroke="#ff0000" stroke-width="1.1938353573095395" stroke-linejoin="round" stroke-opacity="0.85"/>
<polyline points="249.3,601.4 249.8,653" fill="none" stroke="#ff0000" stroke-width="1.2848039246251448" stroke-linejoin="round" stroke-opacity="0.85"/>
<polyline points="251.6,600.5 252.1,653.5" fill="none" stroke="#ff0000" stroke-width="1.066848677209472" stroke-linejoin="round" stroke-opacity="0.85"/>
<polyline points="254.4,590.3 254.9,666.8" fill="none" stroke="#ff0000" stroke-width="1.156686192583744" stroke-linejoin="round" stroke-opacity="0.85"/>
<polyline points="257,602.6 257.5,665.2" fill="none" stroke="#ff0000" stroke-width="1.1279567316367107" stroke-linejoin="round" stroke-opacity="0.85"/>
<polyline points="258.9,601.2 259.4,649.4" fill="none" stroke="#ff0000" stroke-width="1.5437858961999715" stroke-linejoin="round" stroke-opacity="0.85"/>
<polyline points="261.9,606.7 262.4,654.5" fill="none" stroke="#ff0000" stroke-width="1.585790798266283" stroke-linejoin="round" stroke-opacity="0.85"/>
<polyline points="264.5,584 265,652.9" fill="none" stroke="#ff0000" stroke-width="1.1758076350023778" stroke-linejoin="round" stroke-opacity="0.85"/>
<polyline points="266.3,606.5 266.8,660.1" fill="none" stroke="#ff0000" stroke-width="1.599186940799346" stroke-linejoin="round" stroke-opacity="0.85"/>
<polyline points="268.1,583.4 268.6,665" fill="none" stroke="#ff0000" stroke-width="2.040864168132763" stroke-linejoin="round" stroke-opacity="0.85"/>
<polyline points="270,604.3 270.5,662.2" fill="none" stroke="#ff0000" stroke-width="1.7968221339671482" stroke-linejoin="round" stroke-opacity="0.85"/>
<polyline points="272.6,596.8 273.1,657.8" fill="none" stroke="#ff0000" stroke-width="1.5828222685890654" stroke-linejoin="round" stroke-opacity="0.85"/>
<polyline points="275.2,598.5 275.7,664.5" fill="none" stroke="#ff0000" stroke-width="1.7796305791614895" stroke-linejoin="round" stroke-opacity="0.85"/>
<polyline points="277.4,592 277.9,657.5" fill="none" stroke="#ff0000" stroke-width="1.8059715086849193" stroke-linejoin="round" stroke-opacity="0.85"/>
<polyline points="279.4,602.8 279.9,663" fill="none" stroke="#ff0000" stroke-width="1.4174614096332399" stroke-linejoin="round" stroke-opacity="0.85"/>
<polyline points="281.8,604.9 282.3,658.5" fill="none" stroke="#ff0000" stroke-width="2.011455504648146" stroke-linejoin="round" stroke-opacity="0.85"/>
<polyline points="284.6,606.7 285.1,664.6" fill="none" stroke="#ff0000" stroke-width="1.6217673165368278" stroke-linejoin="round" stroke-opacity="0.85"/>
<polyline points="286.7,600.9 287.2,664.4" fill="none" stroke="#ff0000" stroke-width="1.5726867194431264" stroke-linejoin="round" stroke-opacity="0.85"/>
<polyline points="289.2,603.8 289.7,656.7" fill="none" stroke="#ff0000" stroke-width="1.9364459538718297" stroke-linejoin="round" stroke-opacity="0.85"/>
<polyline points="291.4,600 291.9,661.2" fill="none" stroke="#ff0000" stroke-width="1.9296456950944199" stroke-linejoin="round" stroke-opacity="0.85"/>
<polyline points="293.7,595.3 294.2,656.6" fill="none" stroke="#ff0000" stroke-width="1.5292820986277325" stroke-linejoin="round" stroke-opacity="0.85"/>
<polyline points="296.1,596.3 296.6,661.3" fill="none" stroke="#ff0000" stroke-width="1.0502340464574254" stroke-linejoin="round" stroke-opacity="0.85"/>
<polyline points="298.2,576.7 298.7,656.3" fill="none" stroke="#ff0000" stroke-width="1.3808210101841139" stroke-linejoin="round" stroke-opacity="0.85"/>
<polyline points="299.7,576.1 300.2,659.7" fill="none" stroke="#ff0000" stroke-width="1.456358620487368" stroke-linejoin="round" stroke-opacity="0.85"/>
<polyline points="199,551 199,616.8" fill="none" stroke="#ff0000" stroke-width="1.0" stroke-linejoin="round" stroke-opacity="0.7"/>
<polyline points="203.8,550.9 203.8,616.5" fill="none" stroke="#ff0000" stroke-width="1.0" stroke-linejoin="round" stroke-opacity="0.7"/>
<polyline points="207.5,603.5 207.5,628.8" fill="none" stroke="#ff0000" stroke-width="1.0" stroke-linejoin="round" stroke-opacity="0.7"/>
<polyline points="211.4,600.1 211.4,627.2" fill="none" stroke="#ff0000" stroke-width="1.0" stroke-linejoin="round" stroke-opacity="0.7"/>
<polyline points="214.3,603.8 214.3,631.1" fill="none" stroke="#ff0000" stroke-width="1.0" stroke-linejoin="round" stroke-opacity="0.7"/>
<polyline points="218.4,603.9 218.4,637.1" fill="none" stroke="#ff0000" stroke-width="1.0" stroke-linejoin="round" stroke-opacity="0.7"/>
<polyline points="223.3,601.3 223.3,629.4" fill="none" stroke="#ff0000" stroke-width="1.0" stroke-linejoin="round" stroke-opacity="0.7"/>
<polyline points="225.7,604 225.7,628.9" fill="none" stroke="#ff0000" stroke-width="1.0" stroke-linejoin="round" stroke-opacity="0.7"/>
<polyline points="227.9,603.5 227.9,627.7" fill="none" stroke="#ff0000" stroke-width="1.0" stroke-linejoin="round" stroke-opacity="0.7"/>
<polyline points="230,602.4 230,628.5" fill="none" stroke="#ff0000" stroke-width="1.0" stroke-linejoin="round" stroke-opacity="0.7"/>
<polyline points="234.5,602.2 234.5,629.6" fill="none" stroke="#ff0000" stroke-width="1.0" stroke-linejoin="round" stroke-opacity="0.7"/>
<polyline points="238,601.3 238,628.5" fill="none" stroke="#ff0000" stroke-width="1.0" stroke-linejoin="round" stroke-opacity="0.7"/>
<polyline points="240.9,588.9 240.9,640.6" fill="none" stroke="#ff0000" stroke-width="1.0" stroke-linejoin="round" stroke-opacity="0.7"/>
<polyline points="245.4,600.9 245.4,627.9" fill="none" stroke="#ff0000" stroke-width="1.0" stroke-linejoin="round" stroke-opacity="0.7"/>
<polyline points="248.1,603.1 248.1,627.2" fill="none" stroke="#ff0000" stroke-width="1.0" stroke-linejoin="round" stroke-opacity="0.7"/>
<polyline points="252.4,602.7 252.4,631.7" fill="none" stroke="#ff0000" stroke-width="1.0" stroke-linejoin="round" stroke-opacity="0.7"/>
<polyline points="255.5,596.1 255.5,631.7" fill="none" stroke="#ff0000" stroke-width="1.0" stroke-linejoin="round" stroke-opacity="0.7"/>
<polyline points="257.5,603.4 257.5,633" fill="none" stroke="#ff0000" stroke-width="1.0" stroke-linejoin="round" stroke-opacity="0.7"/>
<polyline points="261,594.2 261,628.3" fill="none" stroke="#ff0000" stroke-width="1.0" stroke-linejoin="round" stroke-opacity="0.7"/>
<polyline points="263.2,601.5 263.2,630.8" fill="none" stroke="#ff0000" stroke-width="1.0" stroke-linejoin="round" stroke-opacity="0.7"/>
<polyline points="266,603.8 266,628" fill="none" stroke="#ff0000" stroke-width="1.0" stroke-linejoin="round" stroke-opacity="0.7"/>
<polyline points="270,603.5 270,655.3" fill="none" stroke="#ff0000" stroke-width="1.0" stroke-linejoin="round" stroke-opacity="0.7"/>
<polyline points="272.7,606.7 272.7,655.2" fill="none" stroke="#ff0000" stroke-width="1.0" stroke-linejoin="round" stroke-opacity="0.7"/>
<polyline points="277.1,606.5 277.1,657" fill="none" stroke="#ff0000" stroke-width="1.0" stroke-linejoin="round" stroke-opacity="0.7"/>
<polyline points="280.5,606.5 280.5,658.3" fill="none" stroke="#ff0000" stroke-width="1.0" stroke-linejoin="round" stroke-opacity="0.7"/>
<polyline points="282.9,604.4 282.9,655.3" fill="none" stroke="#ff0000" stroke-width="1.0" stroke-linejoin="round" stroke-opacity="0.7"/>
<polyline points="286.1,606.4 286.1,655.8" fill="none" stroke="#ff0000" stroke-width="1.0" stroke-linejoin="round" stroke-opacity="0.7"/>
<polyline points="291,602.9 291,655.9" fill="none" stroke="#ff0000" stroke-width="1.0" stroke-linejoin="round" stroke-opacity="0.7"/>
<polyline points="295,606.4 295,628.3" fill="none" stroke="#ff0000" stroke-width="1.0" stroke-linejoin="round" stroke-opacity="0.7"/>
<polyline points="299.6,604.4 299.6,627.3" fill="none" stroke="#ff0000" stroke-width="1.0" stroke-linejoin="round" stroke-opacity="0.7"/>
<polyline points="302,607.4 302,660.3" fill="none" stroke="#ff0000" stroke-width="1.0" stroke-linejoin="round" stroke-opacity="0.7"/>
<polyline points="306.3,607 306.3,660.5" fill="none" stroke="#ff0000" stroke-width="1.0" stroke-linejoin="round" stroke-opacity="0.7"/>
<polyline points="308.5,607.8 308.5,661.8" fill="none" stroke="#ff0000" stroke-width="1.0" stroke-linejoin="round" stroke-opacity="0.7"/>
<polyline points="311.3,605.7 311.3,660.8" fill="none" stroke="#ff0000" stroke-width="1.0" stroke-linejoin="round" stroke-opacity="0.7"/>
<polyline points="314.6,600 314.6,661.3" fill="none" stroke="#ff0000" stroke-width="1.0" stroke-linejoin="round" stroke-opacity="0.7"/>
<polyline points="318.4,603 318.4,660.1" fill="none" stroke="#ff0000" stroke-width="1.0" stroke-linejoin="round" stroke-opacity="0.7"/>
<polyline points="320.8,602 320.8,663.9" fill="none" stroke="#ff0000" stroke-width="1.0" stroke-linejoin="round" stroke-opacity="0.7"/>
<polyline points="323.6,607.5 323.6,663" fill="none" stroke="#ff0000" stroke-width="1.0" stroke-linejoin="round" stroke-opacity="0.7"/>
<polyline points="328.4,607.5 328.4,667.1" fill="none" stroke="#ff0000" stroke-width="1.0" stroke-linejoin="round" stroke-opacity="0.7"/>
<polyline points="333,605.7 333,661" fill="none" stroke="#ff0000" stroke-width="1.0" stroke-linejoin="round" stroke-opacity="0.7"/>
<polyline points="335.3,607.9 335.3,667.8" fill="none" stroke="#ff0000" stroke-width="1.0" stroke-linejoin="round" stroke-opacity="0.7"/>
<polyline points="338.1,605 338.1,660.3" fill="none" stroke="#ff0000" stroke-width="1.0" stroke-linejoin="round" stroke-opacity="0.7"/>
<polyline points="340,607.2 340,661.9" fill="none" stroke="#ff0000" stroke-width="1.0" stroke-linejoin="round" stroke-opacity="0.7"/>
<polyline points="342.5,606.3 342.5,661.2" fill="none" stroke="#ff0000" stroke-width="1.0" stroke-linejoin="round" stroke-opacity="0.7"/>
<polyline points="345.2,607.5 345.2,665.8" fill="none" stroke="#ff0000" stroke-width="1.0" stroke-linejoin="round" stroke-opacity="0.7"/>
<polyline points="349.1,608.7 349.1,667.2" fill="none" stroke="#ff0000" stroke-width="1.0" stroke-linejoin="round" stroke-opacity="0.7"/>
<polyline points="351.7,609.5 351.7,661.8" fill="none" stroke="#ff0000" stroke-width="1.0" stroke-linejoin="round" stroke-opacity="0.7"/>
<polyline points="355,609.3 355,661.5" fill="none" stroke="#ff0000" stroke-width="1.0" stroke-linejoin="round" stroke-opacity="0.7"/>
<polyline points="358.1,607.4 358.1,661.4" fill="none" stroke="#ff0000" stroke-width="1.0" stroke-linejoin="round" stroke-opacity="0.7"/>
<polyline points="361.2,604 361.2,670.8" fill="none" stroke="#ff0000" stroke-width="1.0" stroke-linejoin="round" stroke-opacity="0.7"/>
<polyline points="365.2,606.6 365.2,663.2" fill="none" stroke="#ff0000" stroke-width="1.0" stroke-linejoin="round" stroke-opacity="0.7"/>
<polyline points="367.6,609.4 367.6,661" fill="none" stroke="#ff0000" stroke-width="1.0" stroke-linejoin="round" stroke-opacity="0.7"/>
<polyline points="372.3,606.5 372.3,669.2" fill="none" stroke="#ff0000" stroke-width="1.0" stroke-linejoin="round" stroke-opacity="0.7"/>
<polyline points="374.4,607 374.4,662.6" fill="none" stroke="#ff0000" stroke-width="1.0" stroke-linejoin="round" stroke-opacity="0.7"/>
<polyline points="378.6,608.5 378.6,679.4" fill="none" stroke="#ff0000" stroke-width="1.0" stroke-linejoin="round" stroke-opacity="0.7"/>
<polyline points="380.8,607.5 380.8,664.3" fill="none" stroke="#ff0000" stroke-width="1.0" stroke-linejoin="round" stroke-opacity="0.7"/>
<polyline points="385.5,606.2 385.5,664" fill="none" stroke="#ff0000" stroke-width="1.0" stroke-linejoin="round" stroke-opacity="0.7"/>
<polyline points="389.9,603.3 389.9,662.1" fill="none" stroke="#ff0000" stroke-width="1.0" stroke-linejoin="round" stroke-opacity="0.7"/>
<polyline points="393.9,603.7 393.9,666.1" fill="none" stroke="#ff0000" stroke-width="1.0" stroke-linejoin="round" stroke-opacity="0.7"/>
<polyline points="397.2,605.6 397.2,666" fill="none" stroke="#ff0000" stroke-width="1.0" stroke-linejoin="round" stroke-opacity="0.7"/>
<polyline points="400.9,607 400.9,662.2" fill="none" stroke="#ff0000" stroke-width="1.0" stroke-linejoin="round" stroke-opacity="0.7"/>
<polyline points="404.7,607.2 404.7,661.2" fill="none" stroke="#ff0000" stroke-width="1.0" stroke-linejoin="round" stroke-opacity="0.7"/>
<polyline points="408.6,597 408.6,666.3" fill="none" stroke="#ff0000" stroke-width="1.0" stroke-linejoin="round" stroke-opacity="0.7"/>
<polyline points="412.8,608.3 412.8,664.3" fill="none" stroke="#ff0000" stroke-width="1.0" stroke-linejoin="round" stroke-opacity="0.7"/>
<polyline points="414.8,608 414.8,629.6" fill="none" stroke="#ff0000" stroke-width="1.0" stroke-linejoin="round" stroke-opacity="0.7"/>
<polyline points="417.1,606 417.1,625.1" fill="none" stroke="#ff0000" stroke-width="1.0" stroke-linejoin="round" stroke-opacity="0.7"/>
<polyline points="420.9,607.9 420.9,625.7" fill="none" stroke="#ff0000" stroke-width="1.0" stroke-linejoin="round" stroke-opacity="0.7"/>
<polyline points="423.6,608.3 423.6,619.4" fill="none" stroke="#ff0000" stroke-width="1.0" stroke-linejoin="round" stroke-opacity="0.7"/>
<polyline points="428.4,609.3 428.4,617" fill="none" stroke="#ff0000" stroke-width="1.0" stroke-linejoin="round" stroke-opacity="0.7"/>
<polyline points="431.3,607.2 431.3,617.6" fill="none" stroke="#ff0000" stroke-width="1.0" stroke-linejoin="round" stroke-opacity="0.7"/>
<polyline points="433.8,604.1 433.8,619.7" fill="none" stroke="#ff0000" stroke-width="1.0" stroke-linejoin="round" stroke-opacity="0.7"/>
<polyline points="437.1,604.4 437.1,618" fill="none" stroke="#ff0000" stroke-width="1.0" stroke-linejoin="round" stroke-opacity="0.7"/>
<polyline points="441.1,609.4 441.1,618.4" fill="none" stroke="#ff0000" stroke-width="1.0" stroke-linejoin="round" stroke-opacity="0.7"/>
<polyline points="445.5,603.9 445.5,622.3" fill="none" stroke="#ff0000" stroke-width="1.0" stroke-linejoin="round" stroke-opacity="0.7"/>
<polyline points="431.3,628.2 431.3,640.2" fill="none" stroke="#ff0000" stroke-width="1.0" stroke-linejoin="round" stroke-opacity="0.7"/>
<polyline points="433.7,628.7 433.7,643.7" fill="none" stroke="#ff0000" stroke-width="1.0" stroke-linejoin="round" stroke-opacity="0.7"/>
<polyline points="438.3,627.3 438.3,646.7" fill="none" stroke="#ff0000" stroke-width="1.0" stroke-linejoin="round" stroke-opacity="0.7"/>
<polyline points="441.1,629.9 441.1,640.7" fill="none" stroke="#ff0000" stroke-width="1.0" stroke-linejoin="round" stroke-opacity="0.7"/>
<polyline points="443.9,629.8 443.9,640.5" fill="none" stroke="#ff0000" stroke-width="1.0" stroke-linejoin="round" stroke-opacity="0.7"/>
<polyline points="446.7,604.3 446.7,620.3" fill="none" stroke="#ff0000" stroke-width="1.0" stroke-linejoin="round" stroke-opacity="0.7"/>
<polyline points="451.2,596 451.2,620.9" fill="none" stroke="#ff0000" stroke-width="1.0" stroke-linejoin="round" stroke-opacity="0.7"/>
<polyline points="453.4,605.9 453.4,624.6" fill="none" stroke="#ff0000" stroke-width="1.0" stroke-linejoin="round" stroke-opacity="0.7"/>
<polyline points="455.6,602.9 455.6,621.5" fill="none" stroke="#ff0000" stroke-width="1.0" stroke-linejoin="round" stroke-opacity="0.7"/>
<polyline points="458.5,602.1 458.5,619.4" fill="none" stroke="#ff0000" stroke-width="1.0" stroke-linejoin="round" stroke-opacity="0.7"/>
<polyline points="460.9,604.5 460.9,619.5" fill="none" stroke="#ff0000" stroke-width="1.0" stroke-linejoin="round" stroke-opacity="0.7"/>
<polyline points="461,603.8 461,619.4" fill="none" stroke="#ff0000" stroke-width="1.0" stroke-linejoin="round" stroke-opacity="0.7"/>
<polyline points="463.1,602 463.1,620.5" fill="none" stroke="#ff0000" stroke-width="1.0" stroke-linejoin="round" stroke-opacity="0.7"/>
<polyline points="467,601.8 467,623.1" fill="none" stroke="#ff0000" stroke-width="1.0" stroke-linejoin="round" stroke-opacity="0.7"/>
<polyline points="471.9,601.6 471.9,619.6" fill="none" stroke="#ff0000" stroke-width="1.0" stroke-linejoin="round" stroke-opacity="0.7"/>
<polyline points="475.3,604 475.3,619" fill="none" stroke="#ff0000" stroke-width="1.0" stroke-linejoin="round" stroke-opacity="0.7"/>
<polyline points="478.7,601.4 478.7,619.5" fill="none" stroke="#ff0000" stroke-width="1.0" stroke-linejoin="round" stroke-opacity="0.7"/>
<polyline points="480,601.9 480,627" fill="none" stroke="#ff0000" stroke-width="1.0" stroke-linejoin="round" stroke-opacity="0.7"/>
<polyline points="483.6,600.6 483.6,627.5" fill="none" stroke="#ff0000" stroke-width="1.0" stroke-linejoin="round" stroke-opacity="0.7"/>
<polyline points="486.7,599.1 486.7,629.9" fill="none" stroke="#ff0000" stroke-width="1.0" stroke-linejoin="round" stroke-opacity="0.7"/>
<polyline points="489,596.3 489,627.2" fill="none" stroke="#ff0000" stroke-width="1.0" stroke-linejoin="round" stroke-opacity="0.7"/>
<polyline points="491.4,601.5 491.4,626.5" fill="none" stroke="#ff0000" stroke-width="1.0" stroke-linejoin="round" stroke-opacity="0.7"/>
<polyline points="496.1,601.8 496.1,626.1" fill="none" stroke="#ff0000" stroke-width="1.0" stroke-linejoin="round" stroke-opacity="0.7"/>
<polyline points="500.8,599 500.8,631.2" fill="none" stroke="#ff0000" stroke-width="1.0" stroke-linejoin="round" stroke-opacity="0.7"/>
<polyline points="504.2,600.4 504.2,624.6" fill="none" stroke="#ff0000" stroke-width="1.0" stroke-linejoin="round" stroke-opacity="0.7"/>
<polyline points="508.3,598.7 508.3,626.6" fill="none" stroke="#ff0000" stroke-width="1.0" stroke-linejoin="round" stroke-opacity="0.7"/>
<polyline points="512.5,602.4 512.5,629.8" fill="none" stroke="#ff0000" stroke-width="1.0" stroke-linejoin="round" stroke-opacity="0.7"/>
<polyline points="517.4,593.5 517.4,625.9" fill="none" stroke="#ff0000" stroke-width="1.0" stroke-linejoin="round" stroke-opacity="0.7"/>
<polyline points="521.8,602 521.8,630" fill="none" stroke="#ff0000" stroke-width="1.0" stroke-linejoin="round" stroke-opacity="0.7"/>
<polyline points="526.4,601.9 526.4,624.2" fill="none" stroke="#ff0000" stroke-width="1.0" stroke-linejoin="round" stroke-opacity="0.7"/>
<polyline points="529.7,601 529.7,627.7" fill="none" stroke="#ff0000" stroke-width="1.0" stroke-linejoin="round" stroke-opacity="0.7"/>
<polyline points="533.1,602.9 533.1,628.1" fill="none" stroke="#ff0000" stroke-width="1.0" stroke-linejoin="round" stroke-opacity="0.7"/>
<polyline points="535.3,599 535.3,624.5" fill="none" stroke="#ff0000" stroke-width="1.0" stroke-linejoin="round" stroke-opacity="0.7"/>
<polyline points="538.3,599.1 538.3,624.4" fill="none" stroke="#ff0000" stroke-width="1.0" stroke-linejoin="round" stroke-opacity="0.7"/>
<polyline points="540.8,601.2 540.8,627.2" fill="none" stroke="#ff0000" stroke-width="1.0" stroke-linejoin="round" stroke-opacity="0.7"/>
<polyline points="525.6,589.1 525.6,641.3" fill="none" stroke="#ff0000" stroke-width="1.0" stroke-linejoin="round" stroke-opacity="0.7"/>
<polyline points="529.1,584.6 529.1,634.2" fill="none" stroke="#ff0000" stroke-width="1.0" stroke-linejoin="round" stroke-opacity="0.7"/>
<polyline points="531.7,590.1 531.7,634.9" fill="none" stroke="#ff0000" stroke-width="1.0" stroke-linejoin="round" stroke-opacity="0.7"/>
<polyline points="535.9,589.5 535.9,635.8" fill="none" stroke="#ff0000" stroke-width="1.0" stroke-linejoin="round" stroke-opacity="0.7"/>
<polyline points="541.7,604.9 541.7,620.3" fill="none" stroke="#ff0000" stroke-width="1.0" stroke-linejoin="round" stroke-opacity="0.7"/>
<polyline points="544.8,602.3 544.8,625.2" fill="none" stroke="#ff0000" stroke-width="1.0" stroke-linejoin="round" stroke-opacity="0.7"/>
<polyline points="547.5,602.2 547.5,628" fill="none" stroke="#ff0000" stroke-width="1.0" stroke-linejoin="round" stroke-opacity="0.7"/>
<polyline points="549,597.9 549,634.6" fill="none" stroke="#ff0000" stroke-width="1.0" stroke-linejoin="round" stroke-opacity="0.7"/>
<polyline points="552.6,598.3 552.6,636.3" fill="none" stroke="#ff0000" stroke-width="1.0" stroke-linejoin="round" stroke-opacity="0.7"/>
<polyline points="554.7,591.3 554.7,635.8" fill="none" stroke="#ff0000" stroke-width="1.0" stroke-linejoin="round" stroke-opacity="0.7"/>
<polyline points="557.9,596 557.9,636.1" fill="none" stroke="#ff0000" stroke-width="1.0" stroke-linejoin="round" stroke-opacity="0.7"/>
<polyline points="561.4,597.1 561.4,634.2" fill="none" stroke="#ff0000" stroke-width="1.0" stroke-linejoin="round" stroke-opacity="0.7"/>
<polyline points="565,598.7 565,641.9" fill="none" stroke="#ff0000" stroke-width="1.0" stroke-linejoin="round" stroke-opacity="0.7"/>
<polyline points="569.8,599.2 569.8,635.6" fill="none" stroke="#ff0000" stroke-width="1.0" stroke-linejoin="round" stroke-opacity="0.7"/>
<polyline points="571.3,602.6 571.3,626.7" fill="none" stroke="#ff0000" stroke-width="1.0" stroke-linejoin="round" stroke-opacity="0.7"/>
<polyline points="576,602.4 576,623.5" fill="none" stroke="#ff0000" stroke-width="1.0" stroke-linejoin="round" stroke-opacity="0.7"/>
<polyline points="578.6,601.6 578.6,629" fill="none" stroke="#ff0000" stroke-width="1.0" stroke-linejoin="round" stroke-opacity="0.7"/>
<polyline points="581,600.2 581,622.6" fill="none" stroke="#ff0000" stroke-width="1.0" stroke-linejoin="round" stroke-opacity="0.7"/>
<polyline points="583.5,603.4 583.5,625.4" fill="none" stroke="#ff0000" stroke-width="1.0" stroke-linejoin="round" stroke-opacity="0.7"/>
<polyline points="586.5,602.9 586.5,624.9" fill="none" stroke="#ff0000" stroke-width="1.0" stroke-linejoin="round" stroke-opacity="0.7"/>
<polyline points="588.8,600.7 588.8,622.8" fill="none" stroke="#ff0000" stroke-width="1.0" stroke-linejoin="round" stroke-opacity="0.7"/>
<polyline points="592.4,603.3 592.4,623.1" fill="none" stroke="#ff0000" stroke-width="1.0" stroke-linejoin="round" stroke-opacity="0.7"/>
<polyline points="596,602.6 596,623.7" fill="none" stroke="#ff0000" stroke-width="1.0" stroke-linejoin="round" stroke-opacity="0.7"/>
<polyline points="599.2,602.1 599.2,622.9" fill="none" stroke="#ff0000" stroke-width="1.0" stroke-linejoin="round" stroke-opacity="0.7"/>
<polyline points="601.8,601.5 601.8,625" fill="none" stroke="#ff0000" stroke-width="1.0" stroke-linejoin="round" stroke-opacity="0.7"/>
<polyline points="605.4,599.2 605.4,624.9" fill="none" stroke="#ff0000" stroke-width="1.0" stroke-linejoin="round" stroke-opacity="0.7"/>
<polyline points="610,603.3 610,625.9" fill="none" stroke="#ff0000" stroke-width="1.0" stroke-linejoin="round" stroke-opacity="0.7"/>
<polyline points="614.4,598.2 614.4,623.4" fill="none" stroke="#ff0000" stroke-width="1.0" stroke-linejoin="round" stroke-opacity="0.7"/>
<polyline points="617.3,597.6 617.3,623.1" fill="none" stroke="#ff0000" stroke-width="1.0" stroke-linejoin="round" stroke-opacity="0.7"/>
<polyline points="620,601 620,620.4" fill="none" stroke="#ff0000" stroke-width="1.0" stroke-linejoin="round" stroke-opacity="0.7"/>
<polyline points="622.7,603.3 622.7,620.8" fill="none" stroke="#ff0000" stroke-width="1.0" stroke-linejoin="round" stroke-opacity="0.7"/>
<polyline points="625,602 625,621.4" fill="none" stroke="#ff0000" stroke-width="1.0" stroke-linejoin="round" stroke-opacity="0.7"/>
<polyline points="629.4,606.2 629.4,621.3" fill="none" stroke="#ff0000" stroke-width="1.0" stroke-linejoin="round" stroke-opacity="0.7"/>
<polyline points="633.4,606.5 633.4,620.6" fill="none" stroke="#ff0000" stroke-width="1.0" stroke-linejoin="round" stroke-opacity="0.7"/>
<polyline points="637.5,600.4 637.5,628.6" fill="none" stroke="#ff0000" stroke-width="1.0" stroke-linejoin="round" stroke-opacity="0.7"/>
<polyline points="639.8,604.7 639.8,623.5" fill="none" stroke="#ff0000" stroke-width="1.0" stroke-linejoin="round" stroke-opacity="0.7"/>
<polyline points="643.3,603.6 643.3,620.5" fill="none" stroke="#ff0000" stroke-width="1.0" stroke-linejoin="round" stroke-opacity="0.7"/>
<polyline points="645.5,606.2 645.5,620.1" fill="none" stroke="#ff0000" stroke-width="1.0" stroke-linejoin="round" stroke-opacity="0.7"/>
<polyline points="649.2,604.7 649.2,622.1" fill="none" stroke="#ff0000" stroke-width="1.0" stroke-linejoin="round" stroke-opacity="0.7"/>
<polyline points="651.6,606 651.6,620.6" fill="none" stroke="#ff0000" stroke-width="1.0" stroke-linejoin="round" stroke-opacity="0.7"/>
<polyline points="656.2,594.9 656.2,626.5" fill="none" stroke="#ff0000" stroke-width="1.0" stroke-linejoin="round" stroke-opacity="0.7"/>
<polyline points="658.4,606.3 658.4,627.6" fill="none" stroke="#ff0000" stroke-width="1.0" stroke-linejoin="round" stroke-opacity="0.7"/>
<polyline points="661.8,602.9 661.8,621" fill="none" stroke="#ff0000" stroke-width="1.0" stroke-linejoin="round" stroke-opacity="0.7"/>
<polyline points="665,596.6 665,624.4" fill="none" stroke="#ff0000" stroke-width="1.0" stroke-linejoin="round" stroke-opacity="0.7"/>
<polyline points="668.8,598.4 668.8,626" fill="none" stroke="#ff0000" stroke-width="1.0" stroke-linejoin="round" stroke-opacity="0.7"/>
<polyline points="673.3,597.9 673.3,624.5" fill="none" stroke="#ff0000" stroke-width="1.0" stroke-linejoin="round" stroke-opacity="0.7"/>
<polyline points="677.6,597.1 677.6,623.5" fill="none" stroke="#ff0000" stroke-width="1.0" stroke-linejoin="round" stroke-opacity="0.7"/>
<polyline points="678.6,606.2 678.6,617.5" fill="none" stroke="#ff0000" stroke-width="1.0" stroke-linejoin="round" stroke-opacity="0.7"/>
<polyline points="683.3,604 683.3,620.5" fill="none" stroke="#ff0000" stroke-width="1.0" stroke-linejoin="round" stroke-opacity="0.7"/>
<polyline points="687.9,605.5 687.9,618.8" fill="none" stroke="#ff0000" stroke-width="1.0" stroke-linejoin="round" stroke-opacity="0.7"/>
<polyline points="691.7,606.2 691.7,627.6" fill="none" stroke="#ff0000" stroke-width="1.0" stroke-linejoin="round" stroke-opacity="0.7"/>
<polyline points="696.1,607.3 696.1,623.6" fill="none" stroke="#ff0000" stroke-width="1.0" stroke-linejoin="round" stroke-opacity="0.7"/>
<polyline points="700.3,604.2 700.3,621.7" fill="none" stroke="#ff0000" stroke-width="1.0" stroke-linejoin="round" stroke-opacity="0.7"/>
<polyline points="703.5,602.3 703.5,622.8" fill="none" stroke="#ff0000" stroke-width="1.0" stroke-linejoin="round" stroke-opacity="0.7"/>
<polyline points="707.6,604.4 707.6,621.1" fill="none" stroke="#ff0000" stroke-width="1.0" stroke-linejoin="round" stroke-opacity="0.7"/>
<polyline points="710.8,604.8 710.8,617.7" fill="none" stroke="#ff0000" stroke-width="1.0" stroke-linejoin="round" stroke-opacity="0.7"/>
<polyline points="713.9,606.4 713.9,617.5" fill="none" stroke="#ff0000" stroke-width="1.0" stroke-linejoin="round" stroke-opacity="0.7"/>
<polyline points="716.9,605.5 716.9,619.9" fill="none" stroke="#ff0000" stroke-width="1.0" stroke-linejoin="round" stroke-opacity="0.7"/>
<polyline points="719.6,600.8 719.6,620.2" fill="none" stroke="#ff0000" stroke-width="1.0" stroke-linejoin="round" stroke-opacity="0.7"/>
<polyline points="722.6,605.3 722.6,619.6" fill="none" stroke="#ff0000" stroke-width="1.0" stroke-linejoin="round" stroke-opacity="0.7"/>
<polyline points="726.2,606.8 726.2,640.2" fill="none" stroke="#ff0000" stroke-width="1.0" stroke-linejoin="round" stroke-opacity="0.7"/>
<polyline points="730.2,605 730.2,621.1" fill="none" stroke="#ff0000" stroke-width="1.0" stroke-linejoin="round" stroke-opacity="0.7"/>
<polyline points="735.1,607.9 735.1,619.9" fill="none" stroke="#ff0000" stroke-width="1.0" stroke-linejoin="round" stroke-opacity="0.7"/>
<polyline points="739.3,607.3 739.3,618.8" fill="none" stroke="#ff0000" stroke-width="1.0" stroke-linejoin="round" stroke-opacity="0.7"/>
<polyline points="741.5,607.5 741.5,618.7" fill="none" stroke="#ff0000" stroke-width="1.0" stroke-linejoin="round" stroke-opacity="0.7"/>
<polyline points="743.8,607.3 743.8,623.4" fill="none" stroke="#ff0000" stroke-width="1.0" stroke-linejoin="round" stroke-opacity="0.7"/>
<polyline points="747.4,606.2 747.4,626" fill="none" stroke="#ff0000" stroke-width="1.0" stroke-linejoin="round" stroke-opacity="0.7"/>
<polyline points="751.1,594.7 751.1,620" fill="none" stroke="#ff0000" stroke-width="1.0" stroke-linejoin="round" stroke-opacity="0.7"/>
<polyline points="755.5,607.8 755.5,619.8" fill="none" stroke="#ff0000" stroke-width="1.0" stroke-linejoin="round" stroke-opacity="0.7"/>
<polyline points="759.8,607.9 759.8,624.2" fill="none" stroke="#ff0000" stroke-width="1.0" stroke-linejoin="round" stroke-opacity="0.7"/>
<polyline points="760,606.9 760,617.5" fill="none" stroke="#ff0000" stroke-width="1.0" stroke-linejoin="round" stroke-opacity="0.7"/>
<polyline points="763.5,606.1 763.5,617.2" fill="none" stroke="#ff0000" stroke-width="1.0" stroke-linejoin="round" stroke-opacity="0.7"/>
<polyline points="768.3,607.1 768.3,618.9" fill="none" stroke="#ff0000" stroke-width="1.0" stroke-linejoin="round" stroke-opacity="0.7"/>
<polyline points="772.1,607.4 772.1,617.8" fill="none" stroke="#ff0000" stroke-width="1.0" stroke-linejoin="round" stroke-opacity="0.7"/>
<polyline points="776.1,606.4 776.1,617.8" fill="none" stroke="#ff0000" stroke-width="1.0" stroke-linejoin="round" stroke-opacity="0.7"/>
<polyline points="780.2,607.6 780.2,617" fill="none" stroke="#ff0000" stroke-width="1.0" stroke-linejoin="round" stroke-opacity="0.7"/>
<polyline points="783,608.4 783,617.4" fill="none" stroke="#ff0000" stroke-width="1.0" stroke-linejoin="round" stroke-opacity="0.7"/>
<polyline points="787.2,607.3 787.2,622.7" fill="none" stroke="#ff0000" stroke-width="1.0" stroke-linejoin="round" stroke-opacity="0.7"/>
<polyline points="791.5,608.4 791.5,628.2" fill="none" stroke="#ff0000" stroke-width="1.0" stroke-linejoin="round" stroke-opacity="0.7"/>
<polyline points="796.3,608.3 796.3,622.9" fill="none" stroke="#ff0000" stroke-width="1.0" stroke-linejoin="round" stroke-opacity="0.7"/>
<polyline points="799.6,606.9 799.6,626" fill="none" stroke="#ff0000" stroke-width="1.0" stroke-linejoin="round" stroke-opacity="0.7"/>
<polyline points="802.3,606.6 802.3,623.9" fill="none" stroke="#ff0000" stroke-width="1.0" stroke-linejoin="round" stroke-opacity="0.7"/>
<polyline points="806.5,606.9 806.5,626.6" fill="none" stroke="#ff0000" stroke-width="1.0" stroke-linejoin="round" stroke-opacity="0.7"/>
<polyline points="810.9,606.2 810.9,617.3" fill="none" stroke="#ff0000" stroke-width="1.0" stroke-linejoin="round" stroke-opacity="0.7"/>
<polyline points="814.8,607 814.8,617.6" fill="none" stroke="#ff0000" stroke-width="1.0" stroke-linejoin="round" stroke-opacity="0.7"/>
<polyline points="817,606.6 817,617.3" fill="none" stroke="#ff0000" stroke-width="1.0" stroke-linejoin="round" stroke-opacity="0.7"/>
<polyline points="820.3,605.7 820.3,618.5" fill="none" stroke="#ff0000" stroke-width="1.0" stroke-linejoin="round" stroke-opacity="0.7"/>
<polyline points="823.1,606.3 823.1,618.4" fill="none" stroke="#ff0000" stroke-width="1.0" stroke-linejoin="round" stroke-opacity="0.7"/>
<polyline points="827.4,606.6 827.4,632.1" fill="none" stroke="#ff0000" stroke-width="1.0" stroke-linejoin="round" stroke-opacity="0.7"/>
<polyline points="832.3,605.2 832.3,617.7" fill="none" stroke="#ff0000" stroke-width="1.0" stroke-linejoin="round" stroke-opacity="0.7"/>
<polyline points="834.6,602.9 834.6,620.8" fill="none" stroke="#ff0000" stroke-width="1.0" stroke-linejoin="round" stroke-opacity="0.7"/>
<polyline points="838.5,607.4 838.5,617.8" fill="none" stroke="#ff0000" stroke-width="1.0" stroke-linejoin="round" stroke-opacity="0.7"/>
<polyline points="871.8,607.4 871.8,617.9" fill="none" stroke="#ff0000" stroke-width="1.0" stroke-linejoin="round" stroke-opacity="0.7"/>
<polyline points="875.7,606 875.7,616.2" fill="none" stroke="#ff0000" stroke-width="1.0" stroke-linejoin="round" stroke-opacity="0.7"/>
<polyline points="878.4,599.8 878.4,621.9" fill="none" stroke="#ff0000" stroke-width="1.0" stroke-linejoin="round" stroke-opacity="0.7"/>
<polyline points="883.1,609.4 883.1,615.9" fill="none" stroke="#ff0000" stroke-width="1.0" stroke-linejoin="round" stroke-opacity="0.7"/>
<polyline points="885.9,608.1 885.9,618.1" fill="none" stroke="#ff0000" stroke-width="1.0" stroke-linejoin="round" stroke-opacity="0.7"/>
<polyline points="888.2,607.5 888.2,615.9" fill="none" stroke="#ff0000" stroke-width="1.0" stroke-linejoin="round" stroke-opacity="0.7"/>
<polyline points="890.5,606.7 890.5,617.7" fill="none" stroke="#ff0000" stroke-width="1.0" stroke-linejoin="round" stroke-opacity="0.7"/>
<polyline points="892.8,601.8 892.8,624.6" fill="none" stroke="#ff0000" stroke-width="1.0" stroke-linejoin="round" stroke-opacity="0.7"/>
<polyline points="895.4,601.9 895.4,626.4" fill="none" stroke="#ff0000" stroke-width="1.0" stroke-linejoin="round" stroke-opacity="0.7"/>
<polyline points="899.9,602.8 899.9,623.3" fill="none" stroke="#ff0000" stroke-width="1.0" stroke-linejoin="round" stroke-opacity="0.7"/>
<polyline points="904.4,600.6 904.4,626.7" fill="none" stroke="#ff0000" stroke-width="1.0" stroke-linejoin="round" stroke-opacity="0.7"/>
<polyline points="907,601.6 907,623.7" fill="none" stroke="#ff0000" stroke-width="1.0" stroke-linejoin="round" stroke-opacity="0.7"/>
<polyline points="911.4,601.8 911.4,625.7" fill="none" stroke="#ff0000" stroke-width="1.0" stroke-linejoin="round" stroke-opacity="0.7"/>
<polyline points="916.4,602 916.4,625" fill="none" stroke="#ff0000" stroke-width="1.0" stroke-linejoin="round" stroke-opacity="0.7"/>
<polyline points="920.7,596.7 920.7,624.4" fill="none" stroke="#ff0000" stroke-width="1.0" stroke-linejoin="round" stroke-opacity="0.7"/>
<polyline points="923.8,602.7 923.8,628.2" fill="none" stroke="#ff0000" stroke-width="1.0" stroke-linejoin="round" stroke-opacity="0.7"/>
<polyline points="926,602.8 926,625.1" fill="none" stroke="#ff0000" stroke-width="1.0" stroke-linejoin="round" stroke-opacity="0.7"/>
<polyline points="929.4,600.1 929.4,623.9" fill="none" stroke="#ff0000" stroke-width="1.0" stroke-linejoin="round" stroke-opacity="0.7"/>
<polyline points="933.8,602.8 933.8,623.6" fill="none" stroke="#ff0000" stroke-width="1.0" stroke-linejoin="round" stroke-opacity="0.7"/>
<polyline points="937.8,602.8 937.8,623.9" fill="none" stroke="#ff0000" stroke-width="1.0" stroke-linejoin="round" stroke-opacity="0.7"/>
<polyline points="941.9,600 941.9,623.8" fill="none" stroke="#ff0000" stroke-width="1.0" stroke-linejoin="round" stroke-opacity="0.7"/>
<polyline points="944.4,601.9 944.4,626.2" fill="none" stroke="#ff0000" stroke-width="1.0" stroke-linejoin="round" stroke-opacity="0.7"/>
<polyline points="947.5,602.7 947.5,626.1" fill="none" stroke="#ff0000" stroke-width="1.0" stroke-linejoin="round" stroke-opacity="0.7"/>
<polyline points="951.2,596.7 951.2,630" fill="none" stroke="#ff0000" stroke-width="1.0" stroke-linejoin="round" stroke-opacity="0.7"/>
<polyline points="955.9,601.6 955.9,627.1" fill="none" stroke="#ff0000" stroke-width="1.0" stroke-linejoin="round" stroke-opacity="0.7"/>
<polyline points="958.8,602 958.8,624.3" fill="none" stroke="#ff0000" stroke-width="1.0" stroke-linejoin="round" stroke-opacity="0.7"/>
<polyline points="960,598.4 960,622.7" fill="none" stroke="#ff0000" stroke-width="1.0" stroke-linejoin="round" stroke-opacity="0.7"/>
<polyline points="963.1,602.9 963.1,623.1" fill="none" stroke="#ff0000" stroke-width="1.0" stroke-linejoin="round" stroke-opacity="0.7"/>
<polyline points="966.3,602.8 966.3,622.5" fill="none" stroke="#ff0000" stroke-width="1.0" stroke-linejoin="round" stroke-opacity="0.7"/>
<polyline points="970,600 970,623.9" fill="none" stroke="#ff0000" stroke-width="1.0" stroke-linejoin="round" stroke-opacity="0.7"/>
<polyline points="974.5,601.9 974.5,622.5" fill="none" stroke="#ff0000" stroke-width="1.0" stroke-linejoin="round" stroke-opacity="0.7"/>
<polyline points="978.7,598.7 978.7,622.8" fill="none" stroke="#ff0000" stroke-width="1.0" stroke-linejoin="round" stroke-opacity="0.7"/>
<polyline points="980.8,602.2 980.8,624" fill="none" stroke="#ff0000" stroke-width="1.0" stroke-linejoin="round" stroke-opacity="0.7"/>
<polyline points="984.5,595.5 984.5,624.6" fill="none" stroke="#ff0000" stroke-width="1.0" stroke-linejoin="round" stroke-opacity="0.7"/>
<polyline points="988.9,603.8 988.9,624" fill="none" stroke="#ff0000" stroke-width="1.0" stroke-linejoin="round" stroke-opacity="0.7"/>
<polyline points="993.3,603.8 993.3,622.2" fill="none" stroke="#ff0000" stroke-width="1.0" stroke-linejoin="round" stroke-opacity="0.7"/>
<polyline points="997.5,598.3 997.5,622.2" fill="none" stroke="#ff0000" stroke-width="1.0" stroke-linejoin="round" stroke-opacity="0.7"/>
<polyline points="1001.4,603.6 1001.4,625.4" fill="none" stroke="#ff0000" stroke-width="1.0" stroke-linejoin="round" stroke-opacity="0.7"/>
<polyline points="1005.4,603.3 1005.4,622.6" fill="none" stroke="#ff0000" stroke-width="1.0" stroke-linejoin="round" stroke-opacity="0.7"/>
<polyline points="1009.7,602.2 1009.7,625.6" fill="none" stroke="#ff0000" stroke-width="1.0" stroke-linejoin="round" stroke-opacity="0.7"/>
<polyline points="1012.8,603 1012.8,630.6" fill="none" stroke="#ff0000" stroke-width="1.0" stroke-linejoin="round" stroke-opacity="0.7"/>
<polyline points="1016.9,602.3 1016.9,623.9" fill="none" stroke="#ff0000" stroke-width="1.0" stroke-linejoin="round" stroke-opacity="0.7"/>
<polyline points="1021,600.9 1021,628.2" fill="none" stroke="#ff0000" stroke-width="1.0" stroke-linejoin="round" stroke-opacity="0.7"/>
<polyline points="1024.2,599.6 1024.2,624.7" fill="none" stroke="#ff0000" stroke-width="1.0" stroke-linejoin="round" stroke-opacity="0.7"/>
<polyline points="1028.8,599.9 1028.8,626.5" fill="none" stroke="#ff0000" stroke-width="1.0" stroke-linejoin="round" stroke-opacity="0.7"/>
<polyline points="1030,598.6 1030,622.3" fill="none" stroke="#ff0000" stroke-width="1.0" stroke-linejoin="round" stroke-opacity="0.7"/>
<polyline points="1033.6,603.4 1033.6,623.8" fill="none" stroke="#ff0000" stroke-width="1.0" stroke-linejoin="round" stroke-opacity="0.7"/>
<polyline points="1036.8,605.1 1036.8,620.1" fill="none" stroke="#ff0000" stroke-width="1.0" stroke-linejoin="round" stroke-opacity="0.7"/>
<polyline points="1041.1,594.7 1041.1,620.9" fill="none" stroke="#ff0000" stroke-width="1.0" stroke-linejoin="round" stroke-opacity="0.7"/>
<polyline points="1043.6,605.9 1043.6,621.1" fill="none" stroke="#ff0000" stroke-width="1.0" stroke-linejoin="round" stroke-opacity="0.7"/>
<polyline points="1046.4,597.8 1046.4,619.9" fill="none" stroke="#ff0000" stroke-width="1.0" stroke-linejoin="round" stroke-opacity="0.7"/>
<polyline points="1049.4,606.2 1049.4,622.3" fill="none" stroke="#ff0000" stroke-width="1.0" stroke-linejoin="round" stroke-opacity="0.7"/>
<polyline points="1053.7,606 1053.7,619.9" fill="none" stroke="#ff0000" stroke-width="1.0" stroke-linejoin="round" stroke-opacity="0.7"/>
<polyline points="1057.1,604.3 1057.1,625.7" fill="none" stroke="#ff0000" stroke-width="1.0" stroke-linejoin="round" stroke-opacity="0.7"/>
<polyline points="1059.2,606.2 1059.2,620.2" fill="none" stroke="#ff0000" stroke-width="1.0" stroke-linejoin="round" stroke-opacity="0.7"/>
<polyline points="1061.8,605.8 1061.8,622.9" fill="none" stroke="#ff0000" stroke-width="1.0" stroke-linejoin="round" stroke-opacity="0.7"/>
<polyline points="1065.6,605.9 1065.6,620.2" fill="none" stroke="#ff0000" stroke-width="1.0" stroke-linejoin="round" stroke-opacity="0.7"/>
<polyline points="1068.5,606 1068.5,623.2" fill="none" stroke="#ff0000" stroke-width="1.0" stroke-linejoin="round" stroke-opacity="0.7"/>
<polyline points="1071.4,604.5 1071.4,623.9" fill="none" stroke="#ff0000" stroke-width="1.0" stroke-linejoin="round" stroke-opacity="0.7"/>
<polyline points="1074.8,605.7 1074.8,625.2" fill="none" stroke="#ff0000" stroke-width="1.0" stroke-linejoin="round" stroke-opacity="0.7"/>
<polyline points="1079.6,605.5 1079.6,621.7" fill="none" stroke="#ff0000" stroke-width="1.0" stroke-linejoin="round" stroke-opacity="0.7"/>
<polyline points="1084.4,604.9 1084.4,620.3" fill="none" stroke="#ff0000" stroke-width="1.0" stroke-linejoin="round" stroke-opacity="0.7"/>
<polyline points="1086.6,599.1 1086.6,623.7" fill="none" stroke="#ff0000" stroke-width="1.0" stroke-linejoin="round" stroke-opacity="0.7"/>
<polyline points="1089.7,604.6 1089.7,621.5" fill="none" stroke="#ff0000" stroke-width="1.0" stroke-linejoin="round" stroke-opacity="0.7"/>
<polyline points="1092.6,594.9 1092.6,622.4" fill="none" stroke="#ff0000" stroke-width="1.0" stroke-linejoin="round" stroke-opacity="0.7"/>
<polyline points="1095.3,606.5 1095.3,621.3" fill="none" stroke="#ff0000" stroke-width="1.0" stroke-linejoin="round" stroke-opacity="0.7"/>
<polyline points="1098.4,602.5 1098.4,622.8" fill="none" stroke="#ff0000" stroke-width="1.0" stroke-linejoin="round" stroke-opacity="0.7"/>
<polyline points="1102.2,606.1 1102.2,620.1" fill="none" stroke="#ff0000" stroke-width="1.0" stroke-linejoin="round" stroke-opacity="0.7"/>
<polyline points="1105.2,605.7 1105.2,624.8" fill="none" stroke="#ff0000" stroke-width="1.0" stroke-linejoin="round" stroke-opacity="0.7"/>
<polyline points="1108.7,604 1108.7,632.1" fill="none" stroke="#ff0000" stroke-width="1.0" stroke-linejoin="round" stroke-opacity="0.7"/>
<polyline points="1111.5,604.6 1111.5,620.1" fill="none" stroke="#ff0000" stroke-width="1.0" stroke-linejoin="round" stroke-opacity="0.7"/>
<polyline points="1115.8,606.5 1115.8,624" fill="none" stroke="#ff0000" stroke-width="1.0" stroke-linejoin="round" stroke-opacity="0.7"/>
<polyline points="1120.4,602.2 1120.4,619.9" fill="none" stroke="#ff0000" stroke-width="1.0" stroke-linejoin="round" stroke-opacity="0.7"/>
<polyline points="1123.2,603.3 1123.2,620" fill="none" stroke="#ff0000" stroke-width="1.0" stroke-linejoin="round" stroke-opacity="0.7"/>
<polyline points="1126.6,604.9 1126.6,627.5" fill="none" stroke="#ff0000" stroke-width="1.0" stroke-linejoin="round" stroke-opacity="0.7"/>
<polyline points="1130.4,601.6 1130.4,620.6" fill="none" stroke="#ff0000" stroke-width="1.0" stroke-linejoin="round" stroke-opacity="0.7"/>
<polyline points="1134.8,605.2 1134.8,625.9" fill="none" stroke="#ff0000" stroke-width="1.0" stroke-linejoin="round" stroke-opacity="0.7"/>
<polyline points="1137,602.1 1137,620.3" fill="none" stroke="#ff0000" stroke-width="1.0" stroke-linejoin="round" stroke-opacity="0.7"/>
<polyline points="1140.7,604.6 1140.7,620.1" fill="none" stroke="#ff0000" stroke-width="1.0" stroke-linejoin="round" stroke-opacity="0.7"/>
<polyline points="1145.2,605.6 1145.2,620.6" fill="none" stroke="#ff0000" stroke-width="1.0" stroke-linejoin="round" stroke-opacity="0.7"/>
<polyline points="1147.4,605.6 1147.4,621.3" fill="none" stroke="#ff0000" stroke-width="1.0" stroke-linejoin="round" stroke-opacity="0.7"/>
<polyline points="1151.5,605.4 1151.5,622.6" fill="none" stroke="#ff0000" stroke-width="1.0" stroke-linejoin="round" stroke-opacity="0.7"/>
<polyline points="1153.8,605.2 1153.8,621.2" fill="none" stroke="#ff0000" stroke-width="1.0" stroke-linejoin="round" stroke-opacity="0.7"/>
<polyline points="1039,593.6 1039,632.7" fill="none" stroke="#ff0000" stroke-width="1.0" stroke-linejoin="round" stroke-opacity="0.7"/>
<polyline points="1041,596.8 1041,633.1" fill="none" stroke="#ff0000" stroke-width="1.0" stroke-linejoin="round" stroke-opacity="0.7"/>
<polyline points="1043.7,595.9 1043.7,631.5" fill="none" stroke="#ff0000" stroke-width="1.0" stroke-linejoin="round" stroke-opacity="0.7"/>
<polyline points="1045.8,586 1045.8,634" fill="none" stroke="#ff0000" stroke-width="1.0" stroke-linejoin="round" stroke-opacity="0.7"/>
<polyline points="1048.4,595.6 1048.4,630.9" fill="none" stroke="#ff0000" stroke-width="1.0" stroke-linejoin="round" stroke-opacity="0.7"/>
<polyline points="1051.5,596.1 1051.5,630.9" fill="none" stroke="#ff0000" stroke-width="1.0" stroke-linejoin="round" stroke-opacity="0.7"/>
<polyline points="1157.2,579.1 1157.2,595.1" fill="none" stroke="#ff0000" stroke-width="1.0" stroke-linejoin="round" stroke-opacity="0.7"/>
<polyline points="1160,579.7 1160,595.7" fill="none" stroke="#ff0000" stroke-width="1.0" stroke-linejoin="round" stroke-opacity="0.7"/>
<polyline points="1163,573 1163,594.5" fill="none" stroke="#ff0000" stroke-width="1.0" stroke-linejoin="round" stroke-opacity="0.7"/>
<polyline points="1167.1,579.3 1167.1,596.8" fill="none" stroke="#ff0000" stroke-width="1.0" stroke-linejoin="round" stroke-opacity="0.7"/>
<polyline points="1169.4,579.9 1169.4,592.6" fill="none" stroke="#ff0000" stroke-width="1.0" stroke-linejoin="round" stroke-opacity="0.7"/>
<polyline points="1173.4,577.2 1173.4,592.9" fill="none" stroke="#ff0000" stroke-width="1.0" stroke-linejoin="round" stroke-opacity="0.7"/>
<polyline points="1176.6,575.8 1176.6,594.6" fill="none" stroke="#ff0000" stroke-width="1.0" stroke-linejoin="round" stroke-opacity="0.7"/>
<polyline points="1178.9,579.7 1178.9,592.8" fill="none" stroke="#ff0000" stroke-width="1.0" stroke-linejoin="round" stroke-opacity="0.7"/>
<polyline points="1181.3,579 1181.3,592.6" fill="none" stroke="#ff0000" stroke-width="1.0" stroke-linejoin="round" stroke-opacity="0.7"/>
<polyline points="1186.1,578.9 1186.1,594.2" fill="none" stroke="#ff0000" stroke-width="1.0" stroke-linejoin="round" stroke-opacity="0.7"/>
<polyline points="1187.5,604.9 1187.5,621.8" fill="none" stroke="#ff0000" stroke-width="1.0" stroke-linejoin="round" stroke-opacity="0.7"/>
<polyline points="1190.7,607.5 1190.7,618.8" fill="none" stroke="#ff0000" stroke-width="1.0" stroke-linejoin="round" stroke-opacity="0.7"/>
<polyline points="1192.7,607.2 1192.7,620.5" fill="none" stroke="#ff0000" stroke-width="1.0" stroke-linejoin="round" stroke-opacity="0.7"/>
<polyline points="1197.6,604.6 1197.6,620.2" fill="none" stroke="#ff0000" stroke-width="1.0" stroke-linejoin="round" stroke-opacity="0.7"/>
<polyline points="1201.5,608.5 1201.5,618.5" fill="none" stroke="#ff0000" stroke-width="1.0" stroke-linejoin="round" stroke-opacity="0.7"/>
<polyline points="1204.5,605.9 1204.5,617.8" fill="none" stroke="#ff0000" stroke-width="1.0" stroke-linejoin="round" stroke-opacity="0.7"/>
<polyline points="1207.6,606.7 1207.6,621.4" fill="none" stroke="#ff0000" stroke-width="1.0" stroke-linejoin="round" stroke-opacity="0.7"/>
<polyline points="1212.1,606.1 1212.1,617.9" fill="none" stroke="#ff0000" stroke-width="1.0" stroke-linejoin="round" stroke-opacity="0.7"/>
<polyline points="1216.4,602.7 1216.4,619.5" fill="none" stroke="#ff0000" stroke-width="1.0" stroke-linejoin="round" stroke-opacity="0.7"/>
<polyline points="1219.5,606.8 1219.5,617.9" fill="none" stroke="#ff0000" stroke-width="1.0" stroke-linejoin="round" stroke-opacity="0.7"/>
<polyline points="1223.6,597.7 1223.6,619.3" fill="none" stroke="#ff0000" stroke-width="1.0" stroke-linejoin="round" stroke-opacity="0.7"/>
<polyline points="1227.8,604 1227.8,618" fill="none" stroke="#ff0000" stroke-width="1.0" stroke-linejoin="round" stroke-opacity="0.7"/>
<polyline points="1232.6,606 1232.6,618.1" fill="none" stroke="#ff0000" stroke-width="1.0" stroke-linejoin="round" stroke-opacity="0.7"/>
<polyline points="1234.8,607.8 1234.8,619.6" fill="none" stroke="#ff0000" stroke-width="1.0" stroke-linejoin="round" stroke-opacity="0.7"/>
<polyline points="1238.9,607.5 1238.9,624.1" fill="none" stroke="#ff0000" stroke-width="1.0" stroke-linejoin="round" stroke-opacity="0.7"/>
<polyline points="1242,606.9 1242,617.8" fill="none" stroke="#ff0000" stroke-width="1.0" stroke-linejoin="round" stroke-opacity="0.7"/>
<polyline points="1246.9,608.1 1246.9,623.4" fill="none" stroke="#ff0000" stroke-width="1.0" stroke-linejoin="round" stroke-opacity="0.7"/>
<polyline points="1250.6,606.4 1250.6,619.6" fill="none" stroke="#ff0000" stroke-width="1.0" stroke-linejoin="round" stroke-opacity="0.7"/>
<polyline points="1253.4,602.5 1253.4,629.6" fill="none" stroke="#ff0000" stroke-width="1.0" stroke-linejoin="round" stroke-opacity="0.7"/>
<polyline points="1257.8,606.2 1257.8,617.8" fill="none" stroke="#ff0000" stroke-width="1.0" stroke-linejoin="round" stroke-opacity="0.7"/>
<polyline points="1262.3,607.6 1262.3,623.2" fill="none" stroke="#ff0000" stroke-width="1.0" stroke-linejoin="round" stroke-opacity="0.7"/>
<polyline points="1265,606.4 1265,621.9" fill="none" stroke="#ff0000" stroke-width="1.0" stroke-linejoin="round" stroke-opacity="0.7"/>
<polyline points="1267.6,606.5 1267.6,617.7" fill="none" stroke="#ff0000" stroke-width="1.0" stroke-linejoin="round" stroke-opacity="0.7"/>
<polyline points="1269.7,608 1269.7,628.4" fill="none" stroke="#ff0000" stroke-width="1.0" stroke-linejoin="round" stroke-opacity="0.7"/>
<polyline points="1274.5,605.8 1274.5,618.4" fill="none" stroke="#ff0000" stroke-width="1.0" stroke-linejoin="round" stroke-opacity="0.7"/>
<polyline points="1278.5,605.2 1278.5,618.7" fill="none" stroke="#ff0000" stroke-width="1.0" stroke-linejoin="round" stroke-opacity="0.7"/>
<polyline points="1282.3,604.4 1282.3,617.5" fill="none" stroke="#ff0000" stroke-width="1.0" stroke-linejoin="round" stroke-opacity="0.7"/>
<polyline points="1284.9,606.9 1284.9,617.9" fill="none" stroke="#ff0000" stroke-width="1.0" stroke-linejoin="round" stroke-opacity="0.7"/>
<polyline points="1288,606.4 1288,618" fill="none" stroke="#ff0000" stroke-width="1.0" stroke-linejoin="round" stroke-opacity="0.7"/>
<polyline points="1291.6,607.7 1291.6,619.6" fill="none" stroke="#ff0000" stroke-width="1.0" stroke-linejoin="round" stroke-opacity="0.7"/>
<polyline points="1294.6,605.9 1294.6,617.6" fill="none" stroke="#ff0000" stroke-width="1.0" stroke-linejoin="round" stroke-opacity="0.7"/>
<polyline points="1298.6,608.1 1298.6,625.5" fill="none" stroke="#ff0000" stroke-width="1.0" stroke-linejoin="round" stroke-opacity="0.7"/>
<polyline points="1302.4,606.9 1302.4,618.8" fill="none" stroke="#ff0000" stroke-width="1.0" stroke-linejoin="round" stroke-opacity="0.7"/>
<polyline points="1306.3,605.6 1306.3,621" fill="none" stroke="#ff0000" stroke-width="1.0" stroke-linejoin="round" stroke-opacity="0.7"/>
<polyline points="1310.5,606.8 1310.5,630.6" fill="none" stroke="#ff0000" stroke-width="1.0" stroke-linejoin="round" stroke-opacity="0.7"/>
<polyline points="1315,603.7 1315,618.8" fill="none" stroke="#ff0000" stroke-width="1.0" stroke-linejoin="round" stroke-opacity="0.7"/>
<polyline points="1318.3,606.4 1318.3,623.4" fill="none" stroke="#ff0000" stroke-width="1.0" stroke-linejoin="round" stroke-opacity="0.7"/>
<polyline points="1321.9,606.6 1321.9,618.9" fill="none" stroke="#ff0000" stroke-width="1.0" stroke-linejoin="round" stroke-opacity="0.7"/>
<polyline points="1326.6,607.5 1326.6,617.6" fill="none" stroke="#ff0000" stroke-width="1.0" stroke-linejoin="round" stroke-opacity="0.7"/>
<polyline points="1330.8,602.7 1330.8,620.8" fill="none" stroke="#ff0000" stroke-width="1.0" stroke-linejoin="round" stroke-opacity="0.7"/>
<polyline points="1334.6,605 1334.6,618.4" fill="none" stroke="#ff0000" stroke-width="1.0" stroke-linejoin="round" stroke-opacity="0.7"/>
<polyline points="1338.4,608.3 1338.4,617.8" fill="none" stroke="#ff0000" stroke-width="1.0" stroke-linejoin="round" stroke-opacity="0.7"/>
<polyline points="1341.7,606.8 1341.7,618.8" fill="none" stroke="#ff0000" stroke-width="1.0" stroke-linejoin="round" stroke-opacity="0.7"/>
<polyline points="1343.9,605.5 1343.9,619.4" fill="none" stroke="#ff0000" stroke-width="1.0" stroke-linejoin="round" stroke-opacity="0.7"/>
<polyline points="1346.6,607.6 1346.6,618.8" fill="none" stroke="#ff0000" stroke-width="1.0" stroke-linejoin="round" stroke-opacity="0.7"/>
<polyline points="1349.3,608.3 1349.3,623.6" fill="none" stroke="#ff0000" stroke-width="1.0" stroke-linejoin="round" stroke-opacity="0.7"/>
<polyline points="1354.2,605.8 1354.2,622.5" fill="none" stroke="#ff0000" stroke-width="1.0" stroke-linejoin="round" stroke-opacity="0.7"/>
<polyline points="1357.5,604.4 1357.5,618.1" fill="none" stroke="#ff0000" stroke-width="1.0" stroke-linejoin="round" stroke-opacity="0.7"/>
<polyline points="1278,600.9 1278,628.5" fill="none" stroke="#ff0000" stroke-width="1.0" stroke-linejoin="round" stroke-opacity="0.7"/>
<polyline points="1280.3,599.1 1280.3,623" fill="none" stroke="#ff0000" stroke-width="1.0" stroke-linejoin="round" stroke-opacity="0.7"/>
<polyline points="1283.9,595.5 1283.9,622.7" fill="none" stroke="#ff0000" stroke-width="1.0" stroke-linejoin="round" stroke-opacity="0.7"/>
<polyline points="1360,605.1 1360,621" fill="none" stroke="#ff0000" stroke-width="1.0" stroke-linejoin="round" stroke-opacity="0.7"/>
<polyline points="1362.2,600.4 1362.2,624.2" fill="none" stroke="#ff0000" stroke-width="1.0" stroke-linejoin="round" stroke-opacity="0.7"/>
<polyline points="1365.4,604.9 1365.4,622.2" fill="none" stroke="#ff0000" stroke-width="1.0" stroke-linejoin="round" stroke-opacity="0.7"/>
<polyline points="1367.5,605.9 1367.5,625.7" fill="none" stroke="#ff0000" stroke-width="1.0" stroke-linejoin="round" stroke-opacity="0.7"/>
<polyline points="1370.4,604.3 1370.4,626.8" fill="none" stroke="#ff0000" stroke-width="1.0" stroke-linejoin="round" stroke-opacity="0.7"/>
<polyline points="1374,608.4 1374,617.1" fill="none" stroke="#ff0000" stroke-width="1.0" stroke-linejoin="round" stroke-opacity="0.7"/>
<polyline points="1376.9,603.6 1376.9,622.2" fill="none" stroke="#ff0000" stroke-width="1.0" stroke-linejoin="round" stroke-opacity="0.7"/>
<polyline points="1379.5,605.5 1379.5,617.6" fill="none" stroke="#ff0000" stroke-width="1.0" stroke-linejoin="round" stroke-opacity="0.7"/>
<polyline points="1382.9,609.5 1382.9,621.8" fill="none" stroke="#ff0000" stroke-width="1.0" stroke-linejoin="round" stroke-opacity="0.7"/>
<polyline points="1387.9,609.4 1387.9,619" fill="none" stroke="#ff0000" stroke-width="1.0" stroke-linejoin="round" stroke-opacity="0.7"/>
<polyline points="1390.5,604.7 1390.5,616.6" fill="none" stroke="#ff0000" stroke-width="1.0" stroke-linejoin="round" stroke-opacity="0.7"/>
<polyline points="1392.8,606.8 1392.8,617.4" fill="none" stroke="#ff0000" stroke-width="1.0" stroke-linejoin="round" stroke-opacity="0.7"/>
<polyline points="1397.5,604.9 1397.5,619.6" fill="none" stroke="#ff0000" stroke-width="1.0" stroke-linejoin="round" stroke-opacity="0.7"/>
<polyline points="1399.9,607 1399.9,623.4" fill="none" stroke="#ff0000" stroke-width="1.0" stroke-linejoin="round" stroke-opacity="0.7"/>
<polyline points="1403.2,609.8 1403.2,617.1" fill="none" stroke="#ff0000" stroke-width="1.0" stroke-linejoin="round" stroke-opacity="0.7"/>
<polyline points="1406.1,606.9 1406.1,617" fill="none" stroke="#ff0000" stroke-width="1.0" stroke-linejoin="round" stroke-opacity="0.7"/>
<polyline points="1408.7,609.3 1408.7,619.2" fill="none" stroke="#ff0000" stroke-width="1.0" stroke-linejoin="round" stroke-opacity="0.7"/>
<polyline points="1413,608.8 1413,619.2" fill="none" stroke="#ff0000" stroke-width="1.0" stroke-linejoin="round" stroke-opacity="0.7"/>
<polyline points="1417.7,607.8 1417.7,617.2" fill="none" stroke="#ff0000" stroke-width="1.0" stroke-linejoin="round" stroke-opacity="0.7"/>
<polyline points="1420.6,603.5 1420.6,619.2" fill="none" stroke="#ff0000" stroke-width="1.0" stroke-linejoin="round" stroke-opacity="0.7"/>
<polyline points="1423.4,607.4 1423.4,616.7" fill="none" stroke="#ff0000" stroke-width="1.0" stroke-linejoin="round" stroke-opacity="0.7"/>
<polyline points="1428.4,608.5 1428.4,618.4" fill="none" stroke="#ff0000" stroke-width="1.0" stroke-linejoin="round" stroke-opacity="0.7"/>
<polyline points="1432,609.9 1432,618.8" fill="none" stroke="#ff0000" stroke-width="1.0" stroke-linejoin="round" stroke-opacity="0.7"/>
<polyline points="1434.8,609.3 1434.8,620.6" fill="none" stroke="#ff0000" stroke-width="1.0" stroke-linejoin="round" stroke-opacity="0.7"/>
<polyline points="1437.1,609.2 1437.1,620" fill="none" stroke="#ff0000" stroke-width="1.0" stroke-linejoin="round" stroke-opacity="0.7"/>
<polyline points="1439.8,609.2 1439.8,618.5" fill="none" stroke="#ff0000" stroke-width="1.0" stroke-linejoin="round" stroke-opacity="0.7"/>
<polyline points="1442.4,604.3 1442.4,627.5" fill="none" stroke="#ff0000" stroke-width="1.0" stroke-linejoin="round" stroke-opacity="0.7"/>
<polyline points="1444.5,608.5 1444.5,620" fill="none" stroke="#ff0000" stroke-width="1.0" stroke-linejoin="round" stroke-opacity="0.7"/>
<polyline points="1445.8,599.4 1445.8,619.7" fill="none" stroke="#ff0000" stroke-width="1.0" stroke-linejoin="round" stroke-opacity="0.7"/>
<polyline points="1448.3,604 1448.3,620.6" fill="none" stroke="#ff0000" stroke-width="1.0" stroke-linejoin="round" stroke-opacity="0.7"/>
<polyline points="1451.4,603.3 1451.4,621.8" fill="none" stroke="#ff0000" stroke-width="1.0" stroke-linejoin="round" stroke-opacity="0.7"/>
<polyline points="1455,604.2 1455,622.7" fill="none" stroke="#ff0000" stroke-width="1.0" stroke-linejoin="round" stroke-opacity="0.7"/>
<polyline points="1459,604.2 1459,625.6" fill="none" stroke="#ff0000" stroke-width="1.0" stroke-linejoin="round" stroke-opacity="0.7"/>
<polyline points="1461.5,602.2 1461.5,618.5" fill="none" stroke="#ff0000" stroke-width="1.0" stroke-linejoin="round" stroke-opacity="0.7"/>
<polyline points="1465.4,605.3 1465.4,619.5" fill="none" stroke="#ff0000" stroke-width="1.0" stroke-linejoin="round" stroke-opacity="0.7"/>
<polyline points="1468.3,588.9 1468.3,631.9" fill="none" stroke="#ff0000" stroke-width="1.0" stroke-linejoin="round" stroke-opacity="0.7"/>
<polyline points="1471,591.1 1471,628.6" fill="none" stroke="#ff0000" stroke-width="1.0" stroke-linejoin="round" stroke-opacity="0.7"/>
<polyline points="1474.7,591.1 1474.7,628.1" fill="none" stroke="#ff0000" stroke-width="1.0" stroke-linejoin="round" stroke-opacity="0.7"/>
<polyline points="1478.5,589.7 1478.5,630.1" fill="none" stroke="#ff0000" stroke-width="1.0" stroke-linejoin="round" stroke-opacity="0.7"/>
<polyline points="1483.2,592.3 1483.2,628.4" fill="none" stroke="#ff0000" stroke-width="1.0" stroke-linejoin="round" stroke-opacity="0.7"/>
<polyline points="1485.2,591.1 1485.2,629.4" fill="none" stroke="#ff0000" stroke-width="1.0" stroke-linejoin="round" stroke-opacity="0.7"/>
<polyline points="1488.5,592 1488.5,632" fill="none" stroke="#ff0000" stroke-width="1.0" stroke-linejoin="round" stroke-opacity="0.7"/>
<polyline points="1490.8,586.9 1490.8,630.1" fill="none" stroke="#ff0000" stroke-width="1.0" stroke-linejoin="round" stroke-opacity="0.7"/>
<polyline points="1494.4,588.9 1494.4,628.7" fill="none" stroke="#ff0000" stroke-width="1.0" stroke-linejoin="round" stroke-opacity="0.7"/>
<polyline points="1496.8,591.9 1496.8,628.1" fill="none" stroke="#ff0000" stroke-width="1.0" stroke-linejoin="round" stroke-opacity="0.7"/>
<polyline points="1498.6,581 1498.6,592.4" fill="none" stroke="#ff0000" stroke-width="1.0" stroke-linejoin="round" stroke-opacity="0.7"/>
<polyline points="1501.4,581.2 1501.4,590.7" fill="none" stroke="#ff0000" stroke-width="1.0" stroke-linejoin="round" stroke-opacity="0.7"/>
<polyline points="1505.9,582.9 1505.9,591.2" fill="none" stroke="#ff0000" stroke-width="1.0" stroke-linejoin="round" stroke-opacity="0.7"/>
<polyline points="1508.3,580.5 1508.3,594.9" fill="none" stroke="#ff0000" stroke-width="1.0" stroke-linejoin="round" stroke-opacity="0.7"/>
<polyline points="1512.7,583.2 1512.7,591.8" fill="none" stroke="#ff0000" stroke-width="1.0" stroke-linejoin="round" stroke-opacity="0.7"/>
<polyline points="1515.8,582.8 1515.8,599.3" fill="none" stroke="#ff0000" stroke-width="1.0" stroke-linejoin="round" stroke-opacity="0.7"/>
<polyline points="1517.9,581.7 1517.9,594.1" fill="none" stroke="#ff0000" stroke-width="1.0" stroke-linejoin="round" stroke-opacity="0.7"/>
<polyline points="1522.9,583 1522.9,592" fill="none" stroke="#ff0000" stroke-width="1.0" stroke-linejoin="round" stroke-opacity="0.7"/>
<polyline points="1527.1,583.3 1527.1,591.2" fill="none" stroke="#ff0000" stroke-width="1.0" stroke-linejoin="round" stroke-opacity="0.7"/>
<polyline points="1531.8,583 1531.8,591.7" fill="none" stroke="#ff0000" stroke-width="1.0" stroke-linejoin="round" stroke-opacity="0.7"/>
<polyline points="1534.7,582 1534.7,590.7" fill="none" stroke="#ff0000" stroke-width="1.0" stroke-linejoin="round" stroke-opacity="0.7"/>
<polyline points="1536.8,569.5 1536.8,594.1" fill="none" stroke="#ff0000" stroke-width="1.0" stroke-linejoin="round" stroke-opacity="0.7"/>
<polyline points="1541,582.7 1541,591.2" fill="none" stroke="#ff0000" stroke-width="1.0" stroke-linejoin="round" stroke-opacity="0.7"/>
<polyline points="1544.6,582.7 1544.6,592" fill="none" stroke="#ff0000" stroke-width="1.0" stroke-linejoin="round" stroke-opacity="0.7"/>
<polyline points="1549.4,582.3 1549.4,591.5" fill="none" stroke="#ff0000" stroke-width="1.0" stroke-linejoin="round" stroke-opacity="0.7"/>
<polyline points="1554.4,581 1554.4,590.6" fill="none" stroke="#ff0000" stroke-width="1.0" stroke-linejoin="round" stroke-opacity="0.7"/>
<polyline points="1557.6,580.8 1557.6,590.7" fill="none" stroke="#ff0000" stroke-width="1.0" stroke-linejoin="round" stroke-opacity="0.7"/>
<polyline points="1560.6,580.4 1560.6,595.5" fill="none" stroke="#ff0000" stroke-width="1.0" stroke-linejoin="round" stroke-opacity="0.7"/>
<polyline points="1564.4,578 1564.4,592.1" fill="none" stroke="#ff0000" stroke-width="1.0" stroke-linejoin="round" stroke-opacity="0.7"/>
<polyline points="1567.6,578.8 1567.6,591.7" fill="none" stroke="#ff0000" stroke-width="1.0" stroke-linejoin="round" stroke-opacity="0.7"/>
<polyline points="1571.9,582.8 1571.9,591.6" fill="none" stroke="#ff0000" stroke-width="1.0" stroke-linejoin="round" stroke-opacity="0.7"/>
<polyline points="1574.5,581.4 1574.5,590.9" fill="none" stroke="#ff0000" stroke-width="1.0" stroke-linejoin="round" stroke-opacity="0.7"/>
<polyline points="1577.1,582.8 1577.1,592.1" fill="none" stroke="#ff0000" stroke-width="1.0" stroke-linejoin="round" stroke-opacity="0.7"/>
<polyline points="1580,581.9 1580,603" fill="none" stroke="#ff0000" stroke-width="1.0" stroke-linejoin="round" stroke-opacity="0.7"/>
<polyline points="1584,578.4 1584,591.1" fill="none" stroke="#ff0000" stroke-width="1.0" stroke-linejoin="round" stroke-opacity="0.7"/>
<polyline points="1587.2,583.2 1587.2,593.4" fill="none" stroke="#ff0000" stroke-width="1.0" stroke-linejoin="round" stroke-opacity="0.7"/>
<polyline points="1590.3,582.6 1590.3,590.5" fill="none" stroke="#ff0000" stroke-width="1.0" stroke-linejoin="round" stroke-opacity="0.7"/>
<polyline points="1592.8,582.6 1592.8,591.7" fill="none" stroke="#ff0000" stroke-width="1.0" stroke-linejoin="round" stroke-opacity="0.7"/>
<polyline points="1597.6,580.3 1597.6,591.3" fill="none" stroke="#ff0000" stroke-width="1.0" stroke-linejoin="round" stroke-opacity="0.7"/>
<polyline points="1600.7,583 1600.7,597.4" fill="none" stroke="#ff0000" stroke-width="1.0" stroke-linejoin="round" stroke-opacity="0.7"/>
<polyline points="1603.7,579.8 1603.7,593.7" fill="none" stroke="#ff0000" stroke-width="1.0" stroke-linejoin="round" stroke-opacity="0.7"/>
<polyline points="1608,606.5 1608,619.7" fill="none" stroke="#ff0000" stroke-width="1.0" stroke-linejoin="round" stroke-opacity="0.7"/>
<polyline points="1611.2,606.4 1611.2,624.1" fill="none" stroke="#ff0000" stroke-width="1.0" stroke-linejoin="round" stroke-opacity="0.7"/>
<polyline points="1614.1,602.9 1614.1,620.5" fill="none" stroke="#ff0000" stroke-width="1.0" stroke-linejoin="round" stroke-opacity="0.7"/>
<polyline points="1616.3,605.3 1616.3,619.4" fill="none" stroke="#ff0000" stroke-width="1.0" stroke-linejoin="round" stroke-opacity="0.7"/>
<polyline points="1618.4,606.2 1618.4,621" fill="none" stroke="#ff0000" stroke-width="1.0" stroke-linejoin="round" stroke-opacity="0.7"/>
<polyline points="1620.5,605.7 1620.5,620.1" fill="none" stroke="#ff0000" stroke-width="1.0" stroke-linejoin="round" stroke-opacity="0.7"/>
<polyline points="1624.1,606.2 1624.1,621.8" fill="none" stroke="#ff0000" stroke-width="1.0" stroke-linejoin="round" stroke-opacity="0.7"/>
<polyline points="1626.9,603.4 1626.9,621.4" fill="none" stroke="#ff0000" stroke-width="1.0" stroke-linejoin="round" stroke-opacity="0.7"/>
<polyline points="1629.4,606 1629.4,619.5" fill="none" stroke="#ff0000" stroke-width="1.0" stroke-linejoin="round" stroke-opacity="0.7"/>
<polyline points="1633.5,605.3 1633.5,619.9" fill="none" stroke="#ff0000" stroke-width="1.0" stroke-linejoin="round" stroke-opacity="0.7"/>
<polyline points="1638.1,606 1638.1,619.6" fill="none" stroke="#ff0000" stroke-width="1.0" stroke-linejoin="round" stroke-opacity="0.7"/>
<polyline points="1641.1,606 1641.1,618.8" fill="none" stroke="#ff0000" stroke-width="1.0" stroke-linejoin="round" stroke-opacity="0.7"/>
<polyline points="1643.2,604.1 1643.2,620.8" fill="none" stroke="#ff0000" stroke-width="1.0" stroke-linejoin="round" stroke-opacity="0.7"/>
<polyline points="1647.6,597.3 1647.6,619.6" fill="none" stroke="#ff0000" stroke-width="1.0" stroke-linejoin="round" stroke-opacity="0.7"/>
<polygon points="212,1045 221,1045 221,1140 212,1140" fill="#0000ff" fill-opacity="0.4"/>
<polygon points="244.5,1020 256,1020 256,1136 244.5,1136" fill="#0000ff" fill-opacity="0.4"/>
<polygon points="256,1043 267.5,1043 267.5,1131 256,1131" fill="#0000ff" fill-opacity="0.4"/>
<polyline points="199.5,1081 202,1079.5 206,1079 209.6,1078 209.6,1000.3 210.2,1175 211.5,1160 213,1140 215.2,1133.5 216.5,1090 218,1060 219.4,1050 220.5,1040 221.5,1000.3 222,1175 223,1150 223.6,1140.5 225.5,1110 227,1090 228.4,1083 229.5,1050 231,1020 232.6,1014 234,1025 235.4,1055 238,1070 241,1085 243.8,1099 243,1133.5 245,1100 246.5,1020 247.5,1000.3 249,1050 250.5,1100 251.5,1000.3 252.3,1175 253.2,1100 255,1060 257.7,1043 259,1050 261,1090 262.5,1131 264,1060 265.5,1045 267,1100 268.8,1043" fill="none" stroke="#0000ff" stroke-width="2.6" stroke-linejoin="round" />
<polygon points="250.8,1130 253.8,1130 253.8,1175 250.8,1175" fill="#0000ff" />
<polygon points="213,1120 217,1120 216,1145 214,1145" fill="#0000ff" />
<polygon points="217.5,1040 221,1040 220,1058 218,1058" fill="#0000ff" />
<rect x="268.8" y="1000.3" width="7.7" height="174.7" fill="#0000ff" fill-opacity="1.0"/>
<polyline points="276.5,1131.5 303.6,1131.5 303.6,1087.8 311,1087.8 311,1043.2 349,1043.2" fill="none" stroke="#0000ff" stroke-width="2.1" stroke-linejoin="round" />
<rect x="349" y="1000.3" width="41.2" height="174.7" fill="#0000ff" fill-opacity="1.0"/>
<polyline points="390.2,1131.5 432.3,1131.5 432.3,1087.8 450.8,1087.8 452.5,1044 457,1042 459.2,1030.6 461.7,1010.4 471,1010 472.7,1005.3" fill="none" stroke="#0000ff" stroke-width="2.1" stroke-linejoin="round" />
<rect x="418.8" y="1000.3" width="5.1" height="174.7" fill="#0000ff" fill-opacity="1.0"/>
<rect x="472.6" y="1000.3" width="9.3" height="174.7" fill="#0000ff" fill-opacity="1"/>
<rect x="490.3" y="1000.3" width="20.2" height="174.7" fill="#0000ff" fill-opacity="1"/>
<rect x="524.8" y="1000.3" width="16" height="174.7" fill="#0000ff" fill-opacity="1"/>
<rect x="544.1" y="1000.3" width="3.4" height="174.7" fill="#0000ff" fill-opacity="0.45"/>
<rect x="555.9" y="1000.3" width="15.1" height="174.7" fill="#0000ff" fill-opacity="1"/>
<rect x="593.8" y="1000.3" width="5" height="174.7" fill="#0000ff" fill-opacity="0.45"/>
<rect x="604.7" y="1000.3" width="5.9" height="174.7" fill="#0000ff" fill-opacity="0.45"/>
<rect x="613.1" y="1000.3" width="6.8" height="174.7" fill="#0000ff" fill-opacity="0.8"/>
<rect x="628.3" y="1000.3" width="10.1" height="174.7" fill="#0000ff" fill-opacity="1"/>
<rect x="638.4" y="1000.3" width="5" height="174.7" fill="#0000ff" fill-opacity="0.5"/>
<rect x="649.3" y="1000.3" width="6.7" height="174.7" fill="#0000ff" fill-opacity="0.7"/>
<rect x="664.4" y="1000.3" width="15.2" height="174.7" fill="#0000ff" fill-opacity="1"/>
<polyline points="481.9,1174 490.3,1174" fill="none" stroke="#0000ff" stroke-width="2.8" stroke-linejoin="round" />
<polyline points="510.5,1173 524.8,1172" fill="none" stroke="#0000ff" stroke-width="2.8" stroke-linejoin="round" />
<polyline points="547.5,1173 555.9,1172" fill="none" stroke="#0000ff" stroke-width="2.8" stroke-linejoin="round" />
<polyline points="679.6,1175 757,1175" fill="none" stroke="#0000ff" stroke-width="2.8" stroke-linejoin="round" />
<polyline points="757,1175 757.5,1108 760,1100 762.4,1064.2 763.3,1089.3 800,1089.3 842.3,1089.3 844,1083 846,1097.4 847.7,1090.5 880,1089.8 940,1088.8 959,1088 961,1093 964,1088.5 1000,1088.4 1005.6,1085.5 1010,1088.4 1041.5,1088.4 1043,1175 1044.2,1175" fill="none" stroke="#0000ff" stroke-width="2.8" stroke-linejoin="round" />
<rect x="1044.2" y="1000.3" width="25.2" height="174.7" fill="#0000ff" fill-opacity="1"/>
<rect x="1069.4" y="1000.3" width="3.9" height="174.7" fill="#0000ff" fill-opacity="0.45"/>
<rect x="1073.3" y="1000.3" width="7.1" height="174.7" fill="#0000ff" fill-opacity="1"/>
<rect x="1080.4" y="1000.3" width="4" height="174.7" fill="#0000ff" fill-opacity="0.45"/>
<rect x="1084.4" y="1000.3" width="33.1" height="174.7" fill="#0000ff" fill-opacity="1"/>
<rect x="1117.5" y="1000.3" width="7.1" height="174.7" fill="#0000ff" fill-opacity="0.45"/>
<rect x="1124.6" y="1000.3" width="21.2" height="174.7" fill="#0000ff" fill-opacity="1"/>
<rect x="1151.4" y="1000.3" width="7.8" height="174.7" fill="#0000ff" fill-opacity="0.85"/>
<rect x="1170.3" y="1000.3" width="7.1" height="174.7" fill="#0000ff" fill-opacity="0.45"/>
<rect x="1187.6" y="1000.3" width="7.1" height="174.7" fill="#0000ff" fill-opacity="1"/>
<rect x="1199.2" y="1000.3" width="5.6" height="174.7" fill="#0000ff" fill-opacity="0.55"/>
<rect x="1219" y="1000.3" width="4" height="174.7" fill="#0000ff" fill-opacity="0.9"/>
<rect x="1223" y="1000.3" width="8.5" height="174.7" fill="#0000ff" fill-opacity="0.4"/>
<rect x="1241.8" y="1000.3" width="5.5" height="174.7" fill="#0000ff" fill-opacity="0.9"/>
<rect x="1253.6" y="1000.3" width="7.1" height="174.7" fill="#0000ff" fill-opacity="0.45"/>
<rect x="1262.3" y="1000.3" width="2.3" height="174.7" fill="#0000ff" fill-opacity="0.8"/>
<rect x="1277.2" y="1000.3" width="14.2" height="174.7" fill="#0000ff" fill-opacity="1"/>
<rect x="1291.4" y="1000.3" width="6.3" height="174.7" fill="#0000ff" fill-opacity="0.6"/>
<rect x="1307.2" y="1000.3" width="14.9" height="174.7" fill="#0000ff" fill-opacity="1"/>
<rect x="1322.1" y="1000.3" width="12.7" height="174.7" fill="#0000ff" fill-opacity="0.7"/>
<rect x="1338.7" y="1000.3" width="26.8" height="174.7" fill="#0000ff" fill-opacity="1"/>
<rect x="1365.5" y="1000.3" width="3.5" height="174.7" fill="#0000ff" fill-opacity="0.5"/>
<polyline points="1159.5,1150 1161,1122 1166,1090 1170,1076" fill="none" stroke="#0000ff" stroke-width="1.6" stroke-linejoin="round" stroke-opacity="0.8"/>
<polyline points="1177,1140 1181,1110 1185,1082 1187.5,1076" fill="none" stroke="#0000ff" stroke-width="1.6" stroke-linejoin="round" stroke-opacity="0.8"/>
<rect x="1172" y="1130" width="8" height="45" fill="#0000ff" fill-opacity="0.6"/>
<polyline points="1369,1120 1370,1064.9 1372,1089.1 1400,1089.1 1448.8,1089.1 1452,1091 1458,1091.5 1465,1091 1472,1089" fill="none" stroke="#0000ff" stroke-width="2.8" stroke-linejoin="round" />
<rect x="1472.2" y="1000.3" width="9.2" height="174.7" fill="#0000ff" fill-opacity="1.0"/>
<polyline points="1481.4,1000.3 1483,1175 1485,1000.3 1487,1175 1489,1000.3 1491,1175" fill="none" stroke="#0000ff" stroke-width="1.4" stroke-linejoin="round" />
<rect x="1491" y="1000.3" width="7.6" height="174.7" fill="#0000ff" fill-opacity="0.9"/>
<polyline points="1498.6,1175 1518.6,1000.3 1519.2,1175 1537.5,1000.3 1538.2,1175 1551.5,1000.3 1552.3,1175 1573,1000.3 1573.8,1175 1597.5,1000.3 1598.5,1175 1603,1104.4 1607,1090 1609,1064 1610,1090 1620,1088 1630,1087 1636,1087.5 1640,1085 1648,1085" fill="none" stroke="#0000ff" stroke-width="2.8" stroke-linejoin="round" />
<rect x="1596.5" y="1000.3" width="3" height="174.7" fill="#0000ff" fill-opacity="1.0"/>
<g font-family="'Liberation Serif', 'Times New Roman', serif" font-weight="bold" font-size="54" fill="#000">
<text x="197" y="370.0" text-anchor="middle" letter-spacing="0.4">0</text>
<text x="365.3" y="370.0" text-anchor="middle" letter-spacing="0.4">0.5</text>
<text x="533.6" y="370.0" text-anchor="middle" letter-spacing="0.4">1</text>
<text x="702.7" y="370.0" text-anchor="middle" letter-spacing="0.4">1.5</text>
<text x="872.1" y="370.0" text-anchor="middle" letter-spacing="0.4">2</text>
<text x="1039.5" y="370.0" text-anchor="middle" letter-spacing="0.4">2.5</text>
<text x="1209.3" y="370.0" text-anchor="middle" letter-spacing="0.4">3</text>
<text x="1379.1" y="370.0" text-anchor="middle" letter-spacing="0.4">3.5</text>
<text x="1548.2" y="370.0" text-anchor="middle" letter-spacing="0.4">4</text>
<text x="1717.2" y="370.0" text-anchor="middle" letter-spacing="0.4">4.5</text>
<text x="177" y="136.3" text-anchor="end">40</text>
<text x="177" y="175.5" text-anchor="end">20</text>
<text x="177" y="214.7" text-anchor="end">0</text>
<text x="177" y="253.9" text-anchor="end"><tspan dy="4.5" stroke="#000" stroke-width="2.2">−</tspan><tspan dy="-4.5">20</tspan></text>
<text x="177" y="293.1" text-anchor="end"><tspan dy="4.5" stroke="#000" stroke-width="2.2">−</tspan><tspan dy="-4.5">40</tspan></text>
<text x="954.7" y="83.0" text-anchor="middle" letter-spacing="0">Pitch</text>
<text x="957" y="439.0" text-anchor="middle" letter-spacing="0.75">Time (second)</text>
<text transform="translate(75.5,200.1) rotate(-90)" text-anchor="middle">Pitch (deg)</text>
<text x="1595.9" y="462.5" font-weight="normal" font-size="70">×</text>
<text x="1637" y="452" font-weight="normal" letter-spacing="2" stroke="#000" stroke-width="1.3">10</text>
<text x="1694" y="425" font-weight="normal" font-size="43" stroke="#000" stroke-width="1.3">4</text>
<text x="197" y="807.0" text-anchor="middle" letter-spacing="0.4">0</text>
<text x="365.3" y="807.0" text-anchor="middle" letter-spacing="0.4">0.5</text>
<text x="533.6" y="807.0" text-anchor="middle" letter-spacing="0.4">1</text>
<text x="702.7" y="807.0" text-anchor="middle" letter-spacing="0.4">1.5</text>
<text x="872.1" y="807.0" text-anchor="middle" letter-spacing="0.4">2</text>
<text x="1039.5" y="807.0" text-anchor="middle" letter-spacing="0.4">2.5</text>
<text x="1209.3" y="807.0" text-anchor="middle" letter-spacing="0.4">3</text>
<text x="1379.1" y="807.0" text-anchor="middle" letter-spacing="0.4">3.5</text>
<text x="1548.2" y="807.0" text-anchor="middle" letter-spacing="0.4">4</text>
<text x="1717.2" y="807.0" text-anchor="middle" letter-spacing="0.4">4.5</text>
<text x="177" y="573.3" text-anchor="end">10</text>
<text x="177" y="634.1" text-anchor="end">0</text>
<text x="177" y="694.9" text-anchor="end"><tspan dy="4.5" stroke="#000" stroke-width="2.2">−</tspan><tspan dy="-4.5">10</tspan></text>
<text x="177" y="755.7" text-anchor="end"><tspan dy="4.5" stroke="#000" stroke-width="2.2">−</tspan><tspan dy="-4.5">20</tspan></text>
<text x="956.3" y="522.0" text-anchor="middle" letter-spacing="1.1">Roll</text>
<text x="957" y="876.5" text-anchor="middle" letter-spacing="0.75">Time (second)</text>
<text transform="translate(75.5,639.6) rotate(-90)" text-anchor="middle">Roll (deg)</text>
<text x="1595.9" y="901" font-weight="normal" font-size="70">×</text>
<text x="1637" y="890.5" font-weight="normal" letter-spacing="2" stroke="#000" stroke-width="1.3">10</text>
<text x="1694" y="863.5" font-weight="normal" font-size="43" stroke="#000" stroke-width="1.3">4</text>
<text x="197" y="1248.5" text-anchor="middle" letter-spacing="0.4">0</text>
<text x="365.3" y="1248.5" text-anchor="middle" letter-spacing="0.4">0.5</text>
<text x="533.6" y="1248.5" text-anchor="middle" letter-spacing="0.4">1</text>
<text x="702.7" y="1248.5" text-anchor="middle" letter-spacing="0.4">1.5</text>
<text x="872.1" y="1248.5" text-anchor="middle" letter-spacing="0.4">2</text>
<text x="1039.5" y="1248.5" text-anchor="middle" letter-spacing="0.4">2.5</text>
<text x="1209.3" y="1248.5" text-anchor="middle" letter-spacing="0.4">3</text>
<text x="1379.1" y="1248.5" text-anchor="middle" letter-spacing="0.4">3.5</text>
<text x="1548.2" y="1248.5" text-anchor="middle" letter-spacing="0.4">4</text>
<text x="1717.2" y="1248.5" text-anchor="middle" letter-spacing="0.4">4.5</text>
<text x="177" y="1002" text-anchor="end">400</text>
<text x="177" y="1099.3" text-anchor="end">200</text>
<text x="177" y="1196.6" text-anchor="end">0</text>
<text x="956.4" y="960.0" text-anchor="middle" letter-spacing="0.6">Heading</text>
<text x="957" y="1317.5" text-anchor="middle" letter-spacing="0.75">Time (second)</text>
<text transform="translate(68,1076.3) rotate(-90)" text-anchor="middle">Headin (deg)</text>
<text x="1595.9" y="1342.5" font-weight="normal" font-size="70">×</text>
<text x="1637" y="1332" font-weight="normal" letter-spacing="2" stroke="#000" stroke-width="1.3">10</text>
<text x="1694" y="1305" font-weight="normal" font-size="43" stroke="#000" stroke-width="1.3">4</text>
</g>
</svg>
</div></body></html>
